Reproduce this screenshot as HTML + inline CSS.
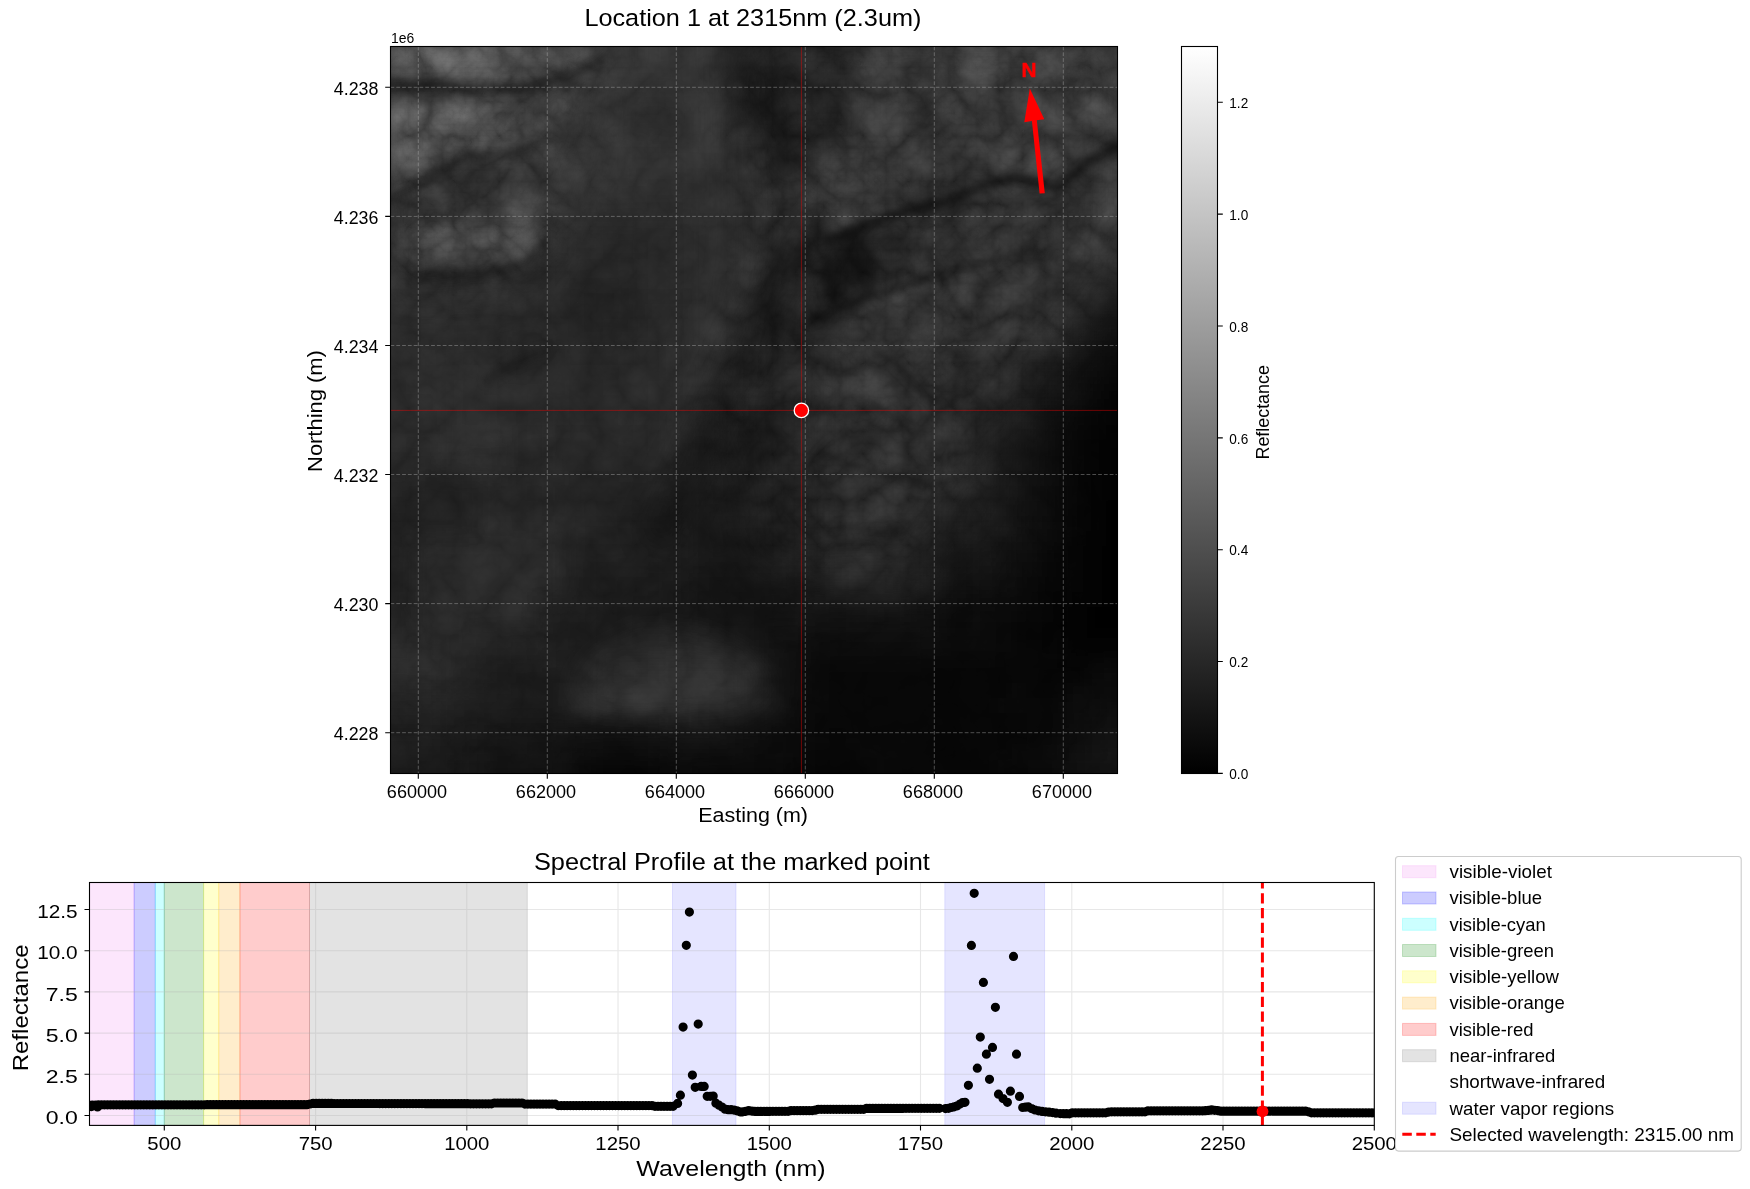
<!DOCTYPE html>
<html><head><meta charset="utf-8"><style>
html,body{margin:0;padding:0;background:#fff;width:1750px;height:1189px;overflow:hidden}
svg{display:block;will-change:transform}
text{font-family:"Liberation Sans", sans-serif}
</style></head><body>
<svg width="1750" height="1189" viewBox="0 0 1750 1189">
<defs><clipPath id="ic"><rect x="390.5" y="46.5" width="727.0" height="727.0"/></clipPath><filter id="ib" x="-5%" y="-5%" width="110%" height="110%" color-interpolation-filters="sRGB"><feGaussianBlur stdDeviation="6.0"/></filter><filter id="fb" x="-10%" y="-10%" width="120%" height="120%" color-interpolation-filters="sRGB"><feGaussianBlur stdDeviation="3.5"/></filter><filter id="tx" x="0" y="0" width="100%" height="100%" color-interpolation-filters="sRGB"><feTurbulence type="turbulence" baseFrequency="0.022" numOctaves="5" seed="11" result="t"/><feColorMatrix in="t" type="matrix" values="0.42 0 0 0 0.361 0.42 0 0 0 0.361 0.42 0 0 0 0.361 0 0 0 0 1" result="n"/><feComposite in="SourceGraphic" in2="n" operator="arithmetic" k1="2" k2="0" k3="0" k4="0"/></filter><filter id="sb" x="-30%" y="-30%" width="160%" height="160%" color-interpolation-filters="sRGB"><feGaussianBlur stdDeviation="12"/></filter><g id="baseimg"><g filter="url(#ib)"><path fill="#010101" d="M1102.4 500.9h15.6v15.6h-15.6zM1117.5 500.9h15.6v15.6h-15.6zM1132.6 500.9h15.6v15.6h-15.6zM1147.8 500.9h15.6v15.6h-15.6zM1162.9 500.9h15.6v15.6h-15.6zM1102.4 516.0h15.6v15.6h-15.6zM1117.5 516.0h15.6v15.6h-15.6zM1132.6 516.0h15.6v15.6h-15.6zM1147.8 516.0h15.6v15.6h-15.6zM1162.9 516.0h15.6v15.6h-15.6zM1102.4 531.2h15.6v15.6h-15.6zM1117.5 531.2h15.6v15.6h-15.6zM1132.6 531.2h15.6v15.6h-15.6zM1147.8 531.2h15.6v15.6h-15.6zM1162.9 531.2h15.6v15.6h-15.6zM1102.4 546.3h15.6v15.6h-15.6zM1117.5 546.3h15.6v15.6h-15.6zM1132.6 546.3h15.6v15.6h-15.6zM1147.8 546.3h15.6v15.6h-15.6zM1162.9 546.3h15.6v15.6h-15.6zM1102.4 561.5h15.6v15.6h-15.6zM1117.5 561.5h15.6v15.6h-15.6zM1132.6 561.5h15.6v15.6h-15.6zM1147.8 561.5h15.6v15.6h-15.6zM1162.9 561.5h15.6v15.6h-15.6zM1102.4 576.6h15.6v15.6h-15.6zM1117.5 576.6h15.6v15.6h-15.6zM1132.6 576.6h15.6v15.6h-15.6zM1147.8 576.6h15.6v15.6h-15.6zM1162.9 576.6h15.6v15.6h-15.6zM1102.4 591.8h15.6v15.6h-15.6zM1117.5 591.8h15.6v15.6h-15.6zM1132.6 591.8h15.6v15.6h-15.6zM1147.8 591.8h15.6v15.6h-15.6zM1162.9 591.8h15.6v15.6h-15.6zM1087.2 606.9h15.6v15.6h-15.6zM1102.4 606.9h15.6v15.6h-15.6zM1117.5 606.9h15.6v15.6h-15.6zM1132.6 606.9h15.6v15.6h-15.6zM1147.8 606.9h15.6v15.6h-15.6zM1162.9 606.9h15.6v15.6h-15.6zM1087.2 622.0h15.6v15.6h-15.6zM1102.4 622.0h15.6v15.6h-15.6zM1117.5 622.0h15.6v15.6h-15.6zM1132.6 622.0h15.6v15.6h-15.6zM1147.8 622.0h15.6v15.6h-15.6zM1162.9 622.0h15.6v15.6h-15.6z"/><path fill="#020202" d="M1102.4 440.3h15.6v15.6h-15.6zM1117.5 440.3h15.6v15.6h-15.6zM1132.6 440.3h15.6v15.6h-15.6zM1147.8 440.3h15.6v15.6h-15.6zM1162.9 440.3h15.6v15.6h-15.6zM1102.4 455.4h15.6v15.6h-15.6zM1117.5 455.4h15.6v15.6h-15.6zM1132.6 455.4h15.6v15.6h-15.6zM1147.8 455.4h15.6v15.6h-15.6zM1162.9 455.4h15.6v15.6h-15.6zM1102.4 470.6h15.6v15.6h-15.6zM1117.5 470.6h15.6v15.6h-15.6zM1132.6 470.6h15.6v15.6h-15.6zM1147.8 470.6h15.6v15.6h-15.6zM1162.9 470.6h15.6v15.6h-15.6zM1102.4 485.7h15.6v15.6h-15.6zM1117.5 485.7h15.6v15.6h-15.6zM1132.6 485.7h15.6v15.6h-15.6zM1147.8 485.7h15.6v15.6h-15.6zM1162.9 485.7h15.6v15.6h-15.6zM1087.2 546.3h15.6v15.6h-15.6zM1087.2 561.5h15.6v15.6h-15.6zM1087.2 576.6h15.6v15.6h-15.6zM1087.2 591.8h15.6v15.6h-15.6zM1072.1 606.9h15.6v15.6h-15.6zM1072.1 622.0h15.6v15.6h-15.6zM1072.1 637.2h15.6v15.6h-15.6zM1087.2 637.2h15.6v15.6h-15.6zM1102.4 637.2h15.6v15.6h-15.6zM1117.5 637.2h15.6v15.6h-15.6zM1132.6 637.2h15.6v15.6h-15.6zM1147.8 637.2h15.6v15.6h-15.6zM1162.9 637.2h15.6v15.6h-15.6z"/><path fill="#030303" d="M1102.4 425.1h15.6v15.6h-15.6zM1117.5 425.1h15.6v15.6h-15.6zM1132.6 425.1h15.6v15.6h-15.6zM1147.8 425.1h15.6v15.6h-15.6zM1162.9 425.1h15.6v15.6h-15.6zM1087.2 470.6h15.6v15.6h-15.6zM1087.2 485.7h15.6v15.6h-15.6zM1087.2 500.9h15.6v15.6h-15.6zM1087.2 516.0h15.6v15.6h-15.6zM1087.2 531.2h15.6v15.6h-15.6zM1072.1 591.8h15.6v15.6h-15.6zM1056.9 622.0h15.6v15.6h-15.6z"/><path fill="#040404" d="M1102.4 394.9h15.6v15.6h-15.6zM1117.5 394.9h15.6v15.6h-15.6zM1132.6 394.9h15.6v15.6h-15.6zM1147.8 394.9h15.6v15.6h-15.6zM1162.9 394.9h15.6v15.6h-15.6zM1102.4 410.0h15.6v15.6h-15.6zM1117.5 410.0h15.6v15.6h-15.6zM1132.6 410.0h15.6v15.6h-15.6zM1147.8 410.0h15.6v15.6h-15.6zM1162.9 410.0h15.6v15.6h-15.6zM1087.2 440.3h15.6v15.6h-15.6zM1087.2 455.4h15.6v15.6h-15.6zM1072.1 531.2h15.6v15.6h-15.6zM1072.1 546.3h15.6v15.6h-15.6zM1072.1 561.5h15.6v15.6h-15.6zM1072.1 576.6h15.6v15.6h-15.6zM1056.9 591.8h15.6v15.6h-15.6zM1056.9 606.9h15.6v15.6h-15.6zM1056.9 637.2h15.6v15.6h-15.6zM1072.1 652.3h15.6v15.6h-15.6z"/><path fill="#050505" d="M1087.2 425.1h15.6v15.6h-15.6zM1072.1 470.6h15.6v15.6h-15.6zM1072.1 485.7h15.6v15.6h-15.6zM1072.1 500.9h15.6v15.6h-15.6zM1072.1 516.0h15.6v15.6h-15.6zM1056.9 576.6h15.6v15.6h-15.6zM1041.8 622.0h15.6v15.6h-15.6zM1041.8 637.2h15.6v15.6h-15.6zM1056.9 652.3h15.6v15.6h-15.6zM1087.2 652.3h15.6v15.6h-15.6z"/><path fill="#060606" d="M1102.4 379.7h15.6v15.6h-15.6zM1117.5 379.7h15.6v15.6h-15.6zM1132.6 379.7h15.6v15.6h-15.6zM1147.8 379.7h15.6v15.6h-15.6zM1162.9 379.7h15.6v15.6h-15.6zM1087.2 410.0h15.6v15.6h-15.6zM1072.1 440.3h15.6v15.6h-15.6zM1072.1 455.4h15.6v15.6h-15.6zM1056.9 546.3h15.6v15.6h-15.6zM1056.9 561.5h15.6v15.6h-15.6zM1041.8 591.8h15.6v15.6h-15.6zM1041.8 606.9h15.6v15.6h-15.6zM1026.6 622.0h15.6v15.6h-15.6zM1026.6 637.2h15.6v15.6h-15.6zM1026.6 652.3h15.6v15.6h-15.6zM1041.8 652.3h15.6v15.6h-15.6zM1102.4 652.3h15.6v15.6h-15.6zM1117.5 652.3h15.6v15.6h-15.6zM1132.6 652.3h15.6v15.6h-15.6zM1147.8 652.3h15.6v15.6h-15.6zM1162.9 652.3h15.6v15.6h-15.6zM1041.8 667.5h15.6v15.6h-15.6zM1056.9 667.5h15.6v15.6h-15.6zM1072.1 667.5h15.6v15.6h-15.6z"/><path fill="#070707" d="M1072.1 425.1h15.6v15.6h-15.6zM1056.9 531.2h15.6v15.6h-15.6zM1041.8 561.5h15.6v15.6h-15.6zM1041.8 576.6h15.6v15.6h-15.6zM1026.6 606.9h15.6v15.6h-15.6zM1011.5 622.0h15.6v15.6h-15.6zM1011.5 637.2h15.6v15.6h-15.6zM996.3 652.3h15.6v15.6h-15.6zM1011.5 652.3h15.6v15.6h-15.6zM935.8 667.5h15.6v15.6h-15.6zM950.9 667.5h15.6v15.6h-15.6zM966.0 667.5h15.6v15.6h-15.6zM981.2 667.5h15.6v15.6h-15.6zM996.3 667.5h15.6v15.6h-15.6zM1011.5 667.5h15.6v15.6h-15.6zM1026.6 667.5h15.6v15.6h-15.6zM935.8 682.6h15.6v15.6h-15.6zM950.9 682.6h15.6v15.6h-15.6zM966.0 682.6h15.6v15.6h-15.6zM981.2 682.6h15.6v15.6h-15.6zM996.3 682.6h15.6v15.6h-15.6zM1026.6 682.6h15.6v15.6h-15.6zM1041.8 682.6h15.6v15.6h-15.6zM1056.9 682.6h15.6v15.6h-15.6zM935.8 697.8h15.6v15.6h-15.6zM950.9 697.8h15.6v15.6h-15.6zM966.0 697.8h15.6v15.6h-15.6zM981.2 697.8h15.6v15.6h-15.6zM935.8 712.9h15.6v15.6h-15.6zM950.9 712.9h15.6v15.6h-15.6zM966.0 712.9h15.6v15.6h-15.6zM981.2 712.9h15.6v15.6h-15.6zM996.3 712.9h15.6v15.6h-15.6zM1011.5 712.9h15.6v15.6h-15.6zM829.7 728.1h15.6v15.6h-15.6zM935.8 728.1h15.6v15.6h-15.6zM950.9 728.1h15.6v15.6h-15.6zM966.0 728.1h15.6v15.6h-15.6zM981.2 728.1h15.6v15.6h-15.6zM996.3 728.1h15.6v15.6h-15.6zM1011.5 728.1h15.6v15.6h-15.6zM814.6 743.2h15.6v15.6h-15.6zM829.7 743.2h15.6v15.6h-15.6zM844.9 743.2h15.6v15.6h-15.6zM935.8 743.2h15.6v15.6h-15.6zM950.9 743.2h15.6v15.6h-15.6zM966.0 743.2h15.6v15.6h-15.6zM981.2 743.2h15.6v15.6h-15.6zM996.3 743.2h15.6v15.6h-15.6zM602.5 758.4h15.6v15.6h-15.6zM617.7 758.4h15.6v15.6h-15.6zM632.8 758.4h15.6v15.6h-15.6zM814.6 758.4h15.6v15.6h-15.6zM829.7 758.4h15.6v15.6h-15.6zM844.9 758.4h15.6v15.6h-15.6zM860.0 758.4h15.6v15.6h-15.6zM935.8 758.4h15.6v15.6h-15.6zM950.9 758.4h15.6v15.6h-15.6zM966.0 758.4h15.6v15.6h-15.6zM981.2 758.4h15.6v15.6h-15.6zM602.5 773.5h15.6v15.6h-15.6zM617.7 773.5h15.6v15.6h-15.6zM632.8 773.5h15.6v15.6h-15.6zM814.6 773.5h15.6v15.6h-15.6zM829.7 773.5h15.6v15.6h-15.6zM844.9 773.5h15.6v15.6h-15.6zM860.0 773.5h15.6v15.6h-15.6zM935.8 773.5h15.6v15.6h-15.6zM950.9 773.5h15.6v15.6h-15.6zM966.0 773.5h15.6v15.6h-15.6zM981.2 773.5h15.6v15.6h-15.6zM602.5 788.6h15.6v15.6h-15.6zM617.7 788.6h15.6v15.6h-15.6zM632.8 788.6h15.6v15.6h-15.6zM814.6 788.6h15.6v15.6h-15.6zM829.7 788.6h15.6v15.6h-15.6zM844.9 788.6h15.6v15.6h-15.6zM860.0 788.6h15.6v15.6h-15.6zM935.8 788.6h15.6v15.6h-15.6zM950.9 788.6h15.6v15.6h-15.6zM966.0 788.6h15.6v15.6h-15.6zM981.2 788.6h15.6v15.6h-15.6zM602.5 803.8h15.6v15.6h-15.6zM617.7 803.8h15.6v15.6h-15.6zM632.8 803.8h15.6v15.6h-15.6zM814.6 803.8h15.6v15.6h-15.6zM829.7 803.8h15.6v15.6h-15.6zM844.9 803.8h15.6v15.6h-15.6zM860.0 803.8h15.6v15.6h-15.6zM935.8 803.8h15.6v15.6h-15.6zM950.9 803.8h15.6v15.6h-15.6zM966.0 803.8h15.6v15.6h-15.6zM981.2 803.8h15.6v15.6h-15.6zM602.5 818.9h15.6v15.6h-15.6zM617.7 818.9h15.6v15.6h-15.6zM632.8 818.9h15.6v15.6h-15.6zM814.6 818.9h15.6v15.6h-15.6zM829.7 818.9h15.6v15.6h-15.6zM844.9 818.9h15.6v15.6h-15.6zM860.0 818.9h15.6v15.6h-15.6zM935.8 818.9h15.6v15.6h-15.6zM950.9 818.9h15.6v15.6h-15.6zM966.0 818.9h15.6v15.6h-15.6zM981.2 818.9h15.6v15.6h-15.6z"/><path fill="#080808" d="M1102.4 364.6h15.6v15.6h-15.6zM1117.5 364.6h15.6v15.6h-15.6zM1132.6 364.6h15.6v15.6h-15.6zM1147.8 364.6h15.6v15.6h-15.6zM1162.9 364.6h15.6v15.6h-15.6zM1087.2 394.9h15.6v15.6h-15.6zM1072.1 410.0h15.6v15.6h-15.6zM1056.9 485.7h15.6v15.6h-15.6zM1056.9 500.9h15.6v15.6h-15.6zM1056.9 516.0h15.6v15.6h-15.6zM1041.8 546.3h15.6v15.6h-15.6zM1026.6 591.8h15.6v15.6h-15.6zM1011.5 606.9h15.6v15.6h-15.6zM996.3 622.0h15.6v15.6h-15.6zM996.3 637.2h15.6v15.6h-15.6zM935.8 652.3h15.6v15.6h-15.6zM950.9 652.3h15.6v15.6h-15.6zM966.0 652.3h15.6v15.6h-15.6zM981.2 652.3h15.6v15.6h-15.6zM829.7 667.5h15.6v15.6h-15.6zM844.9 667.5h15.6v15.6h-15.6zM860.0 667.5h15.6v15.6h-15.6zM875.2 667.5h15.6v15.6h-15.6zM890.3 667.5h15.6v15.6h-15.6zM905.5 667.5h15.6v15.6h-15.6zM920.6 667.5h15.6v15.6h-15.6zM1087.2 667.5h15.6v15.6h-15.6zM829.7 682.6h15.6v15.6h-15.6zM844.9 682.6h15.6v15.6h-15.6zM860.0 682.6h15.6v15.6h-15.6zM875.2 682.6h15.6v15.6h-15.6zM890.3 682.6h15.6v15.6h-15.6zM905.5 682.6h15.6v15.6h-15.6zM920.6 682.6h15.6v15.6h-15.6zM1011.5 682.6h15.6v15.6h-15.6zM1072.1 682.6h15.6v15.6h-15.6zM829.7 697.8h15.6v15.6h-15.6zM844.9 697.8h15.6v15.6h-15.6zM860.0 697.8h15.6v15.6h-15.6zM875.2 697.8h15.6v15.6h-15.6zM890.3 697.8h15.6v15.6h-15.6zM905.5 697.8h15.6v15.6h-15.6zM920.6 697.8h15.6v15.6h-15.6zM996.3 697.8h15.6v15.6h-15.6zM1011.5 697.8h15.6v15.6h-15.6zM1026.6 697.8h15.6v15.6h-15.6zM1041.8 697.8h15.6v15.6h-15.6zM814.6 712.9h15.6v15.6h-15.6zM829.7 712.9h15.6v15.6h-15.6zM844.9 712.9h15.6v15.6h-15.6zM860.0 712.9h15.6v15.6h-15.6zM875.2 712.9h15.6v15.6h-15.6zM890.3 712.9h15.6v15.6h-15.6zM905.5 712.9h15.6v15.6h-15.6zM920.6 712.9h15.6v15.6h-15.6zM1026.6 712.9h15.6v15.6h-15.6zM1041.8 712.9h15.6v15.6h-15.6zM814.6 728.1h15.6v15.6h-15.6zM844.9 728.1h15.6v15.6h-15.6zM860.0 728.1h15.6v15.6h-15.6zM875.2 728.1h15.6v15.6h-15.6zM890.3 728.1h15.6v15.6h-15.6zM905.5 728.1h15.6v15.6h-15.6zM920.6 728.1h15.6v15.6h-15.6zM1026.6 728.1h15.6v15.6h-15.6zM1041.8 728.1h15.6v15.6h-15.6zM799.4 743.2h15.6v15.6h-15.6zM860.0 743.2h15.6v15.6h-15.6zM875.2 743.2h15.6v15.6h-15.6zM890.3 743.2h15.6v15.6h-15.6zM905.5 743.2h15.6v15.6h-15.6zM920.6 743.2h15.6v15.6h-15.6zM1011.5 743.2h15.6v15.6h-15.6zM1026.6 743.2h15.6v15.6h-15.6zM587.4 758.4h15.6v15.6h-15.6zM648.0 758.4h15.6v15.6h-15.6zM784.3 758.4h15.6v15.6h-15.6zM799.4 758.4h15.6v15.6h-15.6zM875.2 758.4h15.6v15.6h-15.6zM890.3 758.4h15.6v15.6h-15.6zM905.5 758.4h15.6v15.6h-15.6zM920.6 758.4h15.6v15.6h-15.6zM996.3 758.4h15.6v15.6h-15.6zM1011.5 758.4h15.6v15.6h-15.6zM587.4 773.5h15.6v15.6h-15.6zM648.0 773.5h15.6v15.6h-15.6zM784.3 773.5h15.6v15.6h-15.6zM799.4 773.5h15.6v15.6h-15.6zM875.2 773.5h15.6v15.6h-15.6zM890.3 773.5h15.6v15.6h-15.6zM905.5 773.5h15.6v15.6h-15.6zM920.6 773.5h15.6v15.6h-15.6zM996.3 773.5h15.6v15.6h-15.6zM1011.5 773.5h15.6v15.6h-15.6zM587.4 788.6h15.6v15.6h-15.6zM648.0 788.6h15.6v15.6h-15.6zM784.3 788.6h15.6v15.6h-15.6zM799.4 788.6h15.6v15.6h-15.6zM875.2 788.6h15.6v15.6h-15.6zM890.3 788.6h15.6v15.6h-15.6zM905.5 788.6h15.6v15.6h-15.6zM920.6 788.6h15.6v15.6h-15.6zM996.3 788.6h15.6v15.6h-15.6zM1011.5 788.6h15.6v15.6h-15.6zM587.4 803.8h15.6v15.6h-15.6zM648.0 803.8h15.6v15.6h-15.6zM784.3 803.8h15.6v15.6h-15.6zM799.4 803.8h15.6v15.6h-15.6zM875.2 803.8h15.6v15.6h-15.6zM890.3 803.8h15.6v15.6h-15.6zM905.5 803.8h15.6v15.6h-15.6zM920.6 803.8h15.6v15.6h-15.6zM996.3 803.8h15.6v15.6h-15.6zM1011.5 803.8h15.6v15.6h-15.6zM587.4 818.9h15.6v15.6h-15.6zM648.0 818.9h15.6v15.6h-15.6zM784.3 818.9h15.6v15.6h-15.6zM799.4 818.9h15.6v15.6h-15.6zM875.2 818.9h15.6v15.6h-15.6zM890.3 818.9h15.6v15.6h-15.6zM905.5 818.9h15.6v15.6h-15.6zM920.6 818.9h15.6v15.6h-15.6zM996.3 818.9h15.6v15.6h-15.6zM1011.5 818.9h15.6v15.6h-15.6z"/><path fill="#090909" d="M1056.9 455.4h15.6v15.6h-15.6zM1056.9 470.6h15.6v15.6h-15.6zM1026.6 576.6h15.6v15.6h-15.6zM996.3 606.9h15.6v15.6h-15.6zM981.2 622.0h15.6v15.6h-15.6zM950.9 637.2h15.6v15.6h-15.6zM966.0 637.2h15.6v15.6h-15.6zM981.2 637.2h15.6v15.6h-15.6zM920.6 652.3h15.6v15.6h-15.6zM814.6 667.5h15.6v15.6h-15.6zM1102.4 667.5h15.6v15.6h-15.6zM1117.5 667.5h15.6v15.6h-15.6zM1132.6 667.5h15.6v15.6h-15.6zM1147.8 667.5h15.6v15.6h-15.6zM1162.9 667.5h15.6v15.6h-15.6zM814.6 682.6h15.6v15.6h-15.6zM799.4 697.8h15.6v15.6h-15.6zM814.6 697.8h15.6v15.6h-15.6zM1056.9 697.8h15.6v15.6h-15.6zM799.4 712.9h15.6v15.6h-15.6zM799.4 728.1h15.6v15.6h-15.6zM784.3 743.2h15.6v15.6h-15.6zM1041.8 743.2h15.6v15.6h-15.6zM754.0 758.4h15.6v15.6h-15.6zM769.1 758.4h15.6v15.6h-15.6zM1026.6 758.4h15.6v15.6h-15.6zM754.0 773.5h15.6v15.6h-15.6zM769.1 773.5h15.6v15.6h-15.6zM1026.6 773.5h15.6v15.6h-15.6zM754.0 788.6h15.6v15.6h-15.6zM769.1 788.6h15.6v15.6h-15.6zM1026.6 788.6h15.6v15.6h-15.6zM754.0 803.8h15.6v15.6h-15.6zM769.1 803.8h15.6v15.6h-15.6zM1026.6 803.8h15.6v15.6h-15.6zM754.0 818.9h15.6v15.6h-15.6zM769.1 818.9h15.6v15.6h-15.6zM1026.6 818.9h15.6v15.6h-15.6z"/><path fill="#0a0a0a" d="M1087.2 379.7h15.6v15.6h-15.6zM1056.9 425.1h15.6v15.6h-15.6zM1056.9 440.3h15.6v15.6h-15.6zM1041.8 531.2h15.6v15.6h-15.6zM1026.6 561.5h15.6v15.6h-15.6zM1011.5 591.8h15.6v15.6h-15.6zM981.2 606.9h15.6v15.6h-15.6zM950.9 622.0h15.6v15.6h-15.6zM966.0 622.0h15.6v15.6h-15.6zM935.8 637.2h15.6v15.6h-15.6zM829.7 652.3h15.6v15.6h-15.6zM844.9 652.3h15.6v15.6h-15.6zM860.0 652.3h15.6v15.6h-15.6zM875.2 652.3h15.6v15.6h-15.6zM890.3 652.3h15.6v15.6h-15.6zM905.5 652.3h15.6v15.6h-15.6zM1087.2 682.6h15.6v15.6h-15.6zM1072.1 697.8h15.6v15.6h-15.6zM1056.9 712.9h15.6v15.6h-15.6zM784.3 728.1h15.6v15.6h-15.6zM769.1 743.2h15.6v15.6h-15.6zM572.2 758.4h15.6v15.6h-15.6zM663.1 758.4h15.6v15.6h-15.6zM693.4 758.4h15.6v15.6h-15.6zM708.6 758.4h15.6v15.6h-15.6zM723.7 758.4h15.6v15.6h-15.6zM738.9 758.4h15.6v15.6h-15.6zM1041.8 758.4h15.6v15.6h-15.6zM572.2 773.5h15.6v15.6h-15.6zM663.1 773.5h15.6v15.6h-15.6zM693.4 773.5h15.6v15.6h-15.6zM708.6 773.5h15.6v15.6h-15.6zM723.7 773.5h15.6v15.6h-15.6zM738.9 773.5h15.6v15.6h-15.6zM1041.8 773.5h15.6v15.6h-15.6zM572.2 788.6h15.6v15.6h-15.6zM663.1 788.6h15.6v15.6h-15.6zM693.4 788.6h15.6v15.6h-15.6zM708.6 788.6h15.6v15.6h-15.6zM723.7 788.6h15.6v15.6h-15.6zM738.9 788.6h15.6v15.6h-15.6zM1041.8 788.6h15.6v15.6h-15.6zM572.2 803.8h15.6v15.6h-15.6zM663.1 803.8h15.6v15.6h-15.6zM693.4 803.8h15.6v15.6h-15.6zM708.6 803.8h15.6v15.6h-15.6zM723.7 803.8h15.6v15.6h-15.6zM738.9 803.8h15.6v15.6h-15.6zM1041.8 803.8h15.6v15.6h-15.6zM572.2 818.9h15.6v15.6h-15.6zM663.1 818.9h15.6v15.6h-15.6zM693.4 818.9h15.6v15.6h-15.6zM708.6 818.9h15.6v15.6h-15.6zM723.7 818.9h15.6v15.6h-15.6zM738.9 818.9h15.6v15.6h-15.6zM1041.8 818.9h15.6v15.6h-15.6z"/><path fill="#0b0b0b" d="M1102.4 349.4h15.6v15.6h-15.6zM1117.5 349.4h15.6v15.6h-15.6zM1132.6 349.4h15.6v15.6h-15.6zM1147.8 349.4h15.6v15.6h-15.6zM1162.9 349.4h15.6v15.6h-15.6zM1041.8 516.0h15.6v15.6h-15.6zM1026.6 546.3h15.6v15.6h-15.6zM996.3 591.8h15.6v15.6h-15.6zM950.9 606.9h15.6v15.6h-15.6zM966.0 606.9h15.6v15.6h-15.6zM920.6 637.2h15.6v15.6h-15.6zM814.6 652.3h15.6v15.6h-15.6zM799.4 682.6h15.6v15.6h-15.6zM1102.4 682.6h15.6v15.6h-15.6zM1117.5 682.6h15.6v15.6h-15.6zM1132.6 682.6h15.6v15.6h-15.6zM1147.8 682.6h15.6v15.6h-15.6zM1162.9 682.6h15.6v15.6h-15.6zM1087.2 697.8h15.6v15.6h-15.6zM1072.1 712.9h15.6v15.6h-15.6zM769.1 728.1h15.6v15.6h-15.6zM1056.9 728.1h15.6v15.6h-15.6zM602.5 743.2h15.6v15.6h-15.6zM617.7 743.2h15.6v15.6h-15.6zM754.0 743.2h15.6v15.6h-15.6zM678.3 758.4h15.6v15.6h-15.6zM678.3 773.5h15.6v15.6h-15.6zM678.3 788.6h15.6v15.6h-15.6zM678.3 803.8h15.6v15.6h-15.6zM678.3 818.9h15.6v15.6h-15.6z"/><path fill="#0c0c0c" d="M1087.2 364.6h15.6v15.6h-15.6zM1072.1 394.9h15.6v15.6h-15.6zM1056.9 410.0h15.6v15.6h-15.6zM1041.8 485.7h15.6v15.6h-15.6zM1041.8 500.9h15.6v15.6h-15.6zM1011.5 576.6h15.6v15.6h-15.6zM981.2 591.8h15.6v15.6h-15.6zM935.8 622.0h15.6v15.6h-15.6zM814.6 637.2h15.6v15.6h-15.6zM829.7 637.2h15.6v15.6h-15.6zM844.9 637.2h15.6v15.6h-15.6zM860.0 637.2h15.6v15.6h-15.6zM875.2 637.2h15.6v15.6h-15.6zM890.3 637.2h15.6v15.6h-15.6zM905.5 637.2h15.6v15.6h-15.6zM799.4 667.5h15.6v15.6h-15.6zM784.3 712.9h15.6v15.6h-15.6zM587.4 743.2h15.6v15.6h-15.6zM632.8 743.2h15.6v15.6h-15.6zM738.9 743.2h15.6v15.6h-15.6zM1056.9 743.2h15.6v15.6h-15.6z"/><path fill="#0d0d0d" d="M1041.8 455.4h15.6v15.6h-15.6zM1041.8 470.6h15.6v15.6h-15.6zM1026.6 531.2h15.6v15.6h-15.6zM1011.5 561.5h15.6v15.6h-15.6zM966.0 591.8h15.6v15.6h-15.6zM799.4 652.3h15.6v15.6h-15.6zM1102.4 697.8h15.6v15.6h-15.6zM1117.5 697.8h15.6v15.6h-15.6zM1132.6 697.8h15.6v15.6h-15.6zM1147.8 697.8h15.6v15.6h-15.6zM1162.9 697.8h15.6v15.6h-15.6zM1087.2 712.9h15.6v15.6h-15.6zM754.0 728.1h15.6v15.6h-15.6zM1072.1 728.1h15.6v15.6h-15.6zM648.0 743.2h15.6v15.6h-15.6zM1056.9 758.4h15.6v15.6h-15.6zM1056.9 773.5h15.6v15.6h-15.6zM1056.9 788.6h15.6v15.6h-15.6zM1056.9 803.8h15.6v15.6h-15.6zM1056.9 818.9h15.6v15.6h-15.6z"/><path fill="#0e0e0e" d="M1041.8 425.1h15.6v15.6h-15.6zM1041.8 440.3h15.6v15.6h-15.6zM1026.6 516.0h15.6v15.6h-15.6zM1011.5 546.3h15.6v15.6h-15.6zM996.3 576.6h15.6v15.6h-15.6zM950.9 591.8h15.6v15.6h-15.6zM935.8 606.9h15.6v15.6h-15.6zM829.7 622.0h15.6v15.6h-15.6zM920.6 622.0h15.6v15.6h-15.6zM799.4 637.2h15.6v15.6h-15.6zM784.3 697.8h15.6v15.6h-15.6zM572.2 743.2h15.6v15.6h-15.6zM708.6 743.2h15.6v15.6h-15.6zM723.7 743.2h15.6v15.6h-15.6zM1072.1 743.2h15.6v15.6h-15.6z"/><path fill="#0f0f0f" d="M1102.4 334.3h15.6v15.6h-15.6zM1117.5 334.3h15.6v15.6h-15.6zM1132.6 334.3h15.6v15.6h-15.6zM1147.8 334.3h15.6v15.6h-15.6zM1162.9 334.3h15.6v15.6h-15.6zM1072.1 379.7h15.6v15.6h-15.6zM1026.6 500.9h15.6v15.6h-15.6zM814.6 622.0h15.6v15.6h-15.6zM844.9 622.0h15.6v15.6h-15.6zM860.0 622.0h15.6v15.6h-15.6zM875.2 622.0h15.6v15.6h-15.6zM890.3 622.0h15.6v15.6h-15.6zM905.5 622.0h15.6v15.6h-15.6zM784.3 637.2h15.6v15.6h-15.6zM784.3 652.3h15.6v15.6h-15.6zM784.3 667.5h15.6v15.6h-15.6zM784.3 682.6h15.6v15.6h-15.6zM1102.4 712.9h15.6v15.6h-15.6zM1117.5 712.9h15.6v15.6h-15.6zM1132.6 712.9h15.6v15.6h-15.6zM1147.8 712.9h15.6v15.6h-15.6zM1162.9 712.9h15.6v15.6h-15.6zM738.9 728.1h15.6v15.6h-15.6zM1087.2 728.1h15.6v15.6h-15.6zM663.1 743.2h15.6v15.6h-15.6zM678.3 743.2h15.6v15.6h-15.6zM693.4 743.2h15.6v15.6h-15.6zM557.1 758.4h15.6v15.6h-15.6zM1072.1 758.4h15.6v15.6h-15.6zM557.1 773.5h15.6v15.6h-15.6zM1072.1 773.5h15.6v15.6h-15.6zM557.1 788.6h15.6v15.6h-15.6zM1072.1 788.6h15.6v15.6h-15.6zM557.1 803.8h15.6v15.6h-15.6zM1072.1 803.8h15.6v15.6h-15.6zM557.1 818.9h15.6v15.6h-15.6zM1072.1 818.9h15.6v15.6h-15.6z"/><path fill="#101010" d="M1087.2 349.4h15.6v15.6h-15.6zM1056.9 394.9h15.6v15.6h-15.6zM1026.6 485.7h15.6v15.6h-15.6zM1011.5 531.2h15.6v15.6h-15.6zM996.3 561.5h15.6v15.6h-15.6zM981.2 576.6h15.6v15.6h-15.6zM920.6 606.9h15.6v15.6h-15.6zM799.4 622.0h15.6v15.6h-15.6zM769.1 637.2h15.6v15.6h-15.6zM769.1 712.9h15.6v15.6h-15.6zM587.4 728.1h15.6v15.6h-15.6zM602.5 728.1h15.6v15.6h-15.6zM617.7 728.1h15.6v15.6h-15.6zM1102.4 728.1h15.6v15.6h-15.6zM1117.5 728.1h15.6v15.6h-15.6zM1132.6 728.1h15.6v15.6h-15.6zM1147.8 728.1h15.6v15.6h-15.6zM1162.9 728.1h15.6v15.6h-15.6zM1087.2 743.2h15.6v15.6h-15.6z"/><path fill="#111111" d="M1072.1 364.6h15.6v15.6h-15.6zM1041.8 410.0h15.6v15.6h-15.6zM1026.6 470.6h15.6v15.6h-15.6zM996.3 546.3h15.6v15.6h-15.6zM966.0 576.6h15.6v15.6h-15.6zM829.7 606.9h15.6v15.6h-15.6zM769.1 622.0h15.6v15.6h-15.6zM784.3 622.0h15.6v15.6h-15.6zM572.2 728.1h15.6v15.6h-15.6zM632.8 728.1h15.6v15.6h-15.6zM723.7 728.1h15.6v15.6h-15.6zM557.1 743.2h15.6v15.6h-15.6zM1087.2 758.4h15.6v15.6h-15.6zM1087.2 773.5h15.6v15.6h-15.6zM1087.2 788.6h15.6v15.6h-15.6zM1087.2 803.8h15.6v15.6h-15.6zM1087.2 818.9h15.6v15.6h-15.6z"/><path fill="#121212" d="M1026.6 440.3h15.6v15.6h-15.6zM1026.6 455.4h15.6v15.6h-15.6zM1011.5 516.0h15.6v15.6h-15.6zM981.2 561.5h15.6v15.6h-15.6zM950.9 576.6h15.6v15.6h-15.6zM935.8 591.8h15.6v15.6h-15.6zM799.4 606.9h15.6v15.6h-15.6zM814.6 606.9h15.6v15.6h-15.6zM844.9 606.9h15.6v15.6h-15.6zM860.0 606.9h15.6v15.6h-15.6zM905.5 606.9h15.6v15.6h-15.6zM754.0 622.0h15.6v15.6h-15.6zM769.1 652.3h15.6v15.6h-15.6zM648.0 728.1h15.6v15.6h-15.6zM1102.4 743.2h15.6v15.6h-15.6zM1117.5 743.2h15.6v15.6h-15.6zM1132.6 743.2h15.6v15.6h-15.6zM1147.8 743.2h15.6v15.6h-15.6zM1162.9 743.2h15.6v15.6h-15.6zM511.7 758.4h15.6v15.6h-15.6zM526.8 758.4h15.6v15.6h-15.6zM542.0 758.4h15.6v15.6h-15.6zM511.7 773.5h15.6v15.6h-15.6zM526.8 773.5h15.6v15.6h-15.6zM542.0 773.5h15.6v15.6h-15.6zM511.7 788.6h15.6v15.6h-15.6zM526.8 788.6h15.6v15.6h-15.6zM542.0 788.6h15.6v15.6h-15.6zM511.7 803.8h15.6v15.6h-15.6zM526.8 803.8h15.6v15.6h-15.6zM542.0 803.8h15.6v15.6h-15.6zM511.7 818.9h15.6v15.6h-15.6zM526.8 818.9h15.6v15.6h-15.6zM542.0 818.9h15.6v15.6h-15.6z"/><path fill="#131313" d="M1102.4 319.1h15.6v15.6h-15.6zM1117.5 319.1h15.6v15.6h-15.6zM1132.6 319.1h15.6v15.6h-15.6zM1147.8 319.1h15.6v15.6h-15.6zM1162.9 319.1h15.6v15.6h-15.6zM1026.6 425.1h15.6v15.6h-15.6zM1011.5 500.9h15.6v15.6h-15.6zM996.3 531.2h15.6v15.6h-15.6zM966.0 561.5h15.6v15.6h-15.6zM754.0 606.9h15.6v15.6h-15.6zM769.1 606.9h15.6v15.6h-15.6zM784.3 606.9h15.6v15.6h-15.6zM875.2 606.9h15.6v15.6h-15.6zM890.3 606.9h15.6v15.6h-15.6zM754.0 637.2h15.6v15.6h-15.6zM769.1 667.5h15.6v15.6h-15.6zM557.1 728.1h15.6v15.6h-15.6zM708.6 728.1h15.6v15.6h-15.6zM526.8 743.2h15.6v15.6h-15.6zM542.0 743.2h15.6v15.6h-15.6zM481.4 758.4h15.6v15.6h-15.6zM496.5 758.4h15.6v15.6h-15.6zM1102.4 758.4h15.6v15.6h-15.6zM1117.5 758.4h15.6v15.6h-15.6zM1132.6 758.4h15.6v15.6h-15.6zM1147.8 758.4h15.6v15.6h-15.6zM1162.9 758.4h15.6v15.6h-15.6zM481.4 773.5h15.6v15.6h-15.6zM496.5 773.5h15.6v15.6h-15.6zM1102.4 773.5h15.6v15.6h-15.6zM1117.5 773.5h15.6v15.6h-15.6zM1132.6 773.5h15.6v15.6h-15.6zM1147.8 773.5h15.6v15.6h-15.6zM1162.9 773.5h15.6v15.6h-15.6zM481.4 788.6h15.6v15.6h-15.6zM496.5 788.6h15.6v15.6h-15.6zM1102.4 788.6h15.6v15.6h-15.6zM1117.5 788.6h15.6v15.6h-15.6zM1132.6 788.6h15.6v15.6h-15.6zM1147.8 788.6h15.6v15.6h-15.6zM1162.9 788.6h15.6v15.6h-15.6zM481.4 803.8h15.6v15.6h-15.6zM496.5 803.8h15.6v15.6h-15.6zM1102.4 803.8h15.6v15.6h-15.6zM1117.5 803.8h15.6v15.6h-15.6zM1132.6 803.8h15.6v15.6h-15.6zM1147.8 803.8h15.6v15.6h-15.6zM1162.9 803.8h15.6v15.6h-15.6zM481.4 818.9h15.6v15.6h-15.6zM496.5 818.9h15.6v15.6h-15.6zM1102.4 818.9h15.6v15.6h-15.6zM1117.5 818.9h15.6v15.6h-15.6zM1132.6 818.9h15.6v15.6h-15.6zM1147.8 818.9h15.6v15.6h-15.6zM1162.9 818.9h15.6v15.6h-15.6z"/><path fill="#141414" d="M1056.9 379.7h15.6v15.6h-15.6zM1011.5 485.7h15.6v15.6h-15.6zM981.2 546.3h15.6v15.6h-15.6zM950.9 561.5h15.6v15.6h-15.6zM708.6 591.8h15.6v15.6h-15.6zM723.7 591.8h15.6v15.6h-15.6zM738.9 591.8h15.6v15.6h-15.6zM754.0 591.8h15.6v15.6h-15.6zM708.6 606.9h15.6v15.6h-15.6zM723.7 606.9h15.6v15.6h-15.6zM738.9 606.9h15.6v15.6h-15.6zM769.1 682.6h15.6v15.6h-15.6zM754.0 712.9h15.6v15.6h-15.6zM526.8 728.1h15.6v15.6h-15.6zM542.0 728.1h15.6v15.6h-15.6zM663.1 728.1h15.6v15.6h-15.6zM678.3 728.1h15.6v15.6h-15.6zM693.4 728.1h15.6v15.6h-15.6zM496.5 743.2h15.6v15.6h-15.6zM511.7 743.2h15.6v15.6h-15.6z"/><path fill="#151515" d="M1041.8 394.9h15.6v15.6h-15.6zM1026.6 410.0h15.6v15.6h-15.6zM1011.5 470.6h15.6v15.6h-15.6zM966.0 546.3h15.6v15.6h-15.6zM708.6 576.6h15.6v15.6h-15.6zM723.7 576.6h15.6v15.6h-15.6zM738.9 576.6h15.6v15.6h-15.6zM693.4 591.8h15.6v15.6h-15.6zM769.1 591.8h15.6v15.6h-15.6zM784.3 591.8h15.6v15.6h-15.6zM693.4 606.9h15.6v15.6h-15.6zM738.9 622.0h15.6v15.6h-15.6zM769.1 697.8h15.6v15.6h-15.6zM511.7 728.1h15.6v15.6h-15.6zM481.4 743.2h15.6v15.6h-15.6zM466.2 758.4h15.6v15.6h-15.6zM466.2 773.5h15.6v15.6h-15.6zM466.2 788.6h15.6v15.6h-15.6zM466.2 803.8h15.6v15.6h-15.6zM466.2 818.9h15.6v15.6h-15.6z"/><path fill="#161616" d="M1087.2 334.3h15.6v15.6h-15.6zM1072.1 349.4h15.6v15.6h-15.6zM1011.5 455.4h15.6v15.6h-15.6zM996.3 516.0h15.6v15.6h-15.6zM708.6 561.5h15.6v15.6h-15.6zM723.7 561.5h15.6v15.6h-15.6zM738.9 561.5h15.6v15.6h-15.6zM693.4 576.6h15.6v15.6h-15.6zM754.0 576.6h15.6v15.6h-15.6zM935.8 576.6h15.6v15.6h-15.6zM799.4 591.8h15.6v15.6h-15.6zM920.6 591.8h15.6v15.6h-15.6zM708.6 622.0h15.6v15.6h-15.6zM723.7 622.0h15.6v15.6h-15.6zM738.9 637.2h15.6v15.6h-15.6zM754.0 652.3h15.6v15.6h-15.6zM496.5 728.1h15.6v15.6h-15.6z"/><path fill="#171717" d="M1056.9 364.6h15.6v15.6h-15.6zM1011.5 440.3h15.6v15.6h-15.6zM996.3 500.9h15.6v15.6h-15.6zM723.7 531.2h15.6v15.6h-15.6zM981.2 531.2h15.6v15.6h-15.6zM708.6 546.3h15.6v15.6h-15.6zM723.7 546.3h15.6v15.6h-15.6zM950.9 546.3h15.6v15.6h-15.6zM693.4 561.5h15.6v15.6h-15.6zM769.1 576.6h15.6v15.6h-15.6zM678.3 591.8h15.6v15.6h-15.6zM814.6 591.8h15.6v15.6h-15.6zM678.3 606.9h15.6v15.6h-15.6zM693.4 622.0h15.6v15.6h-15.6zM481.4 728.1h15.6v15.6h-15.6zM466.2 743.2h15.6v15.6h-15.6zM451.1 758.4h15.6v15.6h-15.6zM451.1 773.5h15.6v15.6h-15.6zM451.1 788.6h15.6v15.6h-15.6zM451.1 803.8h15.6v15.6h-15.6zM451.1 818.9h15.6v15.6h-15.6z"/><path fill="#181818" d="M1102.4 304.0h15.6v15.6h-15.6zM1117.5 304.0h15.6v15.6h-15.6zM1132.6 304.0h15.6v15.6h-15.6zM1147.8 304.0h15.6v15.6h-15.6zM1162.9 304.0h15.6v15.6h-15.6zM1011.5 425.1h15.6v15.6h-15.6zM708.6 516.0h15.6v15.6h-15.6zM723.7 516.0h15.6v15.6h-15.6zM708.6 531.2h15.6v15.6h-15.6zM738.9 531.2h15.6v15.6h-15.6zM738.9 546.3h15.6v15.6h-15.6zM754.0 561.5h15.6v15.6h-15.6zM678.3 576.6h15.6v15.6h-15.6zM784.3 576.6h15.6v15.6h-15.6zM905.5 591.8h15.6v15.6h-15.6zM663.1 606.9h15.6v15.6h-15.6zM678.3 622.0h15.6v15.6h-15.6zM723.7 637.2h15.6v15.6h-15.6zM511.7 712.9h15.6v15.6h-15.6zM526.8 712.9h15.6v15.6h-15.6zM542.0 712.9h15.6v15.6h-15.6zM557.1 712.9h15.6v15.6h-15.6z"/><path fill="#191919" d="M1041.8 379.7h15.6v15.6h-15.6zM1026.6 394.9h15.6v15.6h-15.6zM996.3 485.7h15.6v15.6h-15.6zM708.6 500.9h15.6v15.6h-15.6zM723.7 500.9h15.6v15.6h-15.6zM693.4 516.0h15.6v15.6h-15.6zM738.9 516.0h15.6v15.6h-15.6zM693.4 531.2h15.6v15.6h-15.6zM966.0 531.2h15.6v15.6h-15.6zM693.4 546.3h15.6v15.6h-15.6zM754.0 546.3h15.6v15.6h-15.6zM769.1 561.5h15.6v15.6h-15.6zM935.8 561.5h15.6v15.6h-15.6zM663.1 591.8h15.6v15.6h-15.6zM829.7 591.8h15.6v15.6h-15.6zM632.8 606.9h15.6v15.6h-15.6zM648.0 606.9h15.6v15.6h-15.6zM632.8 622.0h15.6v15.6h-15.6zM648.0 622.0h15.6v15.6h-15.6zM663.1 622.0h15.6v15.6h-15.6zM693.4 637.2h15.6v15.6h-15.6zM708.6 637.2h15.6v15.6h-15.6zM754.0 667.5h15.6v15.6h-15.6zM481.4 712.9h15.6v15.6h-15.6zM496.5 712.9h15.6v15.6h-15.6zM572.2 712.9h15.6v15.6h-15.6zM738.9 712.9h15.6v15.6h-15.6zM466.2 728.1h15.6v15.6h-15.6zM451.1 743.2h15.6v15.6h-15.6zM435.9 758.4h15.6v15.6h-15.6zM435.9 773.5h15.6v15.6h-15.6zM435.9 788.6h15.6v15.6h-15.6zM435.9 803.8h15.6v15.6h-15.6zM435.9 818.9h15.6v15.6h-15.6z"/><path fill="#1a1a1a" d="M860.0 258.5h15.6v15.6h-15.6zM1011.5 410.0h15.6v15.6h-15.6zM996.3 470.6h15.6v15.6h-15.6zM723.7 485.7h15.6v15.6h-15.6zM738.9 500.9h15.6v15.6h-15.6zM981.2 516.0h15.6v15.6h-15.6zM754.0 531.2h15.6v15.6h-15.6zM678.3 561.5h15.6v15.6h-15.6zM663.1 576.6h15.6v15.6h-15.6zM632.8 591.8h15.6v15.6h-15.6zM648.0 591.8h15.6v15.6h-15.6zM844.9 591.8h15.6v15.6h-15.6zM860.0 591.8h15.6v15.6h-15.6zM875.2 591.8h15.6v15.6h-15.6zM890.3 591.8h15.6v15.6h-15.6zM617.7 606.9h15.6v15.6h-15.6zM617.7 622.0h15.6v15.6h-15.6zM617.7 637.2h15.6v15.6h-15.6zM632.8 637.2h15.6v15.6h-15.6zM648.0 637.2h15.6v15.6h-15.6zM587.4 712.9h15.6v15.6h-15.6zM451.1 728.1h15.6v15.6h-15.6zM435.9 743.2h15.6v15.6h-15.6zM420.8 758.4h15.6v15.6h-15.6zM420.8 773.5h15.6v15.6h-15.6zM420.8 788.6h15.6v15.6h-15.6zM420.8 803.8h15.6v15.6h-15.6zM420.8 818.9h15.6v15.6h-15.6z"/><path fill="#1b1b1b" d="M1087.2 319.1h15.6v15.6h-15.6zM1056.9 349.4h15.6v15.6h-15.6zM996.3 455.4h15.6v15.6h-15.6zM723.7 470.6h15.6v15.6h-15.6zM738.9 470.6h15.6v15.6h-15.6zM708.6 485.7h15.6v15.6h-15.6zM738.9 485.7h15.6v15.6h-15.6zM693.4 500.9h15.6v15.6h-15.6zM754.0 516.0h15.6v15.6h-15.6zM950.9 531.2h15.6v15.6h-15.6zM769.1 546.3h15.6v15.6h-15.6zM784.3 561.5h15.6v15.6h-15.6zM648.0 576.6h15.6v15.6h-15.6zM799.4 576.6h15.6v15.6h-15.6zM920.6 576.6h15.6v15.6h-15.6zM617.7 591.8h15.6v15.6h-15.6zM602.5 606.9h15.6v15.6h-15.6zM587.4 622.0h15.6v15.6h-15.6zM602.5 622.0h15.6v15.6h-15.6zM572.2 637.2h15.6v15.6h-15.6zM587.4 637.2h15.6v15.6h-15.6zM602.5 637.2h15.6v15.6h-15.6zM663.1 637.2h15.6v15.6h-15.6zM678.3 637.2h15.6v15.6h-15.6zM572.2 652.3h15.6v15.6h-15.6zM572.2 667.5h15.6v15.6h-15.6zM754.0 682.6h15.6v15.6h-15.6zM496.5 697.8h15.6v15.6h-15.6zM511.7 697.8h15.6v15.6h-15.6zM526.8 697.8h15.6v15.6h-15.6zM542.0 697.8h15.6v15.6h-15.6zM466.2 712.9h15.6v15.6h-15.6zM602.5 712.9h15.6v15.6h-15.6zM329.9 758.4h15.6v15.6h-15.6zM345.1 758.4h15.6v15.6h-15.6zM360.2 758.4h15.6v15.6h-15.6zM375.4 758.4h15.6v15.6h-15.6zM390.5 758.4h15.6v15.6h-15.6zM405.6 758.4h15.6v15.6h-15.6zM329.9 773.5h15.6v15.6h-15.6zM345.1 773.5h15.6v15.6h-15.6zM360.2 773.5h15.6v15.6h-15.6zM375.4 773.5h15.6v15.6h-15.6zM390.5 773.5h15.6v15.6h-15.6zM405.6 773.5h15.6v15.6h-15.6zM329.9 788.6h15.6v15.6h-15.6zM345.1 788.6h15.6v15.6h-15.6zM360.2 788.6h15.6v15.6h-15.6zM375.4 788.6h15.6v15.6h-15.6zM390.5 788.6h15.6v15.6h-15.6zM405.6 788.6h15.6v15.6h-15.6zM329.9 803.8h15.6v15.6h-15.6zM345.1 803.8h15.6v15.6h-15.6zM360.2 803.8h15.6v15.6h-15.6zM375.4 803.8h15.6v15.6h-15.6zM390.5 803.8h15.6v15.6h-15.6zM405.6 803.8h15.6v15.6h-15.6zM329.9 818.9h15.6v15.6h-15.6zM345.1 818.9h15.6v15.6h-15.6zM360.2 818.9h15.6v15.6h-15.6zM375.4 818.9h15.6v15.6h-15.6zM390.5 818.9h15.6v15.6h-15.6zM405.6 818.9h15.6v15.6h-15.6z"/><path fill="#1c1c1c" d="M860.0 243.4h15.6v15.6h-15.6zM844.9 258.5h15.6v15.6h-15.6zM814.6 288.8h15.6v15.6h-15.6zM814.6 304.0h15.6v15.6h-15.6zM1041.8 364.6h15.6v15.6h-15.6zM738.9 425.1h15.6v15.6h-15.6zM738.9 440.3h15.6v15.6h-15.6zM996.3 440.3h15.6v15.6h-15.6zM723.7 455.4h15.6v15.6h-15.6zM738.9 455.4h15.6v15.6h-15.6zM708.6 470.6h15.6v15.6h-15.6zM754.0 500.9h15.6v15.6h-15.6zM981.2 500.9h15.6v15.6h-15.6zM678.3 531.2h15.6v15.6h-15.6zM769.1 531.2h15.6v15.6h-15.6zM678.3 546.3h15.6v15.6h-15.6zM935.8 546.3h15.6v15.6h-15.6zM663.1 561.5h15.6v15.6h-15.6zM617.7 576.6h15.6v15.6h-15.6zM632.8 576.6h15.6v15.6h-15.6zM602.5 591.8h15.6v15.6h-15.6zM587.4 606.9h15.6v15.6h-15.6zM572.2 622.0h15.6v15.6h-15.6zM557.1 652.3h15.6v15.6h-15.6zM587.4 652.3h15.6v15.6h-15.6zM738.9 652.3h15.6v15.6h-15.6zM511.7 667.5h15.6v15.6h-15.6zM526.8 667.5h15.6v15.6h-15.6zM542.0 667.5h15.6v15.6h-15.6zM557.1 667.5h15.6v15.6h-15.6zM511.7 682.6h15.6v15.6h-15.6zM526.8 682.6h15.6v15.6h-15.6zM542.0 682.6h15.6v15.6h-15.6zM481.4 697.8h15.6v15.6h-15.6zM754.0 697.8h15.6v15.6h-15.6zM451.1 712.9h15.6v15.6h-15.6zM617.7 712.9h15.6v15.6h-15.6zM723.7 712.9h15.6v15.6h-15.6zM435.9 728.1h15.6v15.6h-15.6zM329.9 743.2h15.6v15.6h-15.6zM345.1 743.2h15.6v15.6h-15.6zM360.2 743.2h15.6v15.6h-15.6zM375.4 743.2h15.6v15.6h-15.6zM390.5 743.2h15.6v15.6h-15.6zM405.6 743.2h15.6v15.6h-15.6zM420.8 743.2h15.6v15.6h-15.6z"/><path fill="#1d1d1d" d="M814.6 319.1h15.6v15.6h-15.6zM1072.1 334.3h15.6v15.6h-15.6zM1026.6 379.7h15.6v15.6h-15.6zM1011.5 394.9h15.6v15.6h-15.6zM723.7 425.1h15.6v15.6h-15.6zM754.0 425.1h15.6v15.6h-15.6zM996.3 425.1h15.6v15.6h-15.6zM723.7 440.3h15.6v15.6h-15.6zM754.0 440.3h15.6v15.6h-15.6zM754.0 455.4h15.6v15.6h-15.6zM693.4 485.7h15.6v15.6h-15.6zM754.0 485.7h15.6v15.6h-15.6zM678.3 516.0h15.6v15.6h-15.6zM769.1 516.0h15.6v15.6h-15.6zM966.0 516.0h15.6v15.6h-15.6zM784.3 546.3h15.6v15.6h-15.6zM617.7 561.5h15.6v15.6h-15.6zM632.8 561.5h15.6v15.6h-15.6zM648.0 561.5h15.6v15.6h-15.6zM587.4 576.6h15.6v15.6h-15.6zM602.5 576.6h15.6v15.6h-15.6zM587.4 591.8h15.6v15.6h-15.6zM572.2 606.9h15.6v15.6h-15.6zM557.1 622.0h15.6v15.6h-15.6zM557.1 637.2h15.6v15.6h-15.6zM542.0 652.3h15.6v15.6h-15.6zM496.5 682.6h15.6v15.6h-15.6zM557.1 682.6h15.6v15.6h-15.6zM466.2 697.8h15.6v15.6h-15.6zM632.8 712.9h15.6v15.6h-15.6zM708.6 712.9h15.6v15.6h-15.6zM329.9 728.1h15.6v15.6h-15.6zM345.1 728.1h15.6v15.6h-15.6zM360.2 728.1h15.6v15.6h-15.6zM375.4 728.1h15.6v15.6h-15.6zM390.5 728.1h15.6v15.6h-15.6zM405.6 728.1h15.6v15.6h-15.6z"/><path fill="#1e1e1e" d="M829.7 273.7h15.6v15.6h-15.6zM829.7 288.8h15.6v15.6h-15.6zM738.9 410.0h15.6v15.6h-15.6zM754.0 410.0h15.6v15.6h-15.6zM769.1 425.1h15.6v15.6h-15.6zM708.6 455.4h15.6v15.6h-15.6zM754.0 470.6h15.6v15.6h-15.6zM981.2 485.7h15.6v15.6h-15.6zM769.1 500.9h15.6v15.6h-15.6zM784.3 516.0h15.6v15.6h-15.6zM784.3 531.2h15.6v15.6h-15.6zM648.0 546.3h15.6v15.6h-15.6zM663.1 546.3h15.6v15.6h-15.6zM587.4 561.5h15.6v15.6h-15.6zM602.5 561.5h15.6v15.6h-15.6zM799.4 561.5h15.6v15.6h-15.6zM814.6 576.6h15.6v15.6h-15.6zM572.2 591.8h15.6v15.6h-15.6zM557.1 606.9h15.6v15.6h-15.6zM542.0 637.2h15.6v15.6h-15.6zM526.8 652.3h15.6v15.6h-15.6zM602.5 652.3h15.6v15.6h-15.6zM496.5 667.5h15.6v15.6h-15.6zM587.4 667.5h15.6v15.6h-15.6zM481.4 682.6h15.6v15.6h-15.6zM451.1 697.8h15.6v15.6h-15.6zM557.1 697.8h15.6v15.6h-15.6zM435.9 712.9h15.6v15.6h-15.6zM648.0 712.9h15.6v15.6h-15.6zM693.4 712.9h15.6v15.6h-15.6zM420.8 728.1h15.6v15.6h-15.6z"/><path fill="#1f1f1f" d="M799.4 107.1h15.6v15.6h-15.6zM814.6 107.1h15.6v15.6h-15.6zM844.9 243.4h15.6v15.6h-15.6zM875.2 258.5h15.6v15.6h-15.6zM1102.4 288.8h15.6v15.6h-15.6zM1117.5 288.8h15.6v15.6h-15.6zM1132.6 288.8h15.6v15.6h-15.6zM1147.8 288.8h15.6v15.6h-15.6zM1162.9 288.8h15.6v15.6h-15.6zM799.4 304.0h15.6v15.6h-15.6zM829.7 304.0h15.6v15.6h-15.6zM1087.2 304.0h15.6v15.6h-15.6zM799.4 319.1h15.6v15.6h-15.6zM769.1 410.0h15.6v15.6h-15.6zM996.3 410.0h15.6v15.6h-15.6zM769.1 440.3h15.6v15.6h-15.6zM693.4 470.6h15.6v15.6h-15.6zM981.2 470.6h15.6v15.6h-15.6zM769.1 485.7h15.6v15.6h-15.6zM678.3 500.9h15.6v15.6h-15.6zM784.3 500.9h15.6v15.6h-15.6zM663.1 516.0h15.6v15.6h-15.6zM950.9 516.0h15.6v15.6h-15.6zM632.8 531.2h15.6v15.6h-15.6zM648.0 531.2h15.6v15.6h-15.6zM663.1 531.2h15.6v15.6h-15.6zM935.8 531.2h15.6v15.6h-15.6zM587.4 546.3h15.6v15.6h-15.6zM602.5 546.3h15.6v15.6h-15.6zM617.7 546.3h15.6v15.6h-15.6zM632.8 546.3h15.6v15.6h-15.6zM920.6 561.5h15.6v15.6h-15.6zM572.2 576.6h15.6v15.6h-15.6zM905.5 576.6h15.6v15.6h-15.6zM542.0 622.0h15.6v15.6h-15.6zM511.7 652.3h15.6v15.6h-15.6zM617.7 652.3h15.6v15.6h-15.6zM632.8 652.3h15.6v15.6h-15.6zM723.7 652.3h15.6v15.6h-15.6zM481.4 667.5h15.6v15.6h-15.6zM572.2 682.6h15.6v15.6h-15.6zM663.1 712.9h15.6v15.6h-15.6zM678.3 712.9h15.6v15.6h-15.6z"/><path fill="#202020" d="M784.3 107.1h15.6v15.6h-15.6zM875.2 243.4h15.6v15.6h-15.6zM829.7 258.5h15.6v15.6h-15.6zM814.6 273.7h15.6v15.6h-15.6zM844.9 273.7h15.6v15.6h-15.6zM799.4 288.8h15.6v15.6h-15.6zM784.3 319.1h15.6v15.6h-15.6zM799.4 334.3h15.6v15.6h-15.6zM1026.6 364.6h15.6v15.6h-15.6zM723.7 410.0h15.6v15.6h-15.6zM784.3 410.0h15.6v15.6h-15.6zM784.3 425.1h15.6v15.6h-15.6zM708.6 440.3h15.6v15.6h-15.6zM769.1 455.4h15.6v15.6h-15.6zM981.2 455.4h15.6v15.6h-15.6zM769.1 470.6h15.6v15.6h-15.6zM420.8 500.9h15.6v15.6h-15.6zM435.9 500.9h15.6v15.6h-15.6zM451.1 500.9h15.6v15.6h-15.6zM966.0 500.9h15.6v15.6h-15.6zM329.9 516.0h15.6v15.6h-15.6zM345.1 516.0h15.6v15.6h-15.6zM360.2 516.0h15.6v15.6h-15.6zM375.4 516.0h15.6v15.6h-15.6zM390.5 516.0h15.6v15.6h-15.6zM632.8 516.0h15.6v15.6h-15.6zM648.0 516.0h15.6v15.6h-15.6zM587.4 531.2h15.6v15.6h-15.6zM602.5 531.2h15.6v15.6h-15.6zM617.7 531.2h15.6v15.6h-15.6zM572.2 546.3h15.6v15.6h-15.6zM799.4 546.3h15.6v15.6h-15.6zM329.9 561.5h15.6v15.6h-15.6zM345.1 561.5h15.6v15.6h-15.6zM360.2 561.5h15.6v15.6h-15.6zM375.4 561.5h15.6v15.6h-15.6zM390.5 561.5h15.6v15.6h-15.6zM572.2 561.5h15.6v15.6h-15.6zM329.9 576.6h15.6v15.6h-15.6zM345.1 576.6h15.6v15.6h-15.6zM360.2 576.6h15.6v15.6h-15.6zM375.4 576.6h15.6v15.6h-15.6zM390.5 576.6h15.6v15.6h-15.6zM542.0 606.9h15.6v15.6h-15.6zM526.8 637.2h15.6v15.6h-15.6zM496.5 652.3h15.6v15.6h-15.6zM648.0 652.3h15.6v15.6h-15.6zM693.4 652.3h15.6v15.6h-15.6zM708.6 652.3h15.6v15.6h-15.6zM466.2 682.6h15.6v15.6h-15.6zM435.9 697.8h15.6v15.6h-15.6zM329.9 712.9h15.6v15.6h-15.6zM345.1 712.9h15.6v15.6h-15.6zM360.2 712.9h15.6v15.6h-15.6zM375.4 712.9h15.6v15.6h-15.6zM390.5 712.9h15.6v15.6h-15.6zM405.6 712.9h15.6v15.6h-15.6zM420.8 712.9h15.6v15.6h-15.6z"/><path fill="#212121" d="M799.4 91.9h15.6v15.6h-15.6zM814.6 91.9h15.6v15.6h-15.6zM784.3 304.0h15.6v15.6h-15.6zM829.7 319.1h15.6v15.6h-15.6zM784.3 334.3h15.6v15.6h-15.6zM814.6 334.3h15.6v15.6h-15.6zM1041.8 349.4h15.6v15.6h-15.6zM1011.5 379.7h15.6v15.6h-15.6zM708.6 425.1h15.6v15.6h-15.6zM784.3 440.3h15.6v15.6h-15.6zM693.4 455.4h15.6v15.6h-15.6zM420.8 485.7h15.6v15.6h-15.6zM435.9 485.7h15.6v15.6h-15.6zM451.1 485.7h15.6v15.6h-15.6zM678.3 485.7h15.6v15.6h-15.6zM784.3 485.7h15.6v15.6h-15.6zM966.0 485.7h15.6v15.6h-15.6zM405.6 500.9h15.6v15.6h-15.6zM648.0 500.9h15.6v15.6h-15.6zM663.1 500.9h15.6v15.6h-15.6zM405.6 516.0h15.6v15.6h-15.6zM420.8 516.0h15.6v15.6h-15.6zM435.9 516.0h15.6v15.6h-15.6zM617.7 516.0h15.6v15.6h-15.6zM799.4 516.0h15.6v15.6h-15.6zM329.9 531.2h15.6v15.6h-15.6zM345.1 531.2h15.6v15.6h-15.6zM360.2 531.2h15.6v15.6h-15.6zM375.4 531.2h15.6v15.6h-15.6zM390.5 531.2h15.6v15.6h-15.6zM572.2 531.2h15.6v15.6h-15.6zM799.4 531.2h15.6v15.6h-15.6zM329.9 546.3h15.6v15.6h-15.6zM345.1 546.3h15.6v15.6h-15.6zM360.2 546.3h15.6v15.6h-15.6zM375.4 546.3h15.6v15.6h-15.6zM390.5 546.3h15.6v15.6h-15.6zM829.7 576.6h15.6v15.6h-15.6zM329.9 591.8h15.6v15.6h-15.6zM345.1 591.8h15.6v15.6h-15.6zM360.2 591.8h15.6v15.6h-15.6zM375.4 591.8h15.6v15.6h-15.6zM390.5 591.8h15.6v15.6h-15.6zM557.1 591.8h15.6v15.6h-15.6zM511.7 637.2h15.6v15.6h-15.6zM481.4 652.3h15.6v15.6h-15.6zM663.1 652.3h15.6v15.6h-15.6zM678.3 652.3h15.6v15.6h-15.6zM602.5 667.5h15.6v15.6h-15.6zM738.9 667.5h15.6v15.6h-15.6z"/><path fill="#222222" d="M784.3 -14.1h15.6v15.6h-15.6zM799.4 -14.1h15.6v15.6h-15.6zM784.3 1.1h15.6v15.6h-15.6zM799.4 1.1h15.6v15.6h-15.6zM784.3 16.2h15.6v15.6h-15.6zM799.4 16.2h15.6v15.6h-15.6zM784.3 31.4h15.6v15.6h-15.6zM799.4 31.4h15.6v15.6h-15.6zM784.3 46.5h15.6v15.6h-15.6zM799.4 46.5h15.6v15.6h-15.6zM769.1 76.8h15.6v15.6h-15.6zM769.1 91.9h15.6v15.6h-15.6zM784.3 91.9h15.6v15.6h-15.6zM769.1 107.1h15.6v15.6h-15.6zM860.0 228.2h15.6v15.6h-15.6zM860.0 273.7h15.6v15.6h-15.6zM769.1 319.1h15.6v15.6h-15.6zM1056.9 334.3h15.6v15.6h-15.6zM738.9 394.9h15.6v15.6h-15.6zM754.0 394.9h15.6v15.6h-15.6zM769.1 394.9h15.6v15.6h-15.6zM784.3 394.9h15.6v15.6h-15.6zM996.3 394.9h15.6v15.6h-15.6zM981.2 440.3h15.6v15.6h-15.6zM784.3 455.4h15.6v15.6h-15.6zM784.3 470.6h15.6v15.6h-15.6zM405.6 485.7h15.6v15.6h-15.6zM329.9 500.9h15.6v15.6h-15.6zM345.1 500.9h15.6v15.6h-15.6zM360.2 500.9h15.6v15.6h-15.6zM375.4 500.9h15.6v15.6h-15.6zM390.5 500.9h15.6v15.6h-15.6zM617.7 500.9h15.6v15.6h-15.6zM632.8 500.9h15.6v15.6h-15.6zM799.4 500.9h15.6v15.6h-15.6zM950.9 500.9h15.6v15.6h-15.6zM451.1 516.0h15.6v15.6h-15.6zM587.4 516.0h15.6v15.6h-15.6zM602.5 516.0h15.6v15.6h-15.6zM935.8 516.0h15.6v15.6h-15.6zM920.6 546.3h15.6v15.6h-15.6zM814.6 561.5h15.6v15.6h-15.6zM890.3 576.6h15.6v15.6h-15.6zM496.5 637.2h15.6v15.6h-15.6zM451.1 682.6h15.6v15.6h-15.6zM587.4 682.6h15.6v15.6h-15.6zM572.2 697.8h15.6v15.6h-15.6z"/><path fill="#232323" d="M769.1 61.6h15.6v15.6h-15.6zM784.3 61.6h15.6v15.6h-15.6zM799.4 61.6h15.6v15.6h-15.6zM814.6 61.6h15.6v15.6h-15.6zM784.3 76.8h15.6v15.6h-15.6zM799.4 76.8h15.6v15.6h-15.6zM814.6 76.8h15.6v15.6h-15.6zM829.7 107.1h15.6v15.6h-15.6zM784.3 122.2h15.6v15.6h-15.6zM799.4 122.2h15.6v15.6h-15.6zM587.4 288.8h15.6v15.6h-15.6zM602.5 288.8h15.6v15.6h-15.6zM784.3 288.8h15.6v15.6h-15.6zM587.4 304.0h15.6v15.6h-15.6zM602.5 304.0h15.6v15.6h-15.6zM769.1 304.0h15.6v15.6h-15.6zM587.4 319.1h15.6v15.6h-15.6zM1072.1 319.1h15.6v15.6h-15.6zM769.1 334.3h15.6v15.6h-15.6zM784.3 349.4h15.6v15.6h-15.6zM799.4 349.4h15.6v15.6h-15.6zM784.3 379.7h15.6v15.6h-15.6zM799.4 410.0h15.6v15.6h-15.6zM799.4 425.1h15.6v15.6h-15.6zM981.2 425.1h15.6v15.6h-15.6zM693.4 440.3h15.6v15.6h-15.6zM420.8 470.6h15.6v15.6h-15.6zM966.0 470.6h15.6v15.6h-15.6zM632.8 485.7h15.6v15.6h-15.6zM648.0 485.7h15.6v15.6h-15.6zM587.4 500.9h15.6v15.6h-15.6zM602.5 500.9h15.6v15.6h-15.6zM572.2 516.0h15.6v15.6h-15.6zM405.6 531.2h15.6v15.6h-15.6zM905.5 561.5h15.6v15.6h-15.6zM844.9 576.6h15.6v15.6h-15.6zM329.9 606.9h15.6v15.6h-15.6zM345.1 606.9h15.6v15.6h-15.6zM360.2 606.9h15.6v15.6h-15.6zM375.4 606.9h15.6v15.6h-15.6zM390.5 606.9h15.6v15.6h-15.6zM526.8 622.0h15.6v15.6h-15.6zM481.4 637.2h15.6v15.6h-15.6zM466.2 667.5h15.6v15.6h-15.6zM617.7 667.5h15.6v15.6h-15.6zM738.9 682.6h15.6v15.6h-15.6zM420.8 697.8h15.6v15.6h-15.6zM738.9 697.8h15.6v15.6h-15.6z"/><path fill="#242424" d="M814.6 -14.1h15.6v15.6h-15.6zM814.6 1.1h15.6v15.6h-15.6zM814.6 16.2h15.6v15.6h-15.6zM814.6 31.4h15.6v15.6h-15.6zM814.6 46.5h15.6v15.6h-15.6zM754.0 76.8h15.6v15.6h-15.6zM754.0 91.9h15.6v15.6h-15.6zM754.0 107.1h15.6v15.6h-15.6zM814.6 122.2h15.6v15.6h-15.6zM875.2 228.2h15.6v15.6h-15.6zM814.6 258.5h15.6v15.6h-15.6zM799.4 273.7h15.6v15.6h-15.6zM572.2 288.8h15.6v15.6h-15.6zM1087.2 288.8h15.6v15.6h-15.6zM572.2 304.0h15.6v15.6h-15.6zM617.7 304.0h15.6v15.6h-15.6zM572.2 319.1h15.6v15.6h-15.6zM602.5 319.1h15.6v15.6h-15.6zM829.7 334.3h15.6v15.6h-15.6zM784.3 364.6h15.6v15.6h-15.6zM1011.5 364.6h15.6v15.6h-15.6zM754.0 379.7h15.6v15.6h-15.6zM769.1 379.7h15.6v15.6h-15.6zM996.3 379.7h15.6v15.6h-15.6zM708.6 410.0h15.6v15.6h-15.6zM981.2 410.0h15.6v15.6h-15.6zM435.9 470.6h15.6v15.6h-15.6zM678.3 470.6h15.6v15.6h-15.6zM329.9 485.7h15.6v15.6h-15.6zM345.1 485.7h15.6v15.6h-15.6zM360.2 485.7h15.6v15.6h-15.6zM375.4 485.7h15.6v15.6h-15.6zM390.5 485.7h15.6v15.6h-15.6zM466.2 485.7h15.6v15.6h-15.6zM572.2 485.7h15.6v15.6h-15.6zM587.4 485.7h15.6v15.6h-15.6zM602.5 485.7h15.6v15.6h-15.6zM617.7 485.7h15.6v15.6h-15.6zM663.1 485.7h15.6v15.6h-15.6zM799.4 485.7h15.6v15.6h-15.6zM950.9 485.7h15.6v15.6h-15.6zM466.2 500.9h15.6v15.6h-15.6zM572.2 500.9h15.6v15.6h-15.6zM920.6 531.2h15.6v15.6h-15.6zM860.0 576.6h15.6v15.6h-15.6zM875.2 576.6h15.6v15.6h-15.6zM542.0 591.8h15.6v15.6h-15.6zM466.2 652.3h15.6v15.6h-15.6zM632.8 667.5h15.6v15.6h-15.6zM329.9 697.8h15.6v15.6h-15.6zM345.1 697.8h15.6v15.6h-15.6zM360.2 697.8h15.6v15.6h-15.6zM375.4 697.8h15.6v15.6h-15.6zM390.5 697.8h15.6v15.6h-15.6zM405.6 697.8h15.6v15.6h-15.6z"/><path fill="#252525" d="M769.1 -14.1h15.6v15.6h-15.6zM769.1 1.1h15.6v15.6h-15.6zM769.1 16.2h15.6v15.6h-15.6zM769.1 31.4h15.6v15.6h-15.6zM769.1 46.5h15.6v15.6h-15.6zM829.7 91.9h15.6v15.6h-15.6zM844.9 228.2h15.6v15.6h-15.6zM890.3 258.5h15.6v15.6h-15.6zM572.2 273.7h15.6v15.6h-15.6zM587.4 273.7h15.6v15.6h-15.6zM602.5 273.7h15.6v15.6h-15.6zM557.1 288.8h15.6v15.6h-15.6zM617.7 288.8h15.6v15.6h-15.6zM769.1 288.8h15.6v15.6h-15.6zM557.1 304.0h15.6v15.6h-15.6zM617.7 319.1h15.6v15.6h-15.6zM754.0 319.1h15.6v15.6h-15.6zM572.2 334.3h15.6v15.6h-15.6zM587.4 334.3h15.6v15.6h-15.6zM602.5 334.3h15.6v15.6h-15.6zM754.0 334.3h15.6v15.6h-15.6zM511.7 349.4h15.6v15.6h-15.6zM769.1 349.4h15.6v15.6h-15.6zM1026.6 349.4h15.6v15.6h-15.6zM769.1 364.6h15.6v15.6h-15.6zM799.4 364.6h15.6v15.6h-15.6zM799.4 379.7h15.6v15.6h-15.6zM723.7 394.9h15.6v15.6h-15.6zM799.4 394.9h15.6v15.6h-15.6zM693.4 425.1h15.6v15.6h-15.6zM799.4 440.3h15.6v15.6h-15.6zM799.4 455.4h15.6v15.6h-15.6zM966.0 455.4h15.6v15.6h-15.6zM405.6 470.6h15.6v15.6h-15.6zM451.1 470.6h15.6v15.6h-15.6zM572.2 470.6h15.6v15.6h-15.6zM587.4 470.6h15.6v15.6h-15.6zM602.5 470.6h15.6v15.6h-15.6zM632.8 470.6h15.6v15.6h-15.6zM799.4 470.6h15.6v15.6h-15.6zM526.8 485.7h15.6v15.6h-15.6zM557.1 485.7h15.6v15.6h-15.6zM542.0 500.9h15.6v15.6h-15.6zM557.1 500.9h15.6v15.6h-15.6zM935.8 500.9h15.6v15.6h-15.6zM466.2 516.0h15.6v15.6h-15.6zM557.1 516.0h15.6v15.6h-15.6zM920.6 516.0h15.6v15.6h-15.6zM557.1 531.2h15.6v15.6h-15.6zM405.6 546.3h15.6v15.6h-15.6zM814.6 546.3h15.6v15.6h-15.6zM405.6 561.5h15.6v15.6h-15.6zM829.7 561.5h15.6v15.6h-15.6zM405.6 576.6h15.6v15.6h-15.6zM557.1 576.6h15.6v15.6h-15.6zM405.6 591.8h15.6v15.6h-15.6zM526.8 606.9h15.6v15.6h-15.6zM329.9 622.0h15.6v15.6h-15.6zM345.1 622.0h15.6v15.6h-15.6zM360.2 622.0h15.6v15.6h-15.6zM375.4 622.0h15.6v15.6h-15.6zM390.5 622.0h15.6v15.6h-15.6zM496.5 622.0h15.6v15.6h-15.6zM511.7 622.0h15.6v15.6h-15.6zM648.0 667.5h15.6v15.6h-15.6zM723.7 667.5h15.6v15.6h-15.6zM435.9 682.6h15.6v15.6h-15.6zM587.4 697.8h15.6v15.6h-15.6z"/><path fill="#262626" d="M754.0 61.6h15.6v15.6h-15.6zM829.7 76.8h15.6v15.6h-15.6zM738.9 107.1h15.6v15.6h-15.6zM769.1 122.2h15.6v15.6h-15.6zM829.7 243.4h15.6v15.6h-15.6zM890.3 243.4h15.6v15.6h-15.6zM557.1 273.7h15.6v15.6h-15.6zM617.7 273.7h15.6v15.6h-15.6zM784.3 273.7h15.6v15.6h-15.6zM557.1 319.1h15.6v15.6h-15.6zM511.7 334.3h15.6v15.6h-15.6zM526.8 349.4h15.6v15.6h-15.6zM814.6 349.4h15.6v15.6h-15.6zM511.7 364.6h15.6v15.6h-15.6zM754.0 364.6h15.6v15.6h-15.6zM738.9 379.7h15.6v15.6h-15.6zM981.2 394.9h15.6v15.6h-15.6zM572.2 440.3h15.6v15.6h-15.6zM966.0 440.3h15.6v15.6h-15.6zM526.8 455.4h15.6v15.6h-15.6zM557.1 455.4h15.6v15.6h-15.6zM572.2 455.4h15.6v15.6h-15.6zM587.4 455.4h15.6v15.6h-15.6zM602.5 455.4h15.6v15.6h-15.6zM678.3 455.4h15.6v15.6h-15.6zM329.9 470.6h15.6v15.6h-15.6zM345.1 470.6h15.6v15.6h-15.6zM360.2 470.6h15.6v15.6h-15.6zM375.4 470.6h15.6v15.6h-15.6zM390.5 470.6h15.6v15.6h-15.6zM511.7 470.6h15.6v15.6h-15.6zM526.8 470.6h15.6v15.6h-15.6zM542.0 470.6h15.6v15.6h-15.6zM557.1 470.6h15.6v15.6h-15.6zM617.7 470.6h15.6v15.6h-15.6zM648.0 470.6h15.6v15.6h-15.6zM663.1 470.6h15.6v15.6h-15.6zM511.7 485.7h15.6v15.6h-15.6zM542.0 485.7h15.6v15.6h-15.6zM511.7 500.9h15.6v15.6h-15.6zM526.8 500.9h15.6v15.6h-15.6zM526.8 516.0h15.6v15.6h-15.6zM542.0 516.0h15.6v15.6h-15.6zM814.6 516.0h15.6v15.6h-15.6zM420.8 531.2h15.6v15.6h-15.6zM814.6 531.2h15.6v15.6h-15.6zM557.1 546.3h15.6v15.6h-15.6zM905.5 546.3h15.6v15.6h-15.6zM557.1 561.5h15.6v15.6h-15.6zM405.6 606.9h15.6v15.6h-15.6zM481.4 622.0h15.6v15.6h-15.6zM466.2 637.2h15.6v15.6h-15.6zM451.1 667.5h15.6v15.6h-15.6zM663.1 667.5h15.6v15.6h-15.6zM678.3 667.5h15.6v15.6h-15.6zM693.4 667.5h15.6v15.6h-15.6zM708.6 667.5h15.6v15.6h-15.6zM602.5 682.6h15.6v15.6h-15.6z"/><path fill="#272727" d="M829.7 -14.1h15.6v15.6h-15.6zM829.7 1.1h15.6v15.6h-15.6zM829.7 16.2h15.6v15.6h-15.6zM829.7 31.4h15.6v15.6h-15.6zM829.7 46.5h15.6v15.6h-15.6zM829.7 61.6h15.6v15.6h-15.6zM738.9 91.9h15.6v15.6h-15.6zM784.3 137.4h15.6v15.6h-15.6zM799.4 137.4h15.6v15.6h-15.6zM602.5 243.4h15.6v15.6h-15.6zM617.7 243.4h15.6v15.6h-15.6zM572.2 258.5h15.6v15.6h-15.6zM587.4 258.5h15.6v15.6h-15.6zM602.5 258.5h15.6v15.6h-15.6zM799.4 258.5h15.6v15.6h-15.6zM526.8 273.7h15.6v15.6h-15.6zM542.0 273.7h15.6v15.6h-15.6zM769.1 273.7h15.6v15.6h-15.6zM875.2 273.7h15.6v15.6h-15.6zM542.0 288.8h15.6v15.6h-15.6zM632.8 288.8h15.6v15.6h-15.6zM844.9 288.8h15.6v15.6h-15.6zM542.0 304.0h15.6v15.6h-15.6zM632.8 304.0h15.6v15.6h-15.6zM754.0 304.0h15.6v15.6h-15.6zM1072.1 304.0h15.6v15.6h-15.6zM738.9 319.1h15.6v15.6h-15.6zM526.8 334.3h15.6v15.6h-15.6zM557.1 334.3h15.6v15.6h-15.6zM617.7 334.3h15.6v15.6h-15.6zM738.9 334.3h15.6v15.6h-15.6zM1041.8 334.3h15.6v15.6h-15.6zM572.2 349.4h15.6v15.6h-15.6zM587.4 349.4h15.6v15.6h-15.6zM602.5 349.4h15.6v15.6h-15.6zM754.0 349.4h15.6v15.6h-15.6zM526.8 364.6h15.6v15.6h-15.6zM587.4 410.0h15.6v15.6h-15.6zM602.5 410.0h15.6v15.6h-15.6zM511.7 425.1h15.6v15.6h-15.6zM572.2 425.1h15.6v15.6h-15.6zM587.4 425.1h15.6v15.6h-15.6zM602.5 425.1h15.6v15.6h-15.6zM617.7 425.1h15.6v15.6h-15.6zM966.0 425.1h15.6v15.6h-15.6zM511.7 440.3h15.6v15.6h-15.6zM526.8 440.3h15.6v15.6h-15.6zM557.1 440.3h15.6v15.6h-15.6zM587.4 440.3h15.6v15.6h-15.6zM602.5 440.3h15.6v15.6h-15.6zM678.3 440.3h15.6v15.6h-15.6zM329.9 455.4h15.6v15.6h-15.6zM345.1 455.4h15.6v15.6h-15.6zM360.2 455.4h15.6v15.6h-15.6zM375.4 455.4h15.6v15.6h-15.6zM390.5 455.4h15.6v15.6h-15.6zM405.6 455.4h15.6v15.6h-15.6zM420.8 455.4h15.6v15.6h-15.6zM511.7 455.4h15.6v15.6h-15.6zM542.0 455.4h15.6v15.6h-15.6zM617.7 455.4h15.6v15.6h-15.6zM950.9 470.6h15.6v15.6h-15.6zM481.4 485.7h15.6v15.6h-15.6zM496.5 485.7h15.6v15.6h-15.6zM481.4 500.9h15.6v15.6h-15.6zM496.5 500.9h15.6v15.6h-15.6zM814.6 500.9h15.6v15.6h-15.6zM511.7 516.0h15.6v15.6h-15.6zM435.9 531.2h15.6v15.6h-15.6zM451.1 531.2h15.6v15.6h-15.6zM905.5 531.2h15.6v15.6h-15.6zM844.9 561.5h15.6v15.6h-15.6zM890.3 561.5h15.6v15.6h-15.6zM526.8 591.8h15.6v15.6h-15.6zM405.6 622.0h15.6v15.6h-15.6zM466.2 622.0h15.6v15.6h-15.6zM451.1 652.3h15.6v15.6h-15.6zM617.7 682.6h15.6v15.6h-15.6zM723.7 682.6h15.6v15.6h-15.6zM602.5 697.8h15.6v15.6h-15.6zM723.7 697.8h15.6v15.6h-15.6z"/><path fill="#282828" d="M754.0 -14.1h15.6v15.6h-15.6zM754.0 1.1h15.6v15.6h-15.6zM754.0 16.2h15.6v15.6h-15.6zM754.0 31.4h15.6v15.6h-15.6zM754.0 46.5h15.6v15.6h-15.6zM754.0 122.2h15.6v15.6h-15.6zM829.7 122.2h15.6v15.6h-15.6zM617.7 228.2h15.6v15.6h-15.6zM890.3 228.2h15.6v15.6h-15.6zM587.4 243.4h15.6v15.6h-15.6zM632.8 243.4h15.6v15.6h-15.6zM557.1 258.5h15.6v15.6h-15.6zM617.7 258.5h15.6v15.6h-15.6zM511.7 273.7h15.6v15.6h-15.6zM632.8 273.7h15.6v15.6h-15.6zM648.0 288.8h15.6v15.6h-15.6zM663.1 288.8h15.6v15.6h-15.6zM754.0 288.8h15.6v15.6h-15.6zM511.7 319.1h15.6v15.6h-15.6zM526.8 319.1h15.6v15.6h-15.6zM542.0 319.1h15.6v15.6h-15.6zM632.8 319.1h15.6v15.6h-15.6zM1056.9 319.1h15.6v15.6h-15.6zM496.5 334.3h15.6v15.6h-15.6zM542.0 334.3h15.6v15.6h-15.6zM496.5 349.4h15.6v15.6h-15.6zM542.0 349.4h15.6v15.6h-15.6zM557.1 349.4h15.6v15.6h-15.6zM617.7 349.4h15.6v15.6h-15.6zM1011.5 349.4h15.6v15.6h-15.6zM496.5 364.6h15.6v15.6h-15.6zM542.0 364.6h15.6v15.6h-15.6zM557.1 364.6h15.6v15.6h-15.6zM572.2 364.6h15.6v15.6h-15.6zM587.4 364.6h15.6v15.6h-15.6zM602.5 364.6h15.6v15.6h-15.6zM738.9 364.6h15.6v15.6h-15.6zM996.3 364.6h15.6v15.6h-15.6zM572.2 379.7h15.6v15.6h-15.6zM587.4 379.7h15.6v15.6h-15.6zM723.7 379.7h15.6v15.6h-15.6zM981.2 379.7h15.6v15.6h-15.6zM572.2 394.9h15.6v15.6h-15.6zM587.4 394.9h15.6v15.6h-15.6zM602.5 394.9h15.6v15.6h-15.6zM511.7 410.0h15.6v15.6h-15.6zM572.2 410.0h15.6v15.6h-15.6zM617.7 410.0h15.6v15.6h-15.6zM693.4 410.0h15.6v15.6h-15.6zM966.0 410.0h15.6v15.6h-15.6zM526.8 425.1h15.6v15.6h-15.6zM557.1 425.1h15.6v15.6h-15.6zM632.8 425.1h15.6v15.6h-15.6zM814.6 425.1h15.6v15.6h-15.6zM405.6 440.3h15.6v15.6h-15.6zM420.8 440.3h15.6v15.6h-15.6zM542.0 440.3h15.6v15.6h-15.6zM617.7 440.3h15.6v15.6h-15.6zM632.8 440.3h15.6v15.6h-15.6zM814.6 440.3h15.6v15.6h-15.6zM632.8 455.4h15.6v15.6h-15.6zM648.0 455.4h15.6v15.6h-15.6zM663.1 455.4h15.6v15.6h-15.6zM814.6 455.4h15.6v15.6h-15.6zM466.2 470.6h15.6v15.6h-15.6zM496.5 470.6h15.6v15.6h-15.6zM814.6 470.6h15.6v15.6h-15.6zM814.6 485.7h15.6v15.6h-15.6zM935.8 485.7h15.6v15.6h-15.6zM920.6 500.9h15.6v15.6h-15.6zM481.4 516.0h15.6v15.6h-15.6zM496.5 516.0h15.6v15.6h-15.6zM905.5 516.0h15.6v15.6h-15.6zM466.2 531.2h15.6v15.6h-15.6zM542.0 531.2h15.6v15.6h-15.6zM829.7 546.3h15.6v15.6h-15.6zM860.0 561.5h15.6v15.6h-15.6zM875.2 561.5h15.6v15.6h-15.6zM329.9 637.2h15.6v15.6h-15.6zM345.1 637.2h15.6v15.6h-15.6zM360.2 637.2h15.6v15.6h-15.6zM375.4 637.2h15.6v15.6h-15.6zM390.5 637.2h15.6v15.6h-15.6zM451.1 637.2h15.6v15.6h-15.6zM405.6 682.6h15.6v15.6h-15.6zM420.8 682.6h15.6v15.6h-15.6zM632.8 682.6h15.6v15.6h-15.6zM708.6 682.6h15.6v15.6h-15.6zM708.6 697.8h15.6v15.6h-15.6z"/><path fill="#292929" d="M738.9 76.8h15.6v15.6h-15.6zM738.9 122.2h15.6v15.6h-15.6zM784.3 152.5h15.6v15.6h-15.6zM769.1 198.0h15.6v15.6h-15.6zM784.3 198.0h15.6v15.6h-15.6zM935.8 198.0h15.6v15.6h-15.6zM769.1 213.1h15.6v15.6h-15.6zM784.3 213.1h15.6v15.6h-15.6zM602.5 228.2h15.6v15.6h-15.6zM632.8 228.2h15.6v15.6h-15.6zM648.0 228.2h15.6v15.6h-15.6zM663.1 228.2h15.6v15.6h-15.6zM572.2 243.4h15.6v15.6h-15.6zM648.0 243.4h15.6v15.6h-15.6zM663.1 243.4h15.6v15.6h-15.6zM784.3 243.4h15.6v15.6h-15.6zM799.4 243.4h15.6v15.6h-15.6zM814.6 243.4h15.6v15.6h-15.6zM542.0 258.5h15.6v15.6h-15.6zM632.8 258.5h15.6v15.6h-15.6zM648.0 258.5h15.6v15.6h-15.6zM663.1 258.5h15.6v15.6h-15.6zM769.1 258.5h15.6v15.6h-15.6zM784.3 258.5h15.6v15.6h-15.6zM496.5 273.7h15.6v15.6h-15.6zM648.0 273.7h15.6v15.6h-15.6zM663.1 273.7h15.6v15.6h-15.6zM1102.4 273.7h15.6v15.6h-15.6zM1117.5 273.7h15.6v15.6h-15.6zM1132.6 273.7h15.6v15.6h-15.6zM1147.8 273.7h15.6v15.6h-15.6zM1162.9 273.7h15.6v15.6h-15.6zM526.8 288.8h15.6v15.6h-15.6zM526.8 304.0h15.6v15.6h-15.6zM648.0 304.0h15.6v15.6h-15.6zM663.1 304.0h15.6v15.6h-15.6zM451.1 319.1h15.6v15.6h-15.6zM466.2 319.1h15.6v15.6h-15.6zM481.4 319.1h15.6v15.6h-15.6zM496.5 319.1h15.6v15.6h-15.6zM648.0 319.1h15.6v15.6h-15.6zM451.1 334.3h15.6v15.6h-15.6zM466.2 334.3h15.6v15.6h-15.6zM481.4 334.3h15.6v15.6h-15.6zM632.8 334.3h15.6v15.6h-15.6zM632.8 349.4h15.6v15.6h-15.6zM738.9 349.4h15.6v15.6h-15.6zM617.7 364.6h15.6v15.6h-15.6zM814.6 364.6h15.6v15.6h-15.6zM496.5 379.7h15.6v15.6h-15.6zM511.7 379.7h15.6v15.6h-15.6zM526.8 379.7h15.6v15.6h-15.6zM542.0 379.7h15.6v15.6h-15.6zM557.1 379.7h15.6v15.6h-15.6zM602.5 379.7h15.6v15.6h-15.6zM617.7 379.7h15.6v15.6h-15.6zM329.9 394.9h15.6v15.6h-15.6zM345.1 394.9h15.6v15.6h-15.6zM360.2 394.9h15.6v15.6h-15.6zM375.4 394.9h15.6v15.6h-15.6zM390.5 394.9h15.6v15.6h-15.6zM511.7 394.9h15.6v15.6h-15.6zM557.1 394.9h15.6v15.6h-15.6zM617.7 394.9h15.6v15.6h-15.6zM708.6 394.9h15.6v15.6h-15.6zM966.0 394.9h15.6v15.6h-15.6zM526.8 410.0h15.6v15.6h-15.6zM557.1 410.0h15.6v15.6h-15.6zM632.8 410.0h15.6v15.6h-15.6zM814.6 410.0h15.6v15.6h-15.6zM405.6 425.1h15.6v15.6h-15.6zM420.8 425.1h15.6v15.6h-15.6zM542.0 425.1h15.6v15.6h-15.6zM648.0 425.1h15.6v15.6h-15.6zM678.3 425.1h15.6v15.6h-15.6zM329.9 440.3h15.6v15.6h-15.6zM345.1 440.3h15.6v15.6h-15.6zM360.2 440.3h15.6v15.6h-15.6zM375.4 440.3h15.6v15.6h-15.6zM390.5 440.3h15.6v15.6h-15.6zM648.0 440.3h15.6v15.6h-15.6zM950.9 455.4h15.6v15.6h-15.6zM829.7 516.0h15.6v15.6h-15.6zM481.4 531.2h15.6v15.6h-15.6zM496.5 531.2h15.6v15.6h-15.6zM511.7 531.2h15.6v15.6h-15.6zM526.8 531.2h15.6v15.6h-15.6zM829.7 531.2h15.6v15.6h-15.6zM844.9 546.3h15.6v15.6h-15.6zM890.3 546.3h15.6v15.6h-15.6zM420.8 561.5h15.6v15.6h-15.6zM420.8 576.6h15.6v15.6h-15.6zM526.8 576.6h15.6v15.6h-15.6zM542.0 576.6h15.6v15.6h-15.6zM466.2 606.9h15.6v15.6h-15.6zM481.4 606.9h15.6v15.6h-15.6zM496.5 606.9h15.6v15.6h-15.6zM511.7 606.9h15.6v15.6h-15.6zM435.9 622.0h15.6v15.6h-15.6zM451.1 622.0h15.6v15.6h-15.6zM405.6 637.2h15.6v15.6h-15.6zM435.9 637.2h15.6v15.6h-15.6zM329.9 682.6h15.6v15.6h-15.6zM345.1 682.6h15.6v15.6h-15.6zM360.2 682.6h15.6v15.6h-15.6zM375.4 682.6h15.6v15.6h-15.6zM390.5 682.6h15.6v15.6h-15.6zM648.0 682.6h15.6v15.6h-15.6zM663.1 682.6h15.6v15.6h-15.6zM678.3 682.6h15.6v15.6h-15.6zM693.4 682.6h15.6v15.6h-15.6zM617.7 697.8h15.6v15.6h-15.6zM693.4 697.8h15.6v15.6h-15.6z"/><path fill="#2a2a2a" d="M738.9 61.6h15.6v15.6h-15.6zM723.7 107.1h15.6v15.6h-15.6zM814.6 137.4h15.6v15.6h-15.6zM769.1 182.8h15.6v15.6h-15.6zM754.0 198.0h15.6v15.6h-15.6zM920.6 198.0h15.6v15.6h-15.6zM950.9 198.0h15.6v15.6h-15.6zM754.0 213.1h15.6v15.6h-15.6zM587.4 228.2h15.6v15.6h-15.6zM769.1 228.2h15.6v15.6h-15.6zM784.3 228.2h15.6v15.6h-15.6zM769.1 243.4h15.6v15.6h-15.6zM526.8 258.5h15.6v15.6h-15.6zM420.8 273.7h15.6v15.6h-15.6zM754.0 273.7h15.6v15.6h-15.6zM511.7 288.8h15.6v15.6h-15.6zM678.3 288.8h15.6v15.6h-15.6zM511.7 304.0h15.6v15.6h-15.6zM663.1 319.1h15.6v15.6h-15.6zM648.0 334.3h15.6v15.6h-15.6zM723.7 334.3h15.6v15.6h-15.6zM1026.6 334.3h15.6v15.6h-15.6zM466.2 349.4h15.6v15.6h-15.6zM481.4 349.4h15.6v15.6h-15.6zM648.0 349.4h15.6v15.6h-15.6zM829.7 349.4h15.6v15.6h-15.6zM481.4 364.6h15.6v15.6h-15.6zM632.8 364.6h15.6v15.6h-15.6zM648.0 364.6h15.6v15.6h-15.6zM723.7 364.6h15.6v15.6h-15.6zM329.9 379.7h15.6v15.6h-15.6zM345.1 379.7h15.6v15.6h-15.6zM360.2 379.7h15.6v15.6h-15.6zM375.4 379.7h15.6v15.6h-15.6zM390.5 379.7h15.6v15.6h-15.6zM481.4 379.7h15.6v15.6h-15.6zM632.8 379.7h15.6v15.6h-15.6zM814.6 379.7h15.6v15.6h-15.6zM405.6 394.9h15.6v15.6h-15.6zM420.8 394.9h15.6v15.6h-15.6zM496.5 394.9h15.6v15.6h-15.6zM526.8 394.9h15.6v15.6h-15.6zM542.0 394.9h15.6v15.6h-15.6zM632.8 394.9h15.6v15.6h-15.6zM814.6 394.9h15.6v15.6h-15.6zM329.9 410.0h15.6v15.6h-15.6zM345.1 410.0h15.6v15.6h-15.6zM360.2 410.0h15.6v15.6h-15.6zM375.4 410.0h15.6v15.6h-15.6zM390.5 410.0h15.6v15.6h-15.6zM405.6 410.0h15.6v15.6h-15.6zM420.8 410.0h15.6v15.6h-15.6zM496.5 410.0h15.6v15.6h-15.6zM542.0 410.0h15.6v15.6h-15.6zM648.0 410.0h15.6v15.6h-15.6zM678.3 410.0h15.6v15.6h-15.6zM329.9 425.1h15.6v15.6h-15.6zM345.1 425.1h15.6v15.6h-15.6zM360.2 425.1h15.6v15.6h-15.6zM375.4 425.1h15.6v15.6h-15.6zM390.5 425.1h15.6v15.6h-15.6zM496.5 425.1h15.6v15.6h-15.6zM950.9 425.1h15.6v15.6h-15.6zM663.1 440.3h15.6v15.6h-15.6zM950.9 440.3h15.6v15.6h-15.6zM435.9 455.4h15.6v15.6h-15.6zM829.7 455.4h15.6v15.6h-15.6zM844.9 455.4h15.6v15.6h-15.6zM481.4 470.6h15.6v15.6h-15.6zM829.7 470.6h15.6v15.6h-15.6zM844.9 470.6h15.6v15.6h-15.6zM860.0 470.6h15.6v15.6h-15.6zM935.8 470.6h15.6v15.6h-15.6zM829.7 485.7h15.6v15.6h-15.6zM844.9 485.7h15.6v15.6h-15.6zM860.0 485.7h15.6v15.6h-15.6zM829.7 500.9h15.6v15.6h-15.6zM844.9 500.9h15.6v15.6h-15.6zM905.5 500.9h15.6v15.6h-15.6zM844.9 516.0h15.6v15.6h-15.6zM890.3 516.0h15.6v15.6h-15.6zM844.9 531.2h15.6v15.6h-15.6zM890.3 531.2h15.6v15.6h-15.6zM420.8 546.3h15.6v15.6h-15.6zM435.9 546.3h15.6v15.6h-15.6zM451.1 546.3h15.6v15.6h-15.6zM466.2 546.3h15.6v15.6h-15.6zM481.4 546.3h15.6v15.6h-15.6zM496.5 546.3h15.6v15.6h-15.6zM511.7 546.3h15.6v15.6h-15.6zM526.8 546.3h15.6v15.6h-15.6zM542.0 546.3h15.6v15.6h-15.6zM860.0 546.3h15.6v15.6h-15.6zM875.2 546.3h15.6v15.6h-15.6zM435.9 561.5h15.6v15.6h-15.6zM451.1 561.5h15.6v15.6h-15.6zM466.2 561.5h15.6v15.6h-15.6zM481.4 561.5h15.6v15.6h-15.6zM496.5 561.5h15.6v15.6h-15.6zM511.7 561.5h15.6v15.6h-15.6zM526.8 561.5h15.6v15.6h-15.6zM542.0 561.5h15.6v15.6h-15.6zM435.9 576.6h15.6v15.6h-15.6zM451.1 576.6h15.6v15.6h-15.6zM466.2 576.6h15.6v15.6h-15.6zM481.4 576.6h15.6v15.6h-15.6zM496.5 576.6h15.6v15.6h-15.6zM511.7 576.6h15.6v15.6h-15.6zM420.8 591.8h15.6v15.6h-15.6zM435.9 591.8h15.6v15.6h-15.6zM451.1 591.8h15.6v15.6h-15.6zM466.2 591.8h15.6v15.6h-15.6zM481.4 591.8h15.6v15.6h-15.6zM496.5 591.8h15.6v15.6h-15.6zM511.7 591.8h15.6v15.6h-15.6zM420.8 606.9h15.6v15.6h-15.6zM435.9 606.9h15.6v15.6h-15.6zM451.1 606.9h15.6v15.6h-15.6zM420.8 622.0h15.6v15.6h-15.6zM420.8 637.2h15.6v15.6h-15.6zM435.9 652.3h15.6v15.6h-15.6zM435.9 667.5h15.6v15.6h-15.6zM632.8 697.8h15.6v15.6h-15.6zM648.0 697.8h15.6v15.6h-15.6zM663.1 697.8h15.6v15.6h-15.6zM678.3 697.8h15.6v15.6h-15.6z"/><path fill="#2b2b2b" d="M738.9 -14.1h15.6v15.6h-15.6zM738.9 1.1h15.6v15.6h-15.6zM738.9 16.2h15.6v15.6h-15.6zM738.9 31.4h15.6v15.6h-15.6zM738.9 46.5h15.6v15.6h-15.6zM769.1 137.4h15.6v15.6h-15.6zM769.1 152.5h15.6v15.6h-15.6zM799.4 152.5h15.6v15.6h-15.6zM769.1 167.7h15.6v15.6h-15.6zM784.3 167.7h15.6v15.6h-15.6zM754.0 182.8h15.6v15.6h-15.6zM784.3 182.8h15.6v15.6h-15.6zM950.9 182.8h15.6v15.6h-15.6zM678.3 228.2h15.6v15.6h-15.6zM754.0 228.2h15.6v15.6h-15.6zM799.4 228.2h15.6v15.6h-15.6zM678.3 243.4h15.6v15.6h-15.6zM754.0 243.4h15.6v15.6h-15.6zM511.7 258.5h15.6v15.6h-15.6zM678.3 258.5h15.6v15.6h-15.6zM754.0 258.5h15.6v15.6h-15.6zM435.9 273.7h15.6v15.6h-15.6zM481.4 273.7h15.6v15.6h-15.6zM678.3 273.7h15.6v15.6h-15.6zM890.3 273.7h15.6v15.6h-15.6zM1072.1 288.8h15.6v15.6h-15.6zM329.9 304.0h15.6v15.6h-15.6zM345.1 304.0h15.6v15.6h-15.6zM360.2 304.0h15.6v15.6h-15.6zM375.4 304.0h15.6v15.6h-15.6zM390.5 304.0h15.6v15.6h-15.6zM496.5 304.0h15.6v15.6h-15.6zM678.3 304.0h15.6v15.6h-15.6zM738.9 304.0h15.6v15.6h-15.6zM844.9 304.0h15.6v15.6h-15.6zM1056.9 304.0h15.6v15.6h-15.6zM329.9 319.1h15.6v15.6h-15.6zM345.1 319.1h15.6v15.6h-15.6zM360.2 319.1h15.6v15.6h-15.6zM375.4 319.1h15.6v15.6h-15.6zM390.5 319.1h15.6v15.6h-15.6zM405.6 319.1h15.6v15.6h-15.6zM435.9 319.1h15.6v15.6h-15.6zM723.7 319.1h15.6v15.6h-15.6zM329.9 334.3h15.6v15.6h-15.6zM345.1 334.3h15.6v15.6h-15.6zM360.2 334.3h15.6v15.6h-15.6zM375.4 334.3h15.6v15.6h-15.6zM390.5 334.3h15.6v15.6h-15.6zM405.6 334.3h15.6v15.6h-15.6zM435.9 334.3h15.6v15.6h-15.6zM663.1 334.3h15.6v15.6h-15.6zM451.1 349.4h15.6v15.6h-15.6zM663.1 349.4h15.6v15.6h-15.6zM723.7 349.4h15.6v15.6h-15.6zM996.3 349.4h15.6v15.6h-15.6zM329.9 364.6h15.6v15.6h-15.6zM345.1 364.6h15.6v15.6h-15.6zM360.2 364.6h15.6v15.6h-15.6zM375.4 364.6h15.6v15.6h-15.6zM390.5 364.6h15.6v15.6h-15.6zM466.2 364.6h15.6v15.6h-15.6zM663.1 364.6h15.6v15.6h-15.6zM405.6 379.7h15.6v15.6h-15.6zM420.8 379.7h15.6v15.6h-15.6zM648.0 379.7h15.6v15.6h-15.6zM663.1 379.7h15.6v15.6h-15.6zM966.0 379.7h15.6v15.6h-15.6zM481.4 394.9h15.6v15.6h-15.6zM648.0 394.9h15.6v15.6h-15.6zM663.1 394.9h15.6v15.6h-15.6zM678.3 394.9h15.6v15.6h-15.6zM693.4 394.9h15.6v15.6h-15.6zM435.9 410.0h15.6v15.6h-15.6zM481.4 410.0h15.6v15.6h-15.6zM663.1 410.0h15.6v15.6h-15.6zM950.9 410.0h15.6v15.6h-15.6zM435.9 425.1h15.6v15.6h-15.6zM663.1 425.1h15.6v15.6h-15.6zM496.5 440.3h15.6v15.6h-15.6zM829.7 440.3h15.6v15.6h-15.6zM844.9 440.3h15.6v15.6h-15.6zM496.5 455.4h15.6v15.6h-15.6zM860.0 455.4h15.6v15.6h-15.6zM920.6 455.4h15.6v15.6h-15.6zM935.8 455.4h15.6v15.6h-15.6zM920.6 485.7h15.6v15.6h-15.6zM860.0 500.9h15.6v15.6h-15.6zM860.0 516.0h15.6v15.6h-15.6zM875.2 516.0h15.6v15.6h-15.6zM860.0 531.2h15.6v15.6h-15.6zM875.2 531.2h15.6v15.6h-15.6zM329.9 652.3h15.6v15.6h-15.6zM345.1 652.3h15.6v15.6h-15.6zM360.2 652.3h15.6v15.6h-15.6zM375.4 652.3h15.6v15.6h-15.6zM390.5 652.3h15.6v15.6h-15.6z"/><path fill="#2c2c2c" d="M844.9 -14.1h15.6v15.6h-15.6zM844.9 1.1h15.6v15.6h-15.6zM844.9 16.2h15.6v15.6h-15.6zM844.9 31.4h15.6v15.6h-15.6zM844.9 46.5h15.6v15.6h-15.6zM723.7 91.9h15.6v15.6h-15.6zM648.0 107.1h15.6v15.6h-15.6zM723.7 122.2h15.6v15.6h-15.6zM754.0 137.4h15.6v15.6h-15.6zM1102.4 137.4h15.6v15.6h-15.6zM1117.5 137.4h15.6v15.6h-15.6zM1132.6 137.4h15.6v15.6h-15.6zM1147.8 137.4h15.6v15.6h-15.6zM1162.9 137.4h15.6v15.6h-15.6zM754.0 167.7h15.6v15.6h-15.6zM738.9 182.8h15.6v15.6h-15.6zM935.8 182.8h15.6v15.6h-15.6zM738.9 198.0h15.6v15.6h-15.6zM617.7 213.1h15.6v15.6h-15.6zM632.8 213.1h15.6v15.6h-15.6zM648.0 213.1h15.6v15.6h-15.6zM663.1 213.1h15.6v15.6h-15.6zM738.9 213.1h15.6v15.6h-15.6zM799.4 213.1h15.6v15.6h-15.6zM572.2 228.2h15.6v15.6h-15.6zM829.7 228.2h15.6v15.6h-15.6zM557.1 243.4h15.6v15.6h-15.6zM420.8 258.5h15.6v15.6h-15.6zM405.6 273.7h15.6v15.6h-15.6zM466.2 273.7h15.6v15.6h-15.6zM1087.2 273.7h15.6v15.6h-15.6zM329.9 288.8h15.6v15.6h-15.6zM345.1 288.8h15.6v15.6h-15.6zM360.2 288.8h15.6v15.6h-15.6zM375.4 288.8h15.6v15.6h-15.6zM390.5 288.8h15.6v15.6h-15.6zM405.6 288.8h15.6v15.6h-15.6zM496.5 288.8h15.6v15.6h-15.6zM405.6 304.0h15.6v15.6h-15.6zM451.1 304.0h15.6v15.6h-15.6zM466.2 304.0h15.6v15.6h-15.6zM481.4 304.0h15.6v15.6h-15.6zM420.8 319.1h15.6v15.6h-15.6zM678.3 319.1h15.6v15.6h-15.6zM844.9 319.1h15.6v15.6h-15.6zM1041.8 319.1h15.6v15.6h-15.6zM420.8 334.3h15.6v15.6h-15.6zM678.3 334.3h15.6v15.6h-15.6zM329.9 349.4h15.6v15.6h-15.6zM345.1 349.4h15.6v15.6h-15.6zM360.2 349.4h15.6v15.6h-15.6zM375.4 349.4h15.6v15.6h-15.6zM390.5 349.4h15.6v15.6h-15.6zM405.6 349.4h15.6v15.6h-15.6zM435.9 349.4h15.6v15.6h-15.6zM678.3 349.4h15.6v15.6h-15.6zM405.6 364.6h15.6v15.6h-15.6zM420.8 364.6h15.6v15.6h-15.6zM435.9 364.6h15.6v15.6h-15.6zM451.1 364.6h15.6v15.6h-15.6zM678.3 364.6h15.6v15.6h-15.6zM981.2 364.6h15.6v15.6h-15.6zM435.9 379.7h15.6v15.6h-15.6zM466.2 379.7h15.6v15.6h-15.6zM678.3 379.7h15.6v15.6h-15.6zM708.6 379.7h15.6v15.6h-15.6zM435.9 394.9h15.6v15.6h-15.6zM466.2 394.9h15.6v15.6h-15.6zM950.9 394.9h15.6v15.6h-15.6zM466.2 410.0h15.6v15.6h-15.6zM481.4 425.1h15.6v15.6h-15.6zM829.7 425.1h15.6v15.6h-15.6zM435.9 440.3h15.6v15.6h-15.6zM860.0 440.3h15.6v15.6h-15.6zM935.8 440.3h15.6v15.6h-15.6zM875.2 455.4h15.6v15.6h-15.6zM905.5 455.4h15.6v15.6h-15.6zM920.6 470.6h15.6v15.6h-15.6zM875.2 500.9h15.6v15.6h-15.6zM890.3 500.9h15.6v15.6h-15.6zM405.6 652.3h15.6v15.6h-15.6zM420.8 652.3h15.6v15.6h-15.6z"/><path fill="#2d2d2d" d="M632.8 107.1h15.6v15.6h-15.6zM920.6 107.1h15.6v15.6h-15.6zM738.9 137.4h15.6v15.6h-15.6zM738.9 152.5h15.6v15.6h-15.6zM754.0 152.5h15.6v15.6h-15.6zM738.9 167.7h15.6v15.6h-15.6zM966.0 182.8h15.6v15.6h-15.6zM799.4 198.0h15.6v15.6h-15.6zM905.5 198.0h15.6v15.6h-15.6zM602.5 213.1h15.6v15.6h-15.6zM678.3 213.1h15.6v15.6h-15.6zM890.3 213.1h15.6v15.6h-15.6zM905.5 213.1h15.6v15.6h-15.6zM920.6 213.1h15.6v15.6h-15.6zM935.8 213.1h15.6v15.6h-15.6zM950.9 213.1h15.6v15.6h-15.6zM738.9 228.2h15.6v15.6h-15.6zM738.9 243.4h15.6v15.6h-15.6zM496.5 258.5h15.6v15.6h-15.6zM905.5 258.5h15.6v15.6h-15.6zM329.9 273.7h15.6v15.6h-15.6zM345.1 273.7h15.6v15.6h-15.6zM360.2 273.7h15.6v15.6h-15.6zM375.4 273.7h15.6v15.6h-15.6zM390.5 273.7h15.6v15.6h-15.6zM451.1 273.7h15.6v15.6h-15.6zM420.8 288.8h15.6v15.6h-15.6zM435.9 288.8h15.6v15.6h-15.6zM481.4 288.8h15.6v15.6h-15.6zM738.9 288.8h15.6v15.6h-15.6zM420.8 304.0h15.6v15.6h-15.6zM435.9 304.0h15.6v15.6h-15.6zM844.9 334.3h15.6v15.6h-15.6zM420.8 349.4h15.6v15.6h-15.6zM708.6 349.4h15.6v15.6h-15.6zM693.4 364.6h15.6v15.6h-15.6zM708.6 364.6h15.6v15.6h-15.6zM829.7 364.6h15.6v15.6h-15.6zM451.1 379.7h15.6v15.6h-15.6zM693.4 379.7h15.6v15.6h-15.6zM950.9 379.7h15.6v15.6h-15.6zM451.1 394.9h15.6v15.6h-15.6zM935.8 394.9h15.6v15.6h-15.6zM451.1 410.0h15.6v15.6h-15.6zM829.7 410.0h15.6v15.6h-15.6zM935.8 410.0h15.6v15.6h-15.6zM466.2 425.1h15.6v15.6h-15.6zM844.9 425.1h15.6v15.6h-15.6zM935.8 425.1h15.6v15.6h-15.6zM905.5 440.3h15.6v15.6h-15.6zM920.6 440.3h15.6v15.6h-15.6zM451.1 455.4h15.6v15.6h-15.6zM890.3 455.4h15.6v15.6h-15.6zM875.2 470.6h15.6v15.6h-15.6zM875.2 485.7h15.6v15.6h-15.6zM905.5 485.7h15.6v15.6h-15.6zM329.9 667.5h15.6v15.6h-15.6zM345.1 667.5h15.6v15.6h-15.6zM360.2 667.5h15.6v15.6h-15.6zM375.4 667.5h15.6v15.6h-15.6zM390.5 667.5h15.6v15.6h-15.6zM405.6 667.5h15.6v15.6h-15.6zM420.8 667.5h15.6v15.6h-15.6z"/><path fill="#2e2e2e" d="M844.9 61.6h15.6v15.6h-15.6zM723.7 76.8h15.6v15.6h-15.6zM663.1 107.1h15.6v15.6h-15.6zM844.9 107.1h15.6v15.6h-15.6zM1102.4 152.5h15.6v15.6h-15.6zM1117.5 152.5h15.6v15.6h-15.6zM1132.6 152.5h15.6v15.6h-15.6zM1147.8 152.5h15.6v15.6h-15.6zM1162.9 152.5h15.6v15.6h-15.6zM723.7 167.7h15.6v15.6h-15.6zM950.9 167.7h15.6v15.6h-15.6zM723.7 182.8h15.6v15.6h-15.6zM920.6 182.8h15.6v15.6h-15.6zM648.0 198.0h15.6v15.6h-15.6zM663.1 198.0h15.6v15.6h-15.6zM723.7 198.0h15.6v15.6h-15.6zM966.0 198.0h15.6v15.6h-15.6zM587.4 213.1h15.6v15.6h-15.6zM723.7 213.1h15.6v15.6h-15.6zM875.2 213.1h15.6v15.6h-15.6zM693.4 228.2h15.6v15.6h-15.6zM723.7 228.2h15.6v15.6h-15.6zM814.6 228.2h15.6v15.6h-15.6zM693.4 243.4h15.6v15.6h-15.6zM905.5 243.4h15.6v15.6h-15.6zM405.6 258.5h15.6v15.6h-15.6zM435.9 258.5h15.6v15.6h-15.6zM481.4 258.5h15.6v15.6h-15.6zM693.4 258.5h15.6v15.6h-15.6zM738.9 258.5h15.6v15.6h-15.6zM693.4 273.7h15.6v15.6h-15.6zM738.9 273.7h15.6v15.6h-15.6zM1072.1 273.7h15.6v15.6h-15.6zM451.1 288.8h15.6v15.6h-15.6zM466.2 288.8h15.6v15.6h-15.6zM693.4 288.8h15.6v15.6h-15.6zM1056.9 288.8h15.6v15.6h-15.6zM723.7 304.0h15.6v15.6h-15.6zM708.6 334.3h15.6v15.6h-15.6zM1011.5 334.3h15.6v15.6h-15.6zM693.4 349.4h15.6v15.6h-15.6zM966.0 364.6h15.6v15.6h-15.6zM451.1 425.1h15.6v15.6h-15.6zM860.0 425.1h15.6v15.6h-15.6zM875.2 440.3h15.6v15.6h-15.6zM890.3 440.3h15.6v15.6h-15.6zM466.2 455.4h15.6v15.6h-15.6zM481.4 455.4h15.6v15.6h-15.6zM890.3 470.6h15.6v15.6h-15.6zM905.5 470.6h15.6v15.6h-15.6zM890.3 485.7h15.6v15.6h-15.6z"/><path fill="#2f2f2f" d="M723.7 -14.1h15.6v15.6h-15.6zM723.7 1.1h15.6v15.6h-15.6zM723.7 16.2h15.6v15.6h-15.6zM723.7 31.4h15.6v15.6h-15.6zM723.7 46.5h15.6v15.6h-15.6zM723.7 61.6h15.6v15.6h-15.6zM844.9 91.9h15.6v15.6h-15.6zM905.5 107.1h15.6v15.6h-15.6zM648.0 122.2h15.6v15.6h-15.6zM663.1 122.2h15.6v15.6h-15.6zM723.7 137.4h15.6v15.6h-15.6zM829.7 137.4h15.6v15.6h-15.6zM723.7 152.5h15.6v15.6h-15.6zM708.6 167.7h15.6v15.6h-15.6zM966.0 167.7h15.6v15.6h-15.6zM708.6 182.8h15.6v15.6h-15.6zM799.4 182.8h15.6v15.6h-15.6zM617.7 198.0h15.6v15.6h-15.6zM632.8 198.0h15.6v15.6h-15.6zM678.3 198.0h15.6v15.6h-15.6zM693.4 213.1h15.6v15.6h-15.6zM708.6 213.1h15.6v15.6h-15.6zM860.0 213.1h15.6v15.6h-15.6zM557.1 228.2h15.6v15.6h-15.6zM708.6 228.2h15.6v15.6h-15.6zM905.5 228.2h15.6v15.6h-15.6zM542.0 243.4h15.6v15.6h-15.6zM708.6 243.4h15.6v15.6h-15.6zM723.7 243.4h15.6v15.6h-15.6zM1011.5 243.4h15.6v15.6h-15.6zM329.9 258.5h15.6v15.6h-15.6zM345.1 258.5h15.6v15.6h-15.6zM360.2 258.5h15.6v15.6h-15.6zM375.4 258.5h15.6v15.6h-15.6zM390.5 258.5h15.6v15.6h-15.6zM708.6 258.5h15.6v15.6h-15.6zM996.3 258.5h15.6v15.6h-15.6zM1011.5 258.5h15.6v15.6h-15.6zM905.5 273.7h15.6v15.6h-15.6zM981.2 273.7h15.6v15.6h-15.6zM860.0 288.8h15.6v15.6h-15.6zM981.2 288.8h15.6v15.6h-15.6zM693.4 304.0h15.6v15.6h-15.6zM708.6 304.0h15.6v15.6h-15.6zM981.2 304.0h15.6v15.6h-15.6zM1041.8 304.0h15.6v15.6h-15.6zM693.4 319.1h15.6v15.6h-15.6zM708.6 319.1h15.6v15.6h-15.6zM1026.6 319.1h15.6v15.6h-15.6zM693.4 334.3h15.6v15.6h-15.6zM996.3 334.3h15.6v15.6h-15.6zM844.9 349.4h15.6v15.6h-15.6zM981.2 349.4h15.6v15.6h-15.6zM950.9 364.6h15.6v15.6h-15.6zM829.7 379.7h15.6v15.6h-15.6zM935.8 379.7h15.6v15.6h-15.6zM829.7 394.9h15.6v15.6h-15.6zM920.6 394.9h15.6v15.6h-15.6zM844.9 410.0h15.6v15.6h-15.6zM451.1 440.3h15.6v15.6h-15.6zM466.2 440.3h15.6v15.6h-15.6zM481.4 440.3h15.6v15.6h-15.6z"/><path fill="#303030" d="M844.9 76.8h15.6v15.6h-15.6zM632.8 91.9h15.6v15.6h-15.6zM648.0 91.9h15.6v15.6h-15.6zM632.8 122.2h15.6v15.6h-15.6zM1087.2 152.5h15.6v15.6h-15.6zM799.4 167.7h15.6v15.6h-15.6zM935.8 167.7h15.6v15.6h-15.6zM981.2 167.7h15.6v15.6h-15.6zM1072.1 167.7h15.6v15.6h-15.6zM648.0 182.8h15.6v15.6h-15.6zM663.1 182.8h15.6v15.6h-15.6zM678.3 182.8h15.6v15.6h-15.6zM693.4 182.8h15.6v15.6h-15.6zM981.2 182.8h15.6v15.6h-15.6zM602.5 198.0h15.6v15.6h-15.6zM693.4 198.0h15.6v15.6h-15.6zM708.6 198.0h15.6v15.6h-15.6zM1041.8 198.0h15.6v15.6h-15.6zM572.2 213.1h15.6v15.6h-15.6zM966.0 213.1h15.6v15.6h-15.6zM1011.5 228.2h15.6v15.6h-15.6zM466.2 258.5h15.6v15.6h-15.6zM723.7 258.5h15.6v15.6h-15.6zM950.9 258.5h15.6v15.6h-15.6zM966.0 258.5h15.6v15.6h-15.6zM1102.4 258.5h15.6v15.6h-15.6zM1117.5 258.5h15.6v15.6h-15.6zM1132.6 258.5h15.6v15.6h-15.6zM1147.8 258.5h15.6v15.6h-15.6zM1162.9 258.5h15.6v15.6h-15.6zM708.6 273.7h15.6v15.6h-15.6zM723.7 273.7h15.6v15.6h-15.6zM966.0 273.7h15.6v15.6h-15.6zM996.3 273.7h15.6v15.6h-15.6zM1011.5 273.7h15.6v15.6h-15.6zM1056.9 273.7h15.6v15.6h-15.6zM708.6 288.8h15.6v15.6h-15.6zM723.7 288.8h15.6v15.6h-15.6zM966.0 288.8h15.6v15.6h-15.6zM981.2 334.3h15.6v15.6h-15.6zM966.0 349.4h15.6v15.6h-15.6zM905.5 379.7h15.6v15.6h-15.6zM920.6 379.7h15.6v15.6h-15.6zM905.5 394.9h15.6v15.6h-15.6zM860.0 410.0h15.6v15.6h-15.6zM920.6 410.0h15.6v15.6h-15.6zM875.2 425.1h15.6v15.6h-15.6zM920.6 425.1h15.6v15.6h-15.6z"/><path fill="#313131" d="M860.0 -14.1h15.6v15.6h-15.6zM860.0 1.1h15.6v15.6h-15.6zM860.0 16.2h15.6v15.6h-15.6zM860.0 31.4h15.6v15.6h-15.6zM860.0 46.5h15.6v15.6h-15.6zM617.7 91.9h15.6v15.6h-15.6zM663.1 91.9h15.6v15.6h-15.6zM920.6 91.9h15.6v15.6h-15.6zM617.7 107.1h15.6v15.6h-15.6zM678.3 107.1h15.6v15.6h-15.6zM678.3 122.2h15.6v15.6h-15.6zM844.9 122.2h15.6v15.6h-15.6zM663.1 137.4h15.6v15.6h-15.6zM678.3 137.4h15.6v15.6h-15.6zM1087.2 137.4h15.6v15.6h-15.6zM708.6 152.5h15.6v15.6h-15.6zM678.3 167.7h15.6v15.6h-15.6zM693.4 167.7h15.6v15.6h-15.6zM1087.2 167.7h15.6v15.6h-15.6zM632.8 182.8h15.6v15.6h-15.6zM329.9 198.0h15.6v15.6h-15.6zM345.1 198.0h15.6v15.6h-15.6zM360.2 198.0h15.6v15.6h-15.6zM375.4 198.0h15.6v15.6h-15.6zM390.5 198.0h15.6v15.6h-15.6zM981.2 198.0h15.6v15.6h-15.6zM1041.8 213.1h15.6v15.6h-15.6zM996.3 243.4h15.6v15.6h-15.6zM1026.6 243.4h15.6v15.6h-15.6zM451.1 258.5h15.6v15.6h-15.6zM935.8 258.5h15.6v15.6h-15.6zM981.2 258.5h15.6v15.6h-15.6zM1026.6 258.5h15.6v15.6h-15.6zM1087.2 258.5h15.6v15.6h-15.6zM935.8 273.7h15.6v15.6h-15.6zM950.9 273.7h15.6v15.6h-15.6zM1026.6 273.7h15.6v15.6h-15.6zM1041.8 273.7h15.6v15.6h-15.6zM996.3 288.8h15.6v15.6h-15.6zM1041.8 288.8h15.6v15.6h-15.6zM966.0 304.0h15.6v15.6h-15.6zM996.3 304.0h15.6v15.6h-15.6zM1026.6 304.0h15.6v15.6h-15.6zM981.2 319.1h15.6v15.6h-15.6zM996.3 319.1h15.6v15.6h-15.6zM950.9 349.4h15.6v15.6h-15.6zM844.9 364.6h15.6v15.6h-15.6zM935.8 364.6h15.6v15.6h-15.6zM890.3 379.7h15.6v15.6h-15.6zM890.3 394.9h15.6v15.6h-15.6zM875.2 410.0h15.6v15.6h-15.6zM905.5 410.0h15.6v15.6h-15.6zM890.3 425.1h15.6v15.6h-15.6zM905.5 425.1h15.6v15.6h-15.6z"/><path fill="#323232" d="M905.5 91.9h15.6v15.6h-15.6zM708.6 107.1h15.6v15.6h-15.6zM617.7 122.2h15.6v15.6h-15.6zM708.6 122.2h15.6v15.6h-15.6zM920.6 122.2h15.6v15.6h-15.6zM648.0 137.4h15.6v15.6h-15.6zM708.6 137.4h15.6v15.6h-15.6zM663.1 152.5h15.6v15.6h-15.6zM678.3 152.5h15.6v15.6h-15.6zM693.4 152.5h15.6v15.6h-15.6zM814.6 152.5h15.6v15.6h-15.6zM648.0 167.7h15.6v15.6h-15.6zM663.1 167.7h15.6v15.6h-15.6zM1102.4 167.7h15.6v15.6h-15.6zM1117.5 167.7h15.6v15.6h-15.6zM1132.6 167.7h15.6v15.6h-15.6zM1147.8 167.7h15.6v15.6h-15.6zM1162.9 167.7h15.6v15.6h-15.6zM329.9 182.8h15.6v15.6h-15.6zM345.1 182.8h15.6v15.6h-15.6zM360.2 182.8h15.6v15.6h-15.6zM375.4 182.8h15.6v15.6h-15.6zM390.5 182.8h15.6v15.6h-15.6zM405.6 182.8h15.6v15.6h-15.6zM617.7 182.8h15.6v15.6h-15.6zM905.5 182.8h15.6v15.6h-15.6zM1072.1 182.8h15.6v15.6h-15.6zM587.4 198.0h15.6v15.6h-15.6zM890.3 198.0h15.6v15.6h-15.6zM1026.6 198.0h15.6v15.6h-15.6zM329.9 213.1h15.6v15.6h-15.6zM345.1 213.1h15.6v15.6h-15.6zM360.2 213.1h15.6v15.6h-15.6zM375.4 213.1h15.6v15.6h-15.6zM390.5 213.1h15.6v15.6h-15.6zM557.1 213.1h15.6v15.6h-15.6zM814.6 213.1h15.6v15.6h-15.6zM844.9 213.1h15.6v15.6h-15.6zM981.2 213.1h15.6v15.6h-15.6zM1026.6 213.1h15.6v15.6h-15.6zM996.3 228.2h15.6v15.6h-15.6zM1026.6 228.2h15.6v15.6h-15.6zM1102.4 243.4h15.6v15.6h-15.6zM1117.5 243.4h15.6v15.6h-15.6zM1132.6 243.4h15.6v15.6h-15.6zM1147.8 243.4h15.6v15.6h-15.6zM1162.9 243.4h15.6v15.6h-15.6zM920.6 258.5h15.6v15.6h-15.6zM1041.8 258.5h15.6v15.6h-15.6zM1056.9 258.5h15.6v15.6h-15.6zM1072.1 258.5h15.6v15.6h-15.6zM920.6 273.7h15.6v15.6h-15.6zM920.6 288.8h15.6v15.6h-15.6zM1011.5 288.8h15.6v15.6h-15.6zM1026.6 288.8h15.6v15.6h-15.6zM920.6 304.0h15.6v15.6h-15.6zM1011.5 304.0h15.6v15.6h-15.6zM920.6 319.1h15.6v15.6h-15.6zM966.0 319.1h15.6v15.6h-15.6zM1011.5 319.1h15.6v15.6h-15.6zM966.0 334.3h15.6v15.6h-15.6zM875.2 364.6h15.6v15.6h-15.6zM890.3 364.6h15.6v15.6h-15.6zM844.9 394.9h15.6v15.6h-15.6zM875.2 394.9h15.6v15.6h-15.6zM890.3 410.0h15.6v15.6h-15.6z"/><path fill="#333333" d="M708.6 61.6h15.6v15.6h-15.6zM329.9 76.8h15.6v15.6h-15.6zM345.1 76.8h15.6v15.6h-15.6zM360.2 76.8h15.6v15.6h-15.6zM375.4 76.8h15.6v15.6h-15.6zM390.5 76.8h15.6v15.6h-15.6zM602.5 76.8h15.6v15.6h-15.6zM617.7 76.8h15.6v15.6h-15.6zM632.8 76.8h15.6v15.6h-15.6zM648.0 76.8h15.6v15.6h-15.6zM708.6 76.8h15.6v15.6h-15.6zM602.5 91.9h15.6v15.6h-15.6zM678.3 91.9h15.6v15.6h-15.6zM708.6 91.9h15.6v15.6h-15.6zM905.5 122.2h15.6v15.6h-15.6zM693.4 137.4h15.6v15.6h-15.6zM648.0 152.5h15.6v15.6h-15.6zM1072.1 152.5h15.6v15.6h-15.6zM435.9 167.7h15.6v15.6h-15.6zM451.1 167.7h15.6v15.6h-15.6zM466.2 167.7h15.6v15.6h-15.6zM481.4 167.7h15.6v15.6h-15.6zM496.5 167.7h15.6v15.6h-15.6zM511.7 167.7h15.6v15.6h-15.6zM526.8 167.7h15.6v15.6h-15.6zM632.8 167.7h15.6v15.6h-15.6zM920.6 167.7h15.6v15.6h-15.6zM1056.9 167.7h15.6v15.6h-15.6zM420.8 182.8h15.6v15.6h-15.6zM435.9 182.8h15.6v15.6h-15.6zM451.1 182.8h15.6v15.6h-15.6zM1056.9 182.8h15.6v15.6h-15.6zM405.6 198.0h15.6v15.6h-15.6zM572.2 198.0h15.6v15.6h-15.6zM996.3 198.0h15.6v15.6h-15.6zM1056.9 198.0h15.6v15.6h-15.6zM996.3 213.1h15.6v15.6h-15.6zM1011.5 213.1h15.6v15.6h-15.6zM542.0 228.2h15.6v15.6h-15.6zM920.6 228.2h15.6v15.6h-15.6zM935.8 228.2h15.6v15.6h-15.6zM950.9 228.2h15.6v15.6h-15.6zM1041.8 228.2h15.6v15.6h-15.6zM329.9 243.4h15.6v15.6h-15.6zM345.1 243.4h15.6v15.6h-15.6zM360.2 243.4h15.6v15.6h-15.6zM375.4 243.4h15.6v15.6h-15.6zM390.5 243.4h15.6v15.6h-15.6zM935.8 243.4h15.6v15.6h-15.6zM950.9 243.4h15.6v15.6h-15.6zM966.0 243.4h15.6v15.6h-15.6zM981.2 243.4h15.6v15.6h-15.6zM1041.8 243.4h15.6v15.6h-15.6zM1087.2 243.4h15.6v15.6h-15.6zM875.2 288.8h15.6v15.6h-15.6zM935.8 288.8h15.6v15.6h-15.6zM950.9 288.8h15.6v15.6h-15.6zM920.6 334.3h15.6v15.6h-15.6zM935.8 334.3h15.6v15.6h-15.6zM950.9 334.3h15.6v15.6h-15.6zM860.0 349.4h15.6v15.6h-15.6zM875.2 349.4h15.6v15.6h-15.6zM935.8 349.4h15.6v15.6h-15.6zM860.0 364.6h15.6v15.6h-15.6zM905.5 364.6h15.6v15.6h-15.6zM920.6 364.6h15.6v15.6h-15.6zM844.9 379.7h15.6v15.6h-15.6zM875.2 379.7h15.6v15.6h-15.6zM860.0 394.9h15.6v15.6h-15.6z"/><path fill="#343434" d="M708.6 -14.1h15.6v15.6h-15.6zM708.6 1.1h15.6v15.6h-15.6zM708.6 16.2h15.6v15.6h-15.6zM708.6 31.4h15.6v15.6h-15.6zM708.6 46.5h15.6v15.6h-15.6zM860.0 61.6h15.6v15.6h-15.6zM405.6 76.8h15.6v15.6h-15.6zM663.1 76.8h15.6v15.6h-15.6zM920.6 76.8h15.6v15.6h-15.6zM981.2 76.8h15.6v15.6h-15.6zM602.5 107.1h15.6v15.6h-15.6zM693.4 107.1h15.6v15.6h-15.6zM935.8 107.1h15.6v15.6h-15.6zM693.4 122.2h15.6v15.6h-15.6zM632.8 137.4h15.6v15.6h-15.6zM632.8 152.5h15.6v15.6h-15.6zM329.9 167.7h15.6v15.6h-15.6zM345.1 167.7h15.6v15.6h-15.6zM360.2 167.7h15.6v15.6h-15.6zM375.4 167.7h15.6v15.6h-15.6zM390.5 167.7h15.6v15.6h-15.6zM405.6 167.7h15.6v15.6h-15.6zM420.8 167.7h15.6v15.6h-15.6zM542.0 167.7h15.6v15.6h-15.6zM466.2 182.8h15.6v15.6h-15.6zM481.4 182.8h15.6v15.6h-15.6zM496.5 182.8h15.6v15.6h-15.6zM511.7 182.8h15.6v15.6h-15.6zM526.8 182.8h15.6v15.6h-15.6zM587.4 182.8h15.6v15.6h-15.6zM602.5 182.8h15.6v15.6h-15.6zM996.3 182.8h15.6v15.6h-15.6zM1041.8 182.8h15.6v15.6h-15.6zM1087.2 182.8h15.6v15.6h-15.6zM1056.9 213.1h15.6v15.6h-15.6zM329.9 228.2h15.6v15.6h-15.6zM345.1 228.2h15.6v15.6h-15.6zM360.2 228.2h15.6v15.6h-15.6zM375.4 228.2h15.6v15.6h-15.6zM390.5 228.2h15.6v15.6h-15.6zM966.0 228.2h15.6v15.6h-15.6zM981.2 228.2h15.6v15.6h-15.6zM1102.4 228.2h15.6v15.6h-15.6zM1117.5 228.2h15.6v15.6h-15.6zM1132.6 228.2h15.6v15.6h-15.6zM1147.8 228.2h15.6v15.6h-15.6zM1162.9 228.2h15.6v15.6h-15.6zM526.8 243.4h15.6v15.6h-15.6zM920.6 243.4h15.6v15.6h-15.6zM1056.9 243.4h15.6v15.6h-15.6zM1072.1 243.4h15.6v15.6h-15.6zM905.5 288.8h15.6v15.6h-15.6zM860.0 304.0h15.6v15.6h-15.6zM935.8 304.0h15.6v15.6h-15.6zM950.9 304.0h15.6v15.6h-15.6zM860.0 319.1h15.6v15.6h-15.6zM935.8 319.1h15.6v15.6h-15.6zM950.9 319.1h15.6v15.6h-15.6zM860.0 334.3h15.6v15.6h-15.6zM905.5 334.3h15.6v15.6h-15.6zM890.3 349.4h15.6v15.6h-15.6z"/><path fill="#353535" d="M663.1 -14.1h15.6v15.6h-15.6zM678.3 -14.1h15.6v15.6h-15.6zM663.1 1.1h15.6v15.6h-15.6zM678.3 1.1h15.6v15.6h-15.6zM663.1 16.2h15.6v15.6h-15.6zM678.3 16.2h15.6v15.6h-15.6zM663.1 31.4h15.6v15.6h-15.6zM678.3 31.4h15.6v15.6h-15.6zM663.1 46.5h15.6v15.6h-15.6zM678.3 46.5h15.6v15.6h-15.6zM632.8 61.6h15.6v15.6h-15.6zM648.0 61.6h15.6v15.6h-15.6zM663.1 61.6h15.6v15.6h-15.6zM678.3 61.6h15.6v15.6h-15.6zM678.3 76.8h15.6v15.6h-15.6zM905.5 76.8h15.6v15.6h-15.6zM996.3 76.8h15.6v15.6h-15.6zM587.4 91.9h15.6v15.6h-15.6zM693.4 91.9h15.6v15.6h-15.6zM860.0 107.1h15.6v15.6h-15.6zM890.3 107.1h15.6v15.6h-15.6zM602.5 122.2h15.6v15.6h-15.6zM617.7 137.4h15.6v15.6h-15.6zM844.9 137.4h15.6v15.6h-15.6zM542.0 152.5h15.6v15.6h-15.6zM557.1 152.5h15.6v15.6h-15.6zM617.7 152.5h15.6v15.6h-15.6zM935.8 152.5h15.6v15.6h-15.6zM950.9 152.5h15.6v15.6h-15.6zM966.0 152.5h15.6v15.6h-15.6zM557.1 167.7h15.6v15.6h-15.6zM617.7 167.7h15.6v15.6h-15.6zM996.3 167.7h15.6v15.6h-15.6zM542.0 182.8h15.6v15.6h-15.6zM557.1 182.8h15.6v15.6h-15.6zM572.2 182.8h15.6v15.6h-15.6zM1026.6 182.8h15.6v15.6h-15.6zM1102.4 182.8h15.6v15.6h-15.6zM1117.5 182.8h15.6v15.6h-15.6zM1132.6 182.8h15.6v15.6h-15.6zM1147.8 182.8h15.6v15.6h-15.6zM1162.9 182.8h15.6v15.6h-15.6zM420.8 198.0h15.6v15.6h-15.6zM557.1 198.0h15.6v15.6h-15.6zM1011.5 198.0h15.6v15.6h-15.6zM542.0 213.1h15.6v15.6h-15.6zM829.7 213.1h15.6v15.6h-15.6zM1056.9 228.2h15.6v15.6h-15.6zM1087.2 228.2h15.6v15.6h-15.6zM405.6 243.4h15.6v15.6h-15.6zM905.5 304.0h15.6v15.6h-15.6zM905.5 319.1h15.6v15.6h-15.6zM905.5 349.4h15.6v15.6h-15.6zM920.6 349.4h15.6v15.6h-15.6zM860.0 379.7h15.6v15.6h-15.6z"/><path fill="#363636" d="M648.0 -14.1h15.6v15.6h-15.6zM693.4 -14.1h15.6v15.6h-15.6zM875.2 -14.1h15.6v15.6h-15.6zM648.0 1.1h15.6v15.6h-15.6zM693.4 1.1h15.6v15.6h-15.6zM875.2 1.1h15.6v15.6h-15.6zM648.0 16.2h15.6v15.6h-15.6zM693.4 16.2h15.6v15.6h-15.6zM875.2 16.2h15.6v15.6h-15.6zM648.0 31.4h15.6v15.6h-15.6zM693.4 31.4h15.6v15.6h-15.6zM875.2 31.4h15.6v15.6h-15.6zM648.0 46.5h15.6v15.6h-15.6zM693.4 46.5h15.6v15.6h-15.6zM875.2 46.5h15.6v15.6h-15.6zM617.7 61.6h15.6v15.6h-15.6zM693.4 61.6h15.6v15.6h-15.6zM920.6 61.6h15.6v15.6h-15.6zM420.8 76.8h15.6v15.6h-15.6zM587.4 76.8h15.6v15.6h-15.6zM693.4 76.8h15.6v15.6h-15.6zM966.0 76.8h15.6v15.6h-15.6zM1011.5 76.8h15.6v15.6h-15.6zM860.0 91.9h15.6v15.6h-15.6zM890.3 91.9h15.6v15.6h-15.6zM935.8 91.9h15.6v15.6h-15.6zM981.2 91.9h15.6v15.6h-15.6zM996.3 91.9h15.6v15.6h-15.6zM587.4 107.1h15.6v15.6h-15.6zM875.2 107.1h15.6v15.6h-15.6zM587.4 122.2h15.6v15.6h-15.6zM935.8 122.2h15.6v15.6h-15.6zM1102.4 122.2h15.6v15.6h-15.6zM1117.5 122.2h15.6v15.6h-15.6zM1132.6 122.2h15.6v15.6h-15.6zM1147.8 122.2h15.6v15.6h-15.6zM1162.9 122.2h15.6v15.6h-15.6zM557.1 137.4h15.6v15.6h-15.6zM572.2 137.4h15.6v15.6h-15.6zM587.4 137.4h15.6v15.6h-15.6zM602.5 137.4h15.6v15.6h-15.6zM572.2 152.5h15.6v15.6h-15.6zM587.4 152.5h15.6v15.6h-15.6zM602.5 152.5h15.6v15.6h-15.6zM920.6 152.5h15.6v15.6h-15.6zM981.2 152.5h15.6v15.6h-15.6zM1056.9 152.5h15.6v15.6h-15.6zM572.2 167.7h15.6v15.6h-15.6zM587.4 167.7h15.6v15.6h-15.6zM602.5 167.7h15.6v15.6h-15.6zM905.5 167.7h15.6v15.6h-15.6zM890.3 182.8h15.6v15.6h-15.6zM435.9 198.0h15.6v15.6h-15.6zM451.1 198.0h15.6v15.6h-15.6zM511.7 198.0h15.6v15.6h-15.6zM526.8 198.0h15.6v15.6h-15.6zM542.0 198.0h15.6v15.6h-15.6zM875.2 198.0h15.6v15.6h-15.6zM1072.1 198.0h15.6v15.6h-15.6zM405.6 213.1h15.6v15.6h-15.6zM1072.1 228.2h15.6v15.6h-15.6zM890.3 288.8h15.6v15.6h-15.6zM875.2 334.3h15.6v15.6h-15.6zM890.3 334.3h15.6v15.6h-15.6z"/><path fill="#373737" d="M632.8 -14.1h15.6v15.6h-15.6zM632.8 1.1h15.6v15.6h-15.6zM632.8 16.2h15.6v15.6h-15.6zM632.8 31.4h15.6v15.6h-15.6zM632.8 46.5h15.6v15.6h-15.6zM602.5 61.6h15.6v15.6h-15.6zM875.2 61.6h15.6v15.6h-15.6zM905.5 61.6h15.6v15.6h-15.6zM860.0 76.8h15.6v15.6h-15.6zM875.2 76.8h15.6v15.6h-15.6zM890.3 76.8h15.6v15.6h-15.6zM1026.6 76.8h15.6v15.6h-15.6zM572.2 91.9h15.6v15.6h-15.6zM875.2 91.9h15.6v15.6h-15.6zM966.0 91.9h15.6v15.6h-15.6zM1011.5 91.9h15.6v15.6h-15.6zM572.2 107.1h15.6v15.6h-15.6zM557.1 122.2h15.6v15.6h-15.6zM572.2 122.2h15.6v15.6h-15.6zM860.0 122.2h15.6v15.6h-15.6zM875.2 122.2h15.6v15.6h-15.6zM890.3 122.2h15.6v15.6h-15.6zM542.0 137.4h15.6v15.6h-15.6zM1072.1 137.4h15.6v15.6h-15.6zM526.8 152.5h15.6v15.6h-15.6zM1041.8 167.7h15.6v15.6h-15.6zM1011.5 182.8h15.6v15.6h-15.6zM466.2 198.0h15.6v15.6h-15.6zM481.4 198.0h15.6v15.6h-15.6zM496.5 198.0h15.6v15.6h-15.6zM814.6 198.0h15.6v15.6h-15.6zM1087.2 198.0h15.6v15.6h-15.6zM1072.1 213.1h15.6v15.6h-15.6zM1087.2 213.1h15.6v15.6h-15.6zM1102.4 213.1h15.6v15.6h-15.6zM1117.5 213.1h15.6v15.6h-15.6zM1132.6 213.1h15.6v15.6h-15.6zM1147.8 213.1h15.6v15.6h-15.6zM1162.9 213.1h15.6v15.6h-15.6zM420.8 243.4h15.6v15.6h-15.6zM875.2 319.1h15.6v15.6h-15.6z"/><path fill="#383838" d="M920.6 -14.1h15.6v15.6h-15.6zM920.6 1.1h15.6v15.6h-15.6zM920.6 16.2h15.6v15.6h-15.6zM920.6 31.4h15.6v15.6h-15.6zM920.6 46.5h15.6v15.6h-15.6zM890.3 61.6h15.6v15.6h-15.6zM1011.5 61.6h15.6v15.6h-15.6zM572.2 76.8h15.6v15.6h-15.6zM935.8 76.8h15.6v15.6h-15.6zM1041.8 76.8h15.6v15.6h-15.6zM1026.6 91.9h15.6v15.6h-15.6zM557.1 107.1h15.6v15.6h-15.6zM981.2 107.1h15.6v15.6h-15.6zM996.3 107.1h15.6v15.6h-15.6zM1011.5 107.1h15.6v15.6h-15.6zM1026.6 107.1h15.6v15.6h-15.6zM1087.2 122.2h15.6v15.6h-15.6zM905.5 137.4h15.6v15.6h-15.6zM920.6 137.4h15.6v15.6h-15.6zM511.7 152.5h15.6v15.6h-15.6zM829.7 152.5h15.6v15.6h-15.6zM905.5 152.5h15.6v15.6h-15.6zM996.3 152.5h15.6v15.6h-15.6zM1011.5 167.7h15.6v15.6h-15.6zM1026.6 167.7h15.6v15.6h-15.6zM1102.4 198.0h15.6v15.6h-15.6zM1117.5 198.0h15.6v15.6h-15.6zM1132.6 198.0h15.6v15.6h-15.6zM1147.8 198.0h15.6v15.6h-15.6zM1162.9 198.0h15.6v15.6h-15.6zM526.8 213.1h15.6v15.6h-15.6zM511.7 243.4h15.6v15.6h-15.6zM875.2 304.0h15.6v15.6h-15.6zM890.3 319.1h15.6v15.6h-15.6z"/><path fill="#393939" d="M617.7 -14.1h15.6v15.6h-15.6zM905.5 -14.1h15.6v15.6h-15.6zM617.7 1.1h15.6v15.6h-15.6zM905.5 1.1h15.6v15.6h-15.6zM617.7 16.2h15.6v15.6h-15.6zM905.5 16.2h15.6v15.6h-15.6zM617.7 31.4h15.6v15.6h-15.6zM905.5 31.4h15.6v15.6h-15.6zM617.7 46.5h15.6v15.6h-15.6zM905.5 46.5h15.6v15.6h-15.6zM587.4 61.6h15.6v15.6h-15.6zM935.8 61.6h15.6v15.6h-15.6zM981.2 61.6h15.6v15.6h-15.6zM996.3 61.6h15.6v15.6h-15.6zM557.1 76.8h15.6v15.6h-15.6zM950.9 76.8h15.6v15.6h-15.6zM557.1 91.9h15.6v15.6h-15.6zM950.9 91.9h15.6v15.6h-15.6zM1041.8 91.9h15.6v15.6h-15.6zM966.0 107.1h15.6v15.6h-15.6zM1041.8 107.1h15.6v15.6h-15.6zM542.0 122.2h15.6v15.6h-15.6zM996.3 122.2h15.6v15.6h-15.6zM1011.5 122.2h15.6v15.6h-15.6zM860.0 137.4h15.6v15.6h-15.6zM875.2 137.4h15.6v15.6h-15.6zM890.3 137.4h15.6v15.6h-15.6zM935.8 137.4h15.6v15.6h-15.6zM1056.9 137.4h15.6v15.6h-15.6zM451.1 152.5h15.6v15.6h-15.6zM466.2 152.5h15.6v15.6h-15.6zM496.5 152.5h15.6v15.6h-15.6zM890.3 152.5h15.6v15.6h-15.6zM1041.8 152.5h15.6v15.6h-15.6zM890.3 167.7h15.6v15.6h-15.6zM814.6 182.8h15.6v15.6h-15.6zM420.8 213.1h15.6v15.6h-15.6zM405.6 228.2h15.6v15.6h-15.6zM890.3 304.0h15.6v15.6h-15.6z"/><path fill="#3a3a3a" d="M602.5 -14.1h15.6v15.6h-15.6zM890.3 -14.1h15.6v15.6h-15.6zM935.8 -14.1h15.6v15.6h-15.6zM1102.4 -14.1h15.6v15.6h-15.6zM1117.5 -14.1h15.6v15.6h-15.6zM1132.6 -14.1h15.6v15.6h-15.6zM1147.8 -14.1h15.6v15.6h-15.6zM1162.9 -14.1h15.6v15.6h-15.6zM602.5 1.1h15.6v15.6h-15.6zM890.3 1.1h15.6v15.6h-15.6zM935.8 1.1h15.6v15.6h-15.6zM1102.4 1.1h15.6v15.6h-15.6zM1117.5 1.1h15.6v15.6h-15.6zM1132.6 1.1h15.6v15.6h-15.6zM1147.8 1.1h15.6v15.6h-15.6zM1162.9 1.1h15.6v15.6h-15.6zM602.5 16.2h15.6v15.6h-15.6zM890.3 16.2h15.6v15.6h-15.6zM935.8 16.2h15.6v15.6h-15.6zM1102.4 16.2h15.6v15.6h-15.6zM1117.5 16.2h15.6v15.6h-15.6zM1132.6 16.2h15.6v15.6h-15.6zM1147.8 16.2h15.6v15.6h-15.6zM1162.9 16.2h15.6v15.6h-15.6zM602.5 31.4h15.6v15.6h-15.6zM890.3 31.4h15.6v15.6h-15.6zM935.8 31.4h15.6v15.6h-15.6zM1102.4 31.4h15.6v15.6h-15.6zM1117.5 31.4h15.6v15.6h-15.6zM1132.6 31.4h15.6v15.6h-15.6zM1147.8 31.4h15.6v15.6h-15.6zM1162.9 31.4h15.6v15.6h-15.6zM602.5 46.5h15.6v15.6h-15.6zM890.3 46.5h15.6v15.6h-15.6zM935.8 46.5h15.6v15.6h-15.6zM1102.4 46.5h15.6v15.6h-15.6zM1117.5 46.5h15.6v15.6h-15.6zM1132.6 46.5h15.6v15.6h-15.6zM1147.8 46.5h15.6v15.6h-15.6zM1162.9 46.5h15.6v15.6h-15.6zM950.9 61.6h15.6v15.6h-15.6zM966.0 61.6h15.6v15.6h-15.6zM1026.6 61.6h15.6v15.6h-15.6zM435.9 76.8h15.6v15.6h-15.6zM511.7 76.8h15.6v15.6h-15.6zM526.8 76.8h15.6v15.6h-15.6zM542.0 76.8h15.6v15.6h-15.6zM1056.9 76.8h15.6v15.6h-15.6zM329.9 91.9h15.6v15.6h-15.6zM345.1 91.9h15.6v15.6h-15.6zM360.2 91.9h15.6v15.6h-15.6zM375.4 91.9h15.6v15.6h-15.6zM390.5 91.9h15.6v15.6h-15.6zM542.0 91.9h15.6v15.6h-15.6zM1056.9 91.9h15.6v15.6h-15.6zM542.0 107.1h15.6v15.6h-15.6zM950.9 107.1h15.6v15.6h-15.6zM950.9 122.2h15.6v15.6h-15.6zM966.0 122.2h15.6v15.6h-15.6zM981.2 122.2h15.6v15.6h-15.6zM1026.6 122.2h15.6v15.6h-15.6zM1041.8 122.2h15.6v15.6h-15.6zM1056.9 122.2h15.6v15.6h-15.6zM1072.1 122.2h15.6v15.6h-15.6zM526.8 137.4h15.6v15.6h-15.6zM950.9 137.4h15.6v15.6h-15.6zM481.4 152.5h15.6v15.6h-15.6zM1011.5 152.5h15.6v15.6h-15.6zM1026.6 152.5h15.6v15.6h-15.6zM814.6 167.7h15.6v15.6h-15.6zM875.2 182.8h15.6v15.6h-15.6zM511.7 213.1h15.6v15.6h-15.6zM526.8 228.2h15.6v15.6h-15.6zM435.9 243.4h15.6v15.6h-15.6z"/><path fill="#3b3b3b" d="M950.9 -14.1h15.6v15.6h-15.6zM1011.5 -14.1h15.6v15.6h-15.6zM950.9 1.1h15.6v15.6h-15.6zM1011.5 1.1h15.6v15.6h-15.6zM950.9 16.2h15.6v15.6h-15.6zM1011.5 16.2h15.6v15.6h-15.6zM950.9 31.4h15.6v15.6h-15.6zM1011.5 31.4h15.6v15.6h-15.6zM950.9 46.5h15.6v15.6h-15.6zM1011.5 46.5h15.6v15.6h-15.6zM572.2 61.6h15.6v15.6h-15.6zM1041.8 61.6h15.6v15.6h-15.6zM1102.4 61.6h15.6v15.6h-15.6zM1117.5 61.6h15.6v15.6h-15.6zM1132.6 61.6h15.6v15.6h-15.6zM1147.8 61.6h15.6v15.6h-15.6zM1162.9 61.6h15.6v15.6h-15.6zM1072.1 76.8h15.6v15.6h-15.6zM1056.9 107.1h15.6v15.6h-15.6zM966.0 137.4h15.6v15.6h-15.6zM981.2 137.4h15.6v15.6h-15.6zM996.3 137.4h15.6v15.6h-15.6zM1011.5 137.4h15.6v15.6h-15.6zM1026.6 137.4h15.6v15.6h-15.6zM1041.8 137.4h15.6v15.6h-15.6zM435.9 152.5h15.6v15.6h-15.6zM844.9 152.5h15.6v15.6h-15.6zM875.2 152.5h15.6v15.6h-15.6zM860.0 198.0h15.6v15.6h-15.6zM435.9 213.1h15.6v15.6h-15.6zM496.5 243.4h15.6v15.6h-15.6z"/><path fill="#3c3c3c" d="M587.4 -14.1h15.6v15.6h-15.6zM996.3 -14.1h15.6v15.6h-15.6zM1026.6 -14.1h15.6v15.6h-15.6zM1087.2 -14.1h15.6v15.6h-15.6zM587.4 1.1h15.6v15.6h-15.6zM996.3 1.1h15.6v15.6h-15.6zM1026.6 1.1h15.6v15.6h-15.6zM1087.2 1.1h15.6v15.6h-15.6zM587.4 16.2h15.6v15.6h-15.6zM996.3 16.2h15.6v15.6h-15.6zM1026.6 16.2h15.6v15.6h-15.6zM1087.2 16.2h15.6v15.6h-15.6zM587.4 31.4h15.6v15.6h-15.6zM996.3 31.4h15.6v15.6h-15.6zM1026.6 31.4h15.6v15.6h-15.6zM1087.2 31.4h15.6v15.6h-15.6zM587.4 46.5h15.6v15.6h-15.6zM996.3 46.5h15.6v15.6h-15.6zM1026.6 46.5h15.6v15.6h-15.6zM1087.2 46.5h15.6v15.6h-15.6zM1056.9 61.6h15.6v15.6h-15.6zM1087.2 61.6h15.6v15.6h-15.6zM1087.2 76.8h15.6v15.6h-15.6zM405.6 91.9h15.6v15.6h-15.6zM526.8 91.9h15.6v15.6h-15.6zM1072.1 91.9h15.6v15.6h-15.6zM511.7 137.4h15.6v15.6h-15.6zM829.7 198.0h15.6v15.6h-15.6zM844.9 198.0h15.6v15.6h-15.6zM496.5 213.1h15.6v15.6h-15.6z"/><path fill="#3d3d3d" d="M966.0 -14.1h15.6v15.6h-15.6zM1041.8 -14.1h15.6v15.6h-15.6zM966.0 1.1h15.6v15.6h-15.6zM1041.8 1.1h15.6v15.6h-15.6zM966.0 16.2h15.6v15.6h-15.6zM1041.8 16.2h15.6v15.6h-15.6zM966.0 31.4h15.6v15.6h-15.6zM1041.8 31.4h15.6v15.6h-15.6zM966.0 46.5h15.6v15.6h-15.6zM1041.8 46.5h15.6v15.6h-15.6zM1072.1 61.6h15.6v15.6h-15.6zM1102.4 76.8h15.6v15.6h-15.6zM1117.5 76.8h15.6v15.6h-15.6zM1132.6 76.8h15.6v15.6h-15.6zM1147.8 76.8h15.6v15.6h-15.6zM1162.9 76.8h15.6v15.6h-15.6zM420.8 91.9h15.6v15.6h-15.6zM1087.2 91.9h15.6v15.6h-15.6zM1102.4 91.9h15.6v15.6h-15.6zM1117.5 91.9h15.6v15.6h-15.6zM1132.6 91.9h15.6v15.6h-15.6zM1147.8 91.9h15.6v15.6h-15.6zM1162.9 91.9h15.6v15.6h-15.6zM1072.1 107.1h15.6v15.6h-15.6zM1087.2 107.1h15.6v15.6h-15.6zM526.8 122.2h15.6v15.6h-15.6zM329.9 152.5h15.6v15.6h-15.6zM345.1 152.5h15.6v15.6h-15.6zM360.2 152.5h15.6v15.6h-15.6zM375.4 152.5h15.6v15.6h-15.6zM390.5 152.5h15.6v15.6h-15.6zM405.6 152.5h15.6v15.6h-15.6zM420.8 152.5h15.6v15.6h-15.6zM860.0 152.5h15.6v15.6h-15.6zM875.2 167.7h15.6v15.6h-15.6zM451.1 213.1h15.6v15.6h-15.6zM466.2 213.1h15.6v15.6h-15.6zM481.4 213.1h15.6v15.6h-15.6zM466.2 243.4h15.6v15.6h-15.6zM481.4 243.4h15.6v15.6h-15.6z"/><path fill="#3e3e3e" d="M572.2 -14.1h15.6v15.6h-15.6zM981.2 -14.1h15.6v15.6h-15.6zM1056.9 -14.1h15.6v15.6h-15.6zM1072.1 -14.1h15.6v15.6h-15.6zM572.2 1.1h15.6v15.6h-15.6zM981.2 1.1h15.6v15.6h-15.6zM1056.9 1.1h15.6v15.6h-15.6zM1072.1 1.1h15.6v15.6h-15.6zM572.2 16.2h15.6v15.6h-15.6zM981.2 16.2h15.6v15.6h-15.6zM1056.9 16.2h15.6v15.6h-15.6zM1072.1 16.2h15.6v15.6h-15.6zM572.2 31.4h15.6v15.6h-15.6zM981.2 31.4h15.6v15.6h-15.6zM1056.9 31.4h15.6v15.6h-15.6zM1072.1 31.4h15.6v15.6h-15.6zM572.2 46.5h15.6v15.6h-15.6zM981.2 46.5h15.6v15.6h-15.6zM1056.9 46.5h15.6v15.6h-15.6zM1072.1 46.5h15.6v15.6h-15.6zM557.1 61.6h15.6v15.6h-15.6zM451.1 76.8h15.6v15.6h-15.6zM496.5 76.8h15.6v15.6h-15.6zM511.7 91.9h15.6v15.6h-15.6zM1102.4 107.1h15.6v15.6h-15.6zM1117.5 107.1h15.6v15.6h-15.6zM1132.6 107.1h15.6v15.6h-15.6zM1147.8 107.1h15.6v15.6h-15.6zM1162.9 107.1h15.6v15.6h-15.6zM496.5 137.4h15.6v15.6h-15.6zM420.8 228.2h15.6v15.6h-15.6zM451.1 243.4h15.6v15.6h-15.6z"/><path fill="#3f3f3f" d="M329.9 61.6h15.6v15.6h-15.6zM345.1 61.6h15.6v15.6h-15.6zM360.2 61.6h15.6v15.6h-15.6zM375.4 61.6h15.6v15.6h-15.6zM390.5 61.6h15.6v15.6h-15.6zM860.0 182.8h15.6v15.6h-15.6z"/><path fill="#404040" d="M542.0 61.6h15.6v15.6h-15.6zM466.2 76.8h15.6v15.6h-15.6zM435.9 91.9h15.6v15.6h-15.6zM526.8 107.1h15.6v15.6h-15.6zM451.1 137.4h15.6v15.6h-15.6zM466.2 137.4h15.6v15.6h-15.6zM481.4 137.4h15.6v15.6h-15.6zM829.7 182.8h15.6v15.6h-15.6zM511.7 228.2h15.6v15.6h-15.6z"/><path fill="#414141" d="M481.4 76.8h15.6v15.6h-15.6zM511.7 122.2h15.6v15.6h-15.6zM829.7 167.7h15.6v15.6h-15.6zM844.9 182.8h15.6v15.6h-15.6zM435.9 228.2h15.6v15.6h-15.6z"/><path fill="#424242" d="M557.1 -14.1h15.6v15.6h-15.6zM557.1 1.1h15.6v15.6h-15.6zM557.1 16.2h15.6v15.6h-15.6zM557.1 31.4h15.6v15.6h-15.6zM557.1 46.5h15.6v15.6h-15.6zM405.6 61.6h15.6v15.6h-15.6zM526.8 61.6h15.6v15.6h-15.6zM496.5 91.9h15.6v15.6h-15.6zM844.9 167.7h15.6v15.6h-15.6zM860.0 167.7h15.6v15.6h-15.6z"/><path fill="#434343" d="M511.7 61.6h15.6v15.6h-15.6zM435.9 137.4h15.6v15.6h-15.6zM496.5 228.2h15.6v15.6h-15.6z"/><path fill="#444444" d="M451.1 91.9h15.6v15.6h-15.6zM466.2 91.9h15.6v15.6h-15.6zM329.9 107.1h15.6v15.6h-15.6zM345.1 107.1h15.6v15.6h-15.6zM360.2 107.1h15.6v15.6h-15.6zM375.4 107.1h15.6v15.6h-15.6zM390.5 107.1h15.6v15.6h-15.6zM496.5 122.2h15.6v15.6h-15.6zM451.1 228.2h15.6v15.6h-15.6z"/><path fill="#454545" d="M496.5 61.6h15.6v15.6h-15.6zM481.4 91.9h15.6v15.6h-15.6zM405.6 107.1h15.6v15.6h-15.6zM511.7 107.1h15.6v15.6h-15.6zM329.9 122.2h15.6v15.6h-15.6zM345.1 122.2h15.6v15.6h-15.6zM360.2 122.2h15.6v15.6h-15.6zM375.4 122.2h15.6v15.6h-15.6zM390.5 122.2h15.6v15.6h-15.6zM329.9 137.4h15.6v15.6h-15.6zM345.1 137.4h15.6v15.6h-15.6zM360.2 137.4h15.6v15.6h-15.6zM375.4 137.4h15.6v15.6h-15.6zM390.5 137.4h15.6v15.6h-15.6zM405.6 137.4h15.6v15.6h-15.6zM420.8 137.4h15.6v15.6h-15.6zM466.2 228.2h15.6v15.6h-15.6zM481.4 228.2h15.6v15.6h-15.6z"/><path fill="#464646" d="M542.0 -14.1h15.6v15.6h-15.6zM542.0 1.1h15.6v15.6h-15.6zM542.0 16.2h15.6v15.6h-15.6zM542.0 31.4h15.6v15.6h-15.6zM542.0 46.5h15.6v15.6h-15.6zM420.8 61.6h15.6v15.6h-15.6zM405.6 122.2h15.6v15.6h-15.6zM451.1 122.2h15.6v15.6h-15.6zM466.2 122.2h15.6v15.6h-15.6zM481.4 122.2h15.6v15.6h-15.6z"/><path fill="#474747" d="M481.4 61.6h15.6v15.6h-15.6zM420.8 107.1h15.6v15.6h-15.6zM420.8 122.2h15.6v15.6h-15.6zM435.9 122.2h15.6v15.6h-15.6z"/><path fill="#484848" d="M435.9 61.6h15.6v15.6h-15.6zM466.2 61.6h15.6v15.6h-15.6zM496.5 107.1h15.6v15.6h-15.6z"/><path fill="#494949" d="M526.8 -14.1h15.6v15.6h-15.6zM526.8 1.1h15.6v15.6h-15.6zM526.8 16.2h15.6v15.6h-15.6zM526.8 31.4h15.6v15.6h-15.6zM526.8 46.5h15.6v15.6h-15.6zM451.1 61.6h15.6v15.6h-15.6zM435.9 107.1h15.6v15.6h-15.6z"/><path fill="#4a4a4a" d="M329.9 -14.1h15.6v15.6h-15.6zM345.1 -14.1h15.6v15.6h-15.6zM360.2 -14.1h15.6v15.6h-15.6zM375.4 -14.1h15.6v15.6h-15.6zM390.5 -14.1h15.6v15.6h-15.6zM329.9 1.1h15.6v15.6h-15.6zM345.1 1.1h15.6v15.6h-15.6zM360.2 1.1h15.6v15.6h-15.6zM375.4 1.1h15.6v15.6h-15.6zM390.5 1.1h15.6v15.6h-15.6zM329.9 16.2h15.6v15.6h-15.6zM345.1 16.2h15.6v15.6h-15.6zM360.2 16.2h15.6v15.6h-15.6zM375.4 16.2h15.6v15.6h-15.6zM390.5 16.2h15.6v15.6h-15.6zM329.9 31.4h15.6v15.6h-15.6zM345.1 31.4h15.6v15.6h-15.6zM360.2 31.4h15.6v15.6h-15.6zM375.4 31.4h15.6v15.6h-15.6zM390.5 31.4h15.6v15.6h-15.6zM329.9 46.5h15.6v15.6h-15.6zM345.1 46.5h15.6v15.6h-15.6zM360.2 46.5h15.6v15.6h-15.6zM375.4 46.5h15.6v15.6h-15.6zM390.5 46.5h15.6v15.6h-15.6zM481.4 107.1h15.6v15.6h-15.6z"/><path fill="#4b4b4b" d="M451.1 107.1h15.6v15.6h-15.6zM466.2 107.1h15.6v15.6h-15.6z"/><path fill="#4c4c4c" d="M511.7 -14.1h15.6v15.6h-15.6zM511.7 1.1h15.6v15.6h-15.6zM511.7 16.2h15.6v15.6h-15.6zM511.7 31.4h15.6v15.6h-15.6zM511.7 46.5h15.6v15.6h-15.6z"/><path fill="#4d4d4d" d="M496.5 -14.1h15.6v15.6h-15.6zM496.5 1.1h15.6v15.6h-15.6zM496.5 16.2h15.6v15.6h-15.6zM496.5 31.4h15.6v15.6h-15.6zM496.5 46.5h15.6v15.6h-15.6z"/><path fill="#4e4e4e" d="M481.4 -14.1h15.6v15.6h-15.6zM481.4 1.1h15.6v15.6h-15.6zM481.4 16.2h15.6v15.6h-15.6zM481.4 31.4h15.6v15.6h-15.6zM481.4 46.5h15.6v15.6h-15.6z"/><path fill="#4f4f4f" d="M405.6 -14.1h15.6v15.6h-15.6zM405.6 1.1h15.6v15.6h-15.6zM405.6 16.2h15.6v15.6h-15.6zM405.6 31.4h15.6v15.6h-15.6zM405.6 46.5h15.6v15.6h-15.6z"/><path fill="#505050" d="M466.2 -14.1h15.6v15.6h-15.6zM466.2 1.1h15.6v15.6h-15.6zM466.2 16.2h15.6v15.6h-15.6zM466.2 31.4h15.6v15.6h-15.6zM466.2 46.5h15.6v15.6h-15.6z"/><path fill="#535353" d="M451.1 -14.1h15.6v15.6h-15.6zM451.1 1.1h15.6v15.6h-15.6zM451.1 16.2h15.6v15.6h-15.6zM451.1 31.4h15.6v15.6h-15.6zM451.1 46.5h15.6v15.6h-15.6z"/><path fill="#545454" d="M420.8 -14.1h15.6v15.6h-15.6zM435.9 -14.1h15.6v15.6h-15.6zM420.8 1.1h15.6v15.6h-15.6zM435.9 1.1h15.6v15.6h-15.6zM420.8 16.2h15.6v15.6h-15.6zM435.9 16.2h15.6v15.6h-15.6zM420.8 31.4h15.6v15.6h-15.6zM435.9 31.4h15.6v15.6h-15.6zM420.8 46.5h15.6v15.6h-15.6zM435.9 46.5h15.6v15.6h-15.6z"/></g><g filter="url(#sb)"><polyline points="735,50 765,110 792,165" fill="none" stroke="#000" stroke-opacity="0.28" stroke-width="34" stroke-linecap="round" stroke-linejoin="round"/><polyline points="815,230 790,271 750,346 700,446 660,530" fill="none" stroke="#000" stroke-opacity="0.32" stroke-width="34" stroke-linecap="round" stroke-linejoin="round"/><polygon points="575,700 600,712 650,714 700,706 760,700 770,680 745,650 700,630 640,625 590,650 570,680" fill="#fff" fill-opacity="0.05"/></g><g filter="url(#fb)"><polygon points="390,40 610,40 591,59 547,71 531,76 484,81 437,76 390,77" fill="#fff" fill-opacity="0.03"/><polygon points="390,98 480,98 579,92 566,118 547,137 522,147 469,150 421,178 390,194" fill="#fff" fill-opacity="0.05"/><polygon points="400,226 541,222 545,235 522,260 469,269 421,272 395,255" fill="#fff" fill-opacity="0.06"/><polyline points="390,85 437,85 484,91 531,87 565,78 600,60" fill="none" stroke="#000" stroke-opacity="0.3" stroke-width="10" stroke-linecap="round" stroke-linejoin="round"/><polyline points="525,151 469,155 421,183 390,199" fill="none" stroke="#000" stroke-opacity="0.22" stroke-width="8" stroke-linecap="round" stroke-linejoin="round"/><polyline points="421,277 469,274 522,265 547,240" fill="none" stroke="#000" stroke-opacity="0.22" stroke-width="8" stroke-linecap="round" stroke-linejoin="round"/><polyline points="488,380 515,363 545,350" fill="none" stroke="#000" stroke-opacity="0.2" stroke-width="10" stroke-linecap="round" stroke-linejoin="round"/><polyline points="500,123 515,106 533,93" fill="none" stroke="#000" stroke-opacity="0.3" stroke-width="5" stroke-linecap="round" stroke-linejoin="round"/><polyline points="825,240 860,228 899,213 946,201 985,185 1017,177 1057,189 1088,162 1118,146" fill="none" stroke="#000" stroke-opacity="0.5" stroke-width="8" stroke-linecap="round" stroke-linejoin="round"/><polyline points="809,322 860,300 907,285 950,270 999,260" fill="none" stroke="#000" stroke-opacity="0.35" stroke-width="6" stroke-linecap="round" stroke-linejoin="round"/><ellipse cx="848" cy="272" rx="28" ry="42" fill="#000" fill-opacity="0.28"/><polyline points="930,256 950,296 970,320" fill="none" stroke="#000" stroke-opacity="0.35" stroke-width="5" stroke-linecap="round" stroke-linejoin="round"/><polyline points="875,351 899,367 922,391 938,403" fill="none" stroke="#000" stroke-opacity="0.4" stroke-width="5" stroke-linecap="round" stroke-linejoin="round"/><polyline points="843,415 879,407 910,430" fill="none" stroke="#000" stroke-opacity="0.35" stroke-width="5" stroke-linecap="round" stroke-linejoin="round"/><polyline points="819,454 867,470 930,486 970,478" fill="none" stroke="#000" stroke-opacity="0.3" stroke-width="5" stroke-linecap="round" stroke-linejoin="round"/><polyline points="839,525 883,533 922,525" fill="none" stroke="#000" stroke-opacity="0.3" stroke-width="5" stroke-linecap="round" stroke-linejoin="round"/><polyline points="985,241 1007,260 1027,248 1057,260" fill="none" stroke="#000" stroke-opacity="0.3" stroke-width="5" stroke-linecap="round" stroke-linejoin="round"/><polyline points="954,351 970,383 950,406" fill="none" stroke="#000" stroke-opacity="0.3" stroke-width="5" stroke-linecap="round" stroke-linejoin="round"/></g></g><filter id="mb" x="-20%" y="-20%" width="140%" height="140%"><feGaussianBlur stdDeviation="25"/></filter><mask id="tm" maskUnits="userSpaceOnUse" x="300" y="0" width="900" height="850"><rect x="300" y="0" width="900" height="850" fill="#707070"/><g filter="url(#mb)"><polygon points="740,30 1130,30 1130,260 1000,440 930,570 760,570 720,400 750,250" fill="#fff"/><polygon points="380,30 610,30 585,150 530,285 380,300" fill="#fff"/></g></mask></defs><g clip-path="url(#ic)"><use href="#baseimg"/><g mask="url(#tm)"><g filter="url(#tx)"><use href="#baseimg"/></g></g></g>
<path d="M418.3 46.5V773.5M547.3 46.5V773.5M676.3 46.5V773.5M805.3 46.5V773.5M934.3 46.5V773.5M1063.3 46.5V773.5M390.5 87.3H1117.5M390.5 216.4H1117.5M390.5 345.5H1117.5M390.5 474.5H1117.5M390.5 603.6H1117.5M390.5 732.7H1117.5" stroke="rgba(176,176,176,0.42)" stroke-width="1" stroke-dasharray="3.8 2.0" fill="none"/>
<path d="M801.4 46.5V773.5M390.5 410.4H1117.5" stroke="rgba(255,0,0,0.42)" stroke-width="1" fill="none"/>
<circle cx="801.4" cy="410.4" r="7.2" fill="#ff0000" stroke="#fff" stroke-width="1.3"/>
<polygon points="1029.8,88.6 1044.3,119.2 1036.8,120.3 1044.8,193.3 1039.6,193.6 1031.9,121.0 1024.3,122.2" fill="#ff0000"/>
<text stroke="#ff0000" stroke-width="0.5" x="1021.6" y="77.1" font-size="19.5" textLength="15.0" lengthAdjust="spacingAndGlyphs" font-weight="bold" fill="#ff0000">N</text>
<rect x="390.5" y="46.5" width="727.0" height="727.0" fill="none" stroke="#000" stroke-width="1.1"/>
<path d="M418.3 773.5v5.3M547.3 773.5v5.3M676.3 773.5v5.3M805.3 773.5v5.3M934.3 773.5v5.3M1063.3 773.5v5.3M390.5 87.3h-5.3M390.5 216.4h-5.3M390.5 345.5h-5.3M390.5 474.5h-5.3M390.5 603.6h-5.3M390.5 732.7h-5.3" stroke="#000" stroke-width="1.1" fill="none"/>
<text x="417.0" y="798.1" font-size="17.8" textLength="60.3" lengthAdjust="spacingAndGlyphs" text-anchor="middle">660000</text>
<text x="546.0" y="798.1" font-size="17.8" textLength="60.3" lengthAdjust="spacingAndGlyphs" text-anchor="middle">662000</text>
<text x="675.0" y="798.1" font-size="17.8" textLength="60.3" lengthAdjust="spacingAndGlyphs" text-anchor="middle">664000</text>
<text x="804.0" y="798.1" font-size="17.8" textLength="60.3" lengthAdjust="spacingAndGlyphs" text-anchor="middle">666000</text>
<text x="933.0" y="798.1" font-size="17.8" textLength="60.3" lengthAdjust="spacingAndGlyphs" text-anchor="middle">668000</text>
<text x="1062.0" y="798.1" font-size="17.8" textLength="60.3" lengthAdjust="spacingAndGlyphs" text-anchor="middle">670000</text>
<text x="378.4" y="94.9" font-size="18.0" textLength="44.6" lengthAdjust="spacingAndGlyphs" text-anchor="end">4.238</text>
<text x="378.4" y="224.0" font-size="18.0" textLength="44.6" lengthAdjust="spacingAndGlyphs" text-anchor="end">4.236</text>
<text x="378.4" y="353.1" font-size="18.0" textLength="44.6" lengthAdjust="spacingAndGlyphs" text-anchor="end">4.234</text>
<text x="378.4" y="482.1" font-size="18.0" textLength="44.6" lengthAdjust="spacingAndGlyphs" text-anchor="end">4.232</text>
<text x="378.4" y="611.2" font-size="18.0" textLength="44.6" lengthAdjust="spacingAndGlyphs" text-anchor="end">4.230</text>
<text x="378.4" y="740.3" font-size="18.0" textLength="44.6" lengthAdjust="spacingAndGlyphs" text-anchor="end">4.228</text>
<text x="391.0" y="42.9" font-size="13.9" textLength="23.3" lengthAdjust="spacingAndGlyphs">1e6</text>
<text x="698.3" y="822.1" font-size="19.9" textLength="109.7" lengthAdjust="spacingAndGlyphs">Easting (m)</text>
<text x="322.2" y="471.9" font-size="20.4" textLength="121.7" lengthAdjust="spacingAndGlyphs" transform="rotate(-90 322.2 471.9)">Northing (m)</text>
<text x="584.4" y="26.4" font-size="24.5" textLength="337.0" lengthAdjust="spacingAndGlyphs">Location 1 at 2315nm (2.3um)</text>
<defs><linearGradient id="cb" x1="0" y1="1" x2="0" y2="0"><stop offset="0" stop-color="#000"/><stop offset="1" stop-color="#fff"/></linearGradient></defs>
<rect x="1181.5" y="46.5" width="36.0" height="727.0" fill="url(#cb)" stroke="#000" stroke-width="1.1"/>
<text x="1229.3" y="779.1" font-size="14.2" textLength="18.9" lengthAdjust="spacingAndGlyphs">0.0</text>
<text x="1229.3" y="667.2" font-size="14.2" textLength="18.9" lengthAdjust="spacingAndGlyphs">0.2</text>
<text x="1229.3" y="555.4" font-size="14.2" textLength="18.9" lengthAdjust="spacingAndGlyphs">0.4</text>
<text x="1229.3" y="443.6" font-size="14.2" textLength="18.9" lengthAdjust="spacingAndGlyphs">0.6</text>
<text x="1229.3" y="331.7" font-size="14.2" textLength="18.9" lengthAdjust="spacingAndGlyphs">0.8</text>
<text x="1229.3" y="219.8" font-size="14.2" textLength="18.9" lengthAdjust="spacingAndGlyphs">1.0</text>
<text x="1229.3" y="108.0" font-size="14.2" textLength="18.9" lengthAdjust="spacingAndGlyphs">1.2</text>
<path d="M1217.5 773.4h5.3M1217.5 661.5h5.3M1217.5 549.7h5.3M1217.5 437.9h5.3M1217.5 326.0h5.3M1217.5 214.1h5.3M1217.5 102.3h5.3" stroke="#000" stroke-width="1.1" fill="none"/>
<text x="1269.2" y="459.5" font-size="18.3" textLength="94.4" lengthAdjust="spacingAndGlyphs" transform="rotate(-90 1269.2 459.5)">Reflectance</text>
<clipPath id="bc"><rect x="89.5" y="882.5" width="1284.8" height="242.9000000000001"/></clipPath>
<g clip-path="url(#bc)">
<rect x="85.7" y="882.5" width="48.4" height="242.9" fill="rgba(238,130,238,0.2)" stroke="rgba(238,130,238,0.2)" stroke-width="1"/>
<rect x="134.1" y="882.5" width="21.2" height="242.9" fill="rgba(0,0,255,0.2)" stroke="rgba(0,0,255,0.2)" stroke-width="1"/>
<rect x="155.2" y="882.5" width="9.1" height="242.9" fill="rgba(0,255,255,0.2)" stroke="rgba(0,255,255,0.2)" stroke-width="1"/>
<rect x="164.3" y="882.5" width="39.3" height="242.9" fill="rgba(0,128,0,0.2)" stroke="rgba(0,128,0,0.2)" stroke-width="1"/>
<rect x="203.6" y="882.5" width="15.1" height="242.9" fill="rgba(255,255,0,0.2)" stroke="rgba(255,255,0,0.2)" stroke-width="1"/>
<rect x="218.8" y="882.5" width="21.2" height="242.9" fill="rgba(255,165,0,0.2)" stroke="rgba(255,165,0,0.2)" stroke-width="1"/>
<rect x="239.9" y="882.5" width="69.6" height="242.9" fill="rgba(255,0,0,0.2)" stroke="rgba(255,0,0,0.2)" stroke-width="1"/>
<rect x="309.5" y="882.5" width="217.8" height="242.9" fill="rgba(128,128,128,0.22)" stroke="rgba(128,128,128,0.22)" stroke-width="1"/>
<rect x="672.5" y="882.5" width="63.5" height="242.9" fill="rgba(0,0,255,0.1)" stroke="rgba(0,0,255,0.1)" stroke-width="1"/>
<rect x="944.8" y="882.5" width="99.8" height="242.9" fill="rgba(0,0,255,0.1)" stroke="rgba(0,0,255,0.1)" stroke-width="1"/>
<path d="M164.3 882.5V1125.4M315.6 882.5V1125.4M466.8 882.5V1125.4M618.0 882.5V1125.4M769.3 882.5V1125.4M920.5 882.5V1125.4M1071.8 882.5V1125.4M1223.0 882.5V1125.4M1374.3 882.5V1125.4M89.5 1115.5H1374.3M89.5 1074.3H1374.3M89.5 1033.1H1374.3M89.5 991.9H1374.3M89.5 950.7H1374.3M89.5 909.5H1374.3" stroke="rgba(176,176,176,0.3)" stroke-width="1.1" fill="none"/>
<path d="M84.7 1105.4a4.6 4.6 0 1 0 9.2 0a4.6 4.6 0 1 0 -9.2 0M87.7 1105.2a4.6 4.6 0 1 0 9.2 0a4.6 4.6 0 1 0 -9.2 0M90.8 1105.0a4.6 4.6 0 1 0 9.2 0a4.6 4.6 0 1 0 -9.2 0M93.8 1104.9a4.6 4.6 0 1 0 9.2 0a4.6 4.6 0 1 0 -9.2 0M96.8 1104.8a4.6 4.6 0 1 0 9.2 0a4.6 4.6 0 1 0 -9.2 0M99.8 1104.8a4.6 4.6 0 1 0 9.2 0a4.6 4.6 0 1 0 -9.2 0M102.9 1104.8a4.6 4.6 0 1 0 9.2 0a4.6 4.6 0 1 0 -9.2 0M105.9 1104.8a4.6 4.6 0 1 0 9.2 0a4.6 4.6 0 1 0 -9.2 0M108.9 1104.8a4.6 4.6 0 1 0 9.2 0a4.6 4.6 0 1 0 -9.2 0M111.9 1104.8a4.6 4.6 0 1 0 9.2 0a4.6 4.6 0 1 0 -9.2 0M115.0 1104.8a4.6 4.6 0 1 0 9.2 0a4.6 4.6 0 1 0 -9.2 0M118.0 1104.8a4.6 4.6 0 1 0 9.2 0a4.6 4.6 0 1 0 -9.2 0M121.0 1104.8a4.6 4.6 0 1 0 9.2 0a4.6 4.6 0 1 0 -9.2 0M124.0 1104.8a4.6 4.6 0 1 0 9.2 0a4.6 4.6 0 1 0 -9.2 0M127.1 1104.8a4.6 4.6 0 1 0 9.2 0a4.6 4.6 0 1 0 -9.2 0M130.1 1104.8a4.6 4.6 0 1 0 9.2 0a4.6 4.6 0 1 0 -9.2 0M133.1 1104.8a4.6 4.6 0 1 0 9.2 0a4.6 4.6 0 1 0 -9.2 0M136.1 1104.8a4.6 4.6 0 1 0 9.2 0a4.6 4.6 0 1 0 -9.2 0M139.2 1104.8a4.6 4.6 0 1 0 9.2 0a4.6 4.6 0 1 0 -9.2 0M142.2 1104.8a4.6 4.6 0 1 0 9.2 0a4.6 4.6 0 1 0 -9.2 0M145.2 1104.8a4.6 4.6 0 1 0 9.2 0a4.6 4.6 0 1 0 -9.2 0M148.2 1104.8a4.6 4.6 0 1 0 9.2 0a4.6 4.6 0 1 0 -9.2 0M151.3 1104.8a4.6 4.6 0 1 0 9.2 0a4.6 4.6 0 1 0 -9.2 0M154.3 1104.8a4.6 4.6 0 1 0 9.2 0a4.6 4.6 0 1 0 -9.2 0M157.3 1104.8a4.6 4.6 0 1 0 9.2 0a4.6 4.6 0 1 0 -9.2 0M160.3 1104.8a4.6 4.6 0 1 0 9.2 0a4.6 4.6 0 1 0 -9.2 0M163.4 1104.8a4.6 4.6 0 1 0 9.2 0a4.6 4.6 0 1 0 -9.2 0M166.4 1104.8a4.6 4.6 0 1 0 9.2 0a4.6 4.6 0 1 0 -9.2 0M169.4 1104.8a4.6 4.6 0 1 0 9.2 0a4.6 4.6 0 1 0 -9.2 0M172.4 1104.8a4.6 4.6 0 1 0 9.2 0a4.6 4.6 0 1 0 -9.2 0M175.5 1104.8a4.6 4.6 0 1 0 9.2 0a4.6 4.6 0 1 0 -9.2 0M178.5 1104.8a4.6 4.6 0 1 0 9.2 0a4.6 4.6 0 1 0 -9.2 0M181.5 1104.8a4.6 4.6 0 1 0 9.2 0a4.6 4.6 0 1 0 -9.2 0M184.5 1104.8a4.6 4.6 0 1 0 9.2 0a4.6 4.6 0 1 0 -9.2 0M187.6 1104.8a4.6 4.6 0 1 0 9.2 0a4.6 4.6 0 1 0 -9.2 0M190.6 1104.8a4.6 4.6 0 1 0 9.2 0a4.6 4.6 0 1 0 -9.2 0M193.6 1104.8a4.6 4.6 0 1 0 9.2 0a4.6 4.6 0 1 0 -9.2 0M196.6 1104.8a4.6 4.6 0 1 0 9.2 0a4.6 4.6 0 1 0 -9.2 0M199.7 1104.8a4.6 4.6 0 1 0 9.2 0a4.6 4.6 0 1 0 -9.2 0M202.7 1104.7a4.6 4.6 0 1 0 9.2 0a4.6 4.6 0 1 0 -9.2 0M205.7 1104.7a4.6 4.6 0 1 0 9.2 0a4.6 4.6 0 1 0 -9.2 0M208.7 1104.7a4.6 4.6 0 1 0 9.2 0a4.6 4.6 0 1 0 -9.2 0M211.8 1104.7a4.6 4.6 0 1 0 9.2 0a4.6 4.6 0 1 0 -9.2 0M214.8 1104.7a4.6 4.6 0 1 0 9.2 0a4.6 4.6 0 1 0 -9.2 0M217.8 1104.7a4.6 4.6 0 1 0 9.2 0a4.6 4.6 0 1 0 -9.2 0M220.8 1104.7a4.6 4.6 0 1 0 9.2 0a4.6 4.6 0 1 0 -9.2 0M223.9 1104.7a4.6 4.6 0 1 0 9.2 0a4.6 4.6 0 1 0 -9.2 0M226.9 1104.7a4.6 4.6 0 1 0 9.2 0a4.6 4.6 0 1 0 -9.2 0M229.9 1104.7a4.6 4.6 0 1 0 9.2 0a4.6 4.6 0 1 0 -9.2 0M232.9 1104.7a4.6 4.6 0 1 0 9.2 0a4.6 4.6 0 1 0 -9.2 0M236.0 1104.7a4.6 4.6 0 1 0 9.2 0a4.6 4.6 0 1 0 -9.2 0M239.0 1104.7a4.6 4.6 0 1 0 9.2 0a4.6 4.6 0 1 0 -9.2 0M242.0 1104.7a4.6 4.6 0 1 0 9.2 0a4.6 4.6 0 1 0 -9.2 0M245.0 1104.7a4.6 4.6 0 1 0 9.2 0a4.6 4.6 0 1 0 -9.2 0M248.1 1104.7a4.6 4.6 0 1 0 9.2 0a4.6 4.6 0 1 0 -9.2 0M251.1 1104.7a4.6 4.6 0 1 0 9.2 0a4.6 4.6 0 1 0 -9.2 0M254.1 1104.7a4.6 4.6 0 1 0 9.2 0a4.6 4.6 0 1 0 -9.2 0M257.1 1104.7a4.6 4.6 0 1 0 9.2 0a4.6 4.6 0 1 0 -9.2 0M260.2 1104.7a4.6 4.6 0 1 0 9.2 0a4.6 4.6 0 1 0 -9.2 0M263.2 1104.7a4.6 4.6 0 1 0 9.2 0a4.6 4.6 0 1 0 -9.2 0M266.2 1104.7a4.6 4.6 0 1 0 9.2 0a4.6 4.6 0 1 0 -9.2 0M269.2 1104.7a4.6 4.6 0 1 0 9.2 0a4.6 4.6 0 1 0 -9.2 0M272.3 1104.7a4.6 4.6 0 1 0 9.2 0a4.6 4.6 0 1 0 -9.2 0M275.3 1104.7a4.6 4.6 0 1 0 9.2 0a4.6 4.6 0 1 0 -9.2 0M278.3 1104.7a4.6 4.6 0 1 0 9.2 0a4.6 4.6 0 1 0 -9.2 0M281.3 1104.7a4.6 4.6 0 1 0 9.2 0a4.6 4.6 0 1 0 -9.2 0M284.4 1104.7a4.6 4.6 0 1 0 9.2 0a4.6 4.6 0 1 0 -9.2 0M287.4 1104.7a4.6 4.6 0 1 0 9.2 0a4.6 4.6 0 1 0 -9.2 0M290.4 1104.7a4.6 4.6 0 1 0 9.2 0a4.6 4.6 0 1 0 -9.2 0M293.4 1104.7a4.6 4.6 0 1 0 9.2 0a4.6 4.6 0 1 0 -9.2 0M296.4 1104.7a4.6 4.6 0 1 0 9.2 0a4.6 4.6 0 1 0 -9.2 0M299.5 1104.7a4.6 4.6 0 1 0 9.2 0a4.6 4.6 0 1 0 -9.2 0M302.5 1104.7a4.6 4.6 0 1 0 9.2 0a4.6 4.6 0 1 0 -9.2 0M305.5 1104.0a4.6 4.6 0 1 0 9.2 0a4.6 4.6 0 1 0 -9.2 0M308.5 1103.4a4.6 4.6 0 1 0 9.2 0a4.6 4.6 0 1 0 -9.2 0M311.6 1103.4a4.6 4.6 0 1 0 9.2 0a4.6 4.6 0 1 0 -9.2 0M314.6 1103.4a4.6 4.6 0 1 0 9.2 0a4.6 4.6 0 1 0 -9.2 0M317.6 1103.4a4.6 4.6 0 1 0 9.2 0a4.6 4.6 0 1 0 -9.2 0M320.6 1103.4a4.6 4.6 0 1 0 9.2 0a4.6 4.6 0 1 0 -9.2 0M323.7 1103.4a4.6 4.6 0 1 0 9.2 0a4.6 4.6 0 1 0 -9.2 0M326.7 1103.4a4.6 4.6 0 1 0 9.2 0a4.6 4.6 0 1 0 -9.2 0M329.7 1103.5a4.6 4.6 0 1 0 9.2 0a4.6 4.6 0 1 0 -9.2 0M332.7 1103.5a4.6 4.6 0 1 0 9.2 0a4.6 4.6 0 1 0 -9.2 0M335.8 1103.5a4.6 4.6 0 1 0 9.2 0a4.6 4.6 0 1 0 -9.2 0M338.8 1103.5a4.6 4.6 0 1 0 9.2 0a4.6 4.6 0 1 0 -9.2 0M341.8 1103.5a4.6 4.6 0 1 0 9.2 0a4.6 4.6 0 1 0 -9.2 0M344.8 1103.5a4.6 4.6 0 1 0 9.2 0a4.6 4.6 0 1 0 -9.2 0M347.9 1103.5a4.6 4.6 0 1 0 9.2 0a4.6 4.6 0 1 0 -9.2 0M350.9 1103.5a4.6 4.6 0 1 0 9.2 0a4.6 4.6 0 1 0 -9.2 0M353.9 1103.5a4.6 4.6 0 1 0 9.2 0a4.6 4.6 0 1 0 -9.2 0M356.9 1103.5a4.6 4.6 0 1 0 9.2 0a4.6 4.6 0 1 0 -9.2 0M360.0 1103.5a4.6 4.6 0 1 0 9.2 0a4.6 4.6 0 1 0 -9.2 0M363.0 1103.5a4.6 4.6 0 1 0 9.2 0a4.6 4.6 0 1 0 -9.2 0M366.0 1103.5a4.6 4.6 0 1 0 9.2 0a4.6 4.6 0 1 0 -9.2 0M369.0 1103.5a4.6 4.6 0 1 0 9.2 0a4.6 4.6 0 1 0 -9.2 0M372.1 1103.5a4.6 4.6 0 1 0 9.2 0a4.6 4.6 0 1 0 -9.2 0M375.1 1103.6a4.6 4.6 0 1 0 9.2 0a4.6 4.6 0 1 0 -9.2 0M378.1 1103.6a4.6 4.6 0 1 0 9.2 0a4.6 4.6 0 1 0 -9.2 0M381.1 1103.6a4.6 4.6 0 1 0 9.2 0a4.6 4.6 0 1 0 -9.2 0M384.2 1103.6a4.6 4.6 0 1 0 9.2 0a4.6 4.6 0 1 0 -9.2 0M387.2 1103.6a4.6 4.6 0 1 0 9.2 0a4.6 4.6 0 1 0 -9.2 0M390.2 1103.6a4.6 4.6 0 1 0 9.2 0a4.6 4.6 0 1 0 -9.2 0M393.2 1103.6a4.6 4.6 0 1 0 9.2 0a4.6 4.6 0 1 0 -9.2 0M396.3 1103.6a4.6 4.6 0 1 0 9.2 0a4.6 4.6 0 1 0 -9.2 0M399.3 1103.6a4.6 4.6 0 1 0 9.2 0a4.6 4.6 0 1 0 -9.2 0M402.3 1103.6a4.6 4.6 0 1 0 9.2 0a4.6 4.6 0 1 0 -9.2 0M405.3 1103.6a4.6 4.6 0 1 0 9.2 0a4.6 4.6 0 1 0 -9.2 0M408.4 1103.6a4.6 4.6 0 1 0 9.2 0a4.6 4.6 0 1 0 -9.2 0M411.4 1103.6a4.6 4.6 0 1 0 9.2 0a4.6 4.6 0 1 0 -9.2 0M414.4 1103.6a4.6 4.6 0 1 0 9.2 0a4.6 4.6 0 1 0 -9.2 0M417.4 1103.6a4.6 4.6 0 1 0 9.2 0a4.6 4.6 0 1 0 -9.2 0M420.5 1103.7a4.6 4.6 0 1 0 9.2 0a4.6 4.6 0 1 0 -9.2 0M423.5 1103.7a4.6 4.6 0 1 0 9.2 0a4.6 4.6 0 1 0 -9.2 0M426.5 1103.7a4.6 4.6 0 1 0 9.2 0a4.6 4.6 0 1 0 -9.2 0M429.5 1103.7a4.6 4.6 0 1 0 9.2 0a4.6 4.6 0 1 0 -9.2 0M432.6 1103.7a4.6 4.6 0 1 0 9.2 0a4.6 4.6 0 1 0 -9.2 0M435.6 1103.7a4.6 4.6 0 1 0 9.2 0a4.6 4.6 0 1 0 -9.2 0M438.6 1103.7a4.6 4.6 0 1 0 9.2 0a4.6 4.6 0 1 0 -9.2 0M441.6 1103.7a4.6 4.6 0 1 0 9.2 0a4.6 4.6 0 1 0 -9.2 0M444.7 1103.7a4.6 4.6 0 1 0 9.2 0a4.6 4.6 0 1 0 -9.2 0M447.7 1103.7a4.6 4.6 0 1 0 9.2 0a4.6 4.6 0 1 0 -9.2 0M450.7 1103.7a4.6 4.6 0 1 0 9.2 0a4.6 4.6 0 1 0 -9.2 0M453.7 1103.7a4.6 4.6 0 1 0 9.2 0a4.6 4.6 0 1 0 -9.2 0M456.8 1103.7a4.6 4.6 0 1 0 9.2 0a4.6 4.6 0 1 0 -9.2 0M459.8 1103.7a4.6 4.6 0 1 0 9.2 0a4.6 4.6 0 1 0 -9.2 0M462.8 1103.7a4.6 4.6 0 1 0 9.2 0a4.6 4.6 0 1 0 -9.2 0M465.8 1103.8a4.6 4.6 0 1 0 9.2 0a4.6 4.6 0 1 0 -9.2 0M468.9 1103.8a4.6 4.6 0 1 0 9.2 0a4.6 4.6 0 1 0 -9.2 0M471.9 1103.8a4.6 4.6 0 1 0 9.2 0a4.6 4.6 0 1 0 -9.2 0M474.9 1103.8a4.6 4.6 0 1 0 9.2 0a4.6 4.6 0 1 0 -9.2 0M477.9 1103.8a4.6 4.6 0 1 0 9.2 0a4.6 4.6 0 1 0 -9.2 0M481.0 1103.8a4.6 4.6 0 1 0 9.2 0a4.6 4.6 0 1 0 -9.2 0M484.0 1103.8a4.6 4.6 0 1 0 9.2 0a4.6 4.6 0 1 0 -9.2 0M487.0 1103.8a4.6 4.6 0 1 0 9.2 0a4.6 4.6 0 1 0 -9.2 0M490.0 1103.0a4.6 4.6 0 1 0 9.2 0a4.6 4.6 0 1 0 -9.2 0M493.1 1103.0a4.6 4.6 0 1 0 9.2 0a4.6 4.6 0 1 0 -9.2 0M496.1 1103.0a4.6 4.6 0 1 0 9.2 0a4.6 4.6 0 1 0 -9.2 0M499.1 1103.0a4.6 4.6 0 1 0 9.2 0a4.6 4.6 0 1 0 -9.2 0M502.1 1103.0a4.6 4.6 0 1 0 9.2 0a4.6 4.6 0 1 0 -9.2 0M505.2 1103.0a4.6 4.6 0 1 0 9.2 0a4.6 4.6 0 1 0 -9.2 0M508.2 1103.0a4.6 4.6 0 1 0 9.2 0a4.6 4.6 0 1 0 -9.2 0M511.2 1103.0a4.6 4.6 0 1 0 9.2 0a4.6 4.6 0 1 0 -9.2 0M514.2 1103.0a4.6 4.6 0 1 0 9.2 0a4.6 4.6 0 1 0 -9.2 0M517.3 1103.0a4.6 4.6 0 1 0 9.2 0a4.6 4.6 0 1 0 -9.2 0M520.3 1104.1a4.6 4.6 0 1 0 9.2 0a4.6 4.6 0 1 0 -9.2 0M523.3 1104.1a4.6 4.6 0 1 0 9.2 0a4.6 4.6 0 1 0 -9.2 0M526.3 1104.1a4.6 4.6 0 1 0 9.2 0a4.6 4.6 0 1 0 -9.2 0M529.4 1104.1a4.6 4.6 0 1 0 9.2 0a4.6 4.6 0 1 0 -9.2 0M532.4 1104.1a4.6 4.6 0 1 0 9.2 0a4.6 4.6 0 1 0 -9.2 0M535.4 1104.1a4.6 4.6 0 1 0 9.2 0a4.6 4.6 0 1 0 -9.2 0M538.4 1104.1a4.6 4.6 0 1 0 9.2 0a4.6 4.6 0 1 0 -9.2 0M541.5 1104.1a4.6 4.6 0 1 0 9.2 0a4.6 4.6 0 1 0 -9.2 0M544.5 1104.1a4.6 4.6 0 1 0 9.2 0a4.6 4.6 0 1 0 -9.2 0M547.5 1104.1a4.6 4.6 0 1 0 9.2 0a4.6 4.6 0 1 0 -9.2 0M550.5 1104.1a4.6 4.6 0 1 0 9.2 0a4.6 4.6 0 1 0 -9.2 0M553.6 1105.6a4.6 4.6 0 1 0 9.2 0a4.6 4.6 0 1 0 -9.2 0M556.6 1105.6a4.6 4.6 0 1 0 9.2 0a4.6 4.6 0 1 0 -9.2 0M559.6 1105.6a4.6 4.6 0 1 0 9.2 0a4.6 4.6 0 1 0 -9.2 0M562.6 1105.6a4.6 4.6 0 1 0 9.2 0a4.6 4.6 0 1 0 -9.2 0M565.7 1105.6a4.6 4.6 0 1 0 9.2 0a4.6 4.6 0 1 0 -9.2 0M568.7 1105.6a4.6 4.6 0 1 0 9.2 0a4.6 4.6 0 1 0 -9.2 0M571.7 1105.6a4.6 4.6 0 1 0 9.2 0a4.6 4.6 0 1 0 -9.2 0M574.7 1105.6a4.6 4.6 0 1 0 9.2 0a4.6 4.6 0 1 0 -9.2 0M577.8 1105.6a4.6 4.6 0 1 0 9.2 0a4.6 4.6 0 1 0 -9.2 0M580.8 1105.6a4.6 4.6 0 1 0 9.2 0a4.6 4.6 0 1 0 -9.2 0M583.8 1105.6a4.6 4.6 0 1 0 9.2 0a4.6 4.6 0 1 0 -9.2 0M586.8 1105.6a4.6 4.6 0 1 0 9.2 0a4.6 4.6 0 1 0 -9.2 0M589.9 1105.6a4.6 4.6 0 1 0 9.2 0a4.6 4.6 0 1 0 -9.2 0M592.9 1105.6a4.6 4.6 0 1 0 9.2 0a4.6 4.6 0 1 0 -9.2 0M595.9 1105.6a4.6 4.6 0 1 0 9.2 0a4.6 4.6 0 1 0 -9.2 0M598.9 1105.6a4.6 4.6 0 1 0 9.2 0a4.6 4.6 0 1 0 -9.2 0M602.0 1105.6a4.6 4.6 0 1 0 9.2 0a4.6 4.6 0 1 0 -9.2 0M605.0 1105.6a4.6 4.6 0 1 0 9.2 0a4.6 4.6 0 1 0 -9.2 0M608.0 1105.6a4.6 4.6 0 1 0 9.2 0a4.6 4.6 0 1 0 -9.2 0M611.0 1105.6a4.6 4.6 0 1 0 9.2 0a4.6 4.6 0 1 0 -9.2 0M614.1 1105.6a4.6 4.6 0 1 0 9.2 0a4.6 4.6 0 1 0 -9.2 0M617.1 1105.6a4.6 4.6 0 1 0 9.2 0a4.6 4.6 0 1 0 -9.2 0M620.1 1105.6a4.6 4.6 0 1 0 9.2 0a4.6 4.6 0 1 0 -9.2 0M623.1 1105.6a4.6 4.6 0 1 0 9.2 0a4.6 4.6 0 1 0 -9.2 0M626.2 1105.6a4.6 4.6 0 1 0 9.2 0a4.6 4.6 0 1 0 -9.2 0M629.2 1105.6a4.6 4.6 0 1 0 9.2 0a4.6 4.6 0 1 0 -9.2 0M632.2 1105.6a4.6 4.6 0 1 0 9.2 0a4.6 4.6 0 1 0 -9.2 0M635.2 1105.6a4.6 4.6 0 1 0 9.2 0a4.6 4.6 0 1 0 -9.2 0M638.3 1105.6a4.6 4.6 0 1 0 9.2 0a4.6 4.6 0 1 0 -9.2 0M641.3 1105.6a4.6 4.6 0 1 0 9.2 0a4.6 4.6 0 1 0 -9.2 0M644.3 1105.6a4.6 4.6 0 1 0 9.2 0a4.6 4.6 0 1 0 -9.2 0M647.3 1105.6a4.6 4.6 0 1 0 9.2 0a4.6 4.6 0 1 0 -9.2 0M650.4 1106.3a4.6 4.6 0 1 0 9.2 0a4.6 4.6 0 1 0 -9.2 0M653.4 1106.3a4.6 4.6 0 1 0 9.2 0a4.6 4.6 0 1 0 -9.2 0M656.4 1106.3a4.6 4.6 0 1 0 9.2 0a4.6 4.6 0 1 0 -9.2 0M659.4 1106.3a4.6 4.6 0 1 0 9.2 0a4.6 4.6 0 1 0 -9.2 0M662.5 1106.3a4.6 4.6 0 1 0 9.2 0a4.6 4.6 0 1 0 -9.2 0M665.5 1106.3a4.6 4.6 0 1 0 9.2 0a4.6 4.6 0 1 0 -9.2 0M668.5 1106.3a4.6 4.6 0 1 0 9.2 0a4.6 4.6 0 1 0 -9.2 0M738.1 1111.8a4.6 4.6 0 1 0 9.2 0a4.6 4.6 0 1 0 -9.2 0M741.1 1111.3a4.6 4.6 0 1 0 9.2 0a4.6 4.6 0 1 0 -9.2 0M744.1 1110.7a4.6 4.6 0 1 0 9.2 0a4.6 4.6 0 1 0 -9.2 0M747.2 1111.1a4.6 4.6 0 1 0 9.2 0a4.6 4.6 0 1 0 -9.2 0M750.2 1111.4a4.6 4.6 0 1 0 9.2 0a4.6 4.6 0 1 0 -9.2 0M753.2 1111.4a4.6 4.6 0 1 0 9.2 0a4.6 4.6 0 1 0 -9.2 0M756.2 1111.4a4.6 4.6 0 1 0 9.2 0a4.6 4.6 0 1 0 -9.2 0M759.3 1111.4a4.6 4.6 0 1 0 9.2 0a4.6 4.6 0 1 0 -9.2 0M762.3 1111.4a4.6 4.6 0 1 0 9.2 0a4.6 4.6 0 1 0 -9.2 0M765.3 1111.4a4.6 4.6 0 1 0 9.2 0a4.6 4.6 0 1 0 -9.2 0M768.3 1111.3a4.6 4.6 0 1 0 9.2 0a4.6 4.6 0 1 0 -9.2 0M771.4 1111.3a4.6 4.6 0 1 0 9.2 0a4.6 4.6 0 1 0 -9.2 0M774.4 1111.3a4.6 4.6 0 1 0 9.2 0a4.6 4.6 0 1 0 -9.2 0M777.4 1111.3a4.6 4.6 0 1 0 9.2 0a4.6 4.6 0 1 0 -9.2 0M780.4 1111.3a4.6 4.6 0 1 0 9.2 0a4.6 4.6 0 1 0 -9.2 0M783.5 1111.3a4.6 4.6 0 1 0 9.2 0a4.6 4.6 0 1 0 -9.2 0M786.5 1110.6a4.6 4.6 0 1 0 9.2 0a4.6 4.6 0 1 0 -9.2 0M789.5 1110.6a4.6 4.6 0 1 0 9.2 0a4.6 4.6 0 1 0 -9.2 0M792.5 1110.6a4.6 4.6 0 1 0 9.2 0a4.6 4.6 0 1 0 -9.2 0M795.6 1110.6a4.6 4.6 0 1 0 9.2 0a4.6 4.6 0 1 0 -9.2 0M798.6 1110.6a4.6 4.6 0 1 0 9.2 0a4.6 4.6 0 1 0 -9.2 0M801.6 1110.6a4.6 4.6 0 1 0 9.2 0a4.6 4.6 0 1 0 -9.2 0M804.6 1110.6a4.6 4.6 0 1 0 9.2 0a4.6 4.6 0 1 0 -9.2 0M807.7 1110.6a4.6 4.6 0 1 0 9.2 0a4.6 4.6 0 1 0 -9.2 0M810.7 1110.2a4.6 4.6 0 1 0 9.2 0a4.6 4.6 0 1 0 -9.2 0M813.7 1109.3a4.6 4.6 0 1 0 9.2 0a4.6 4.6 0 1 0 -9.2 0M816.7 1109.3a4.6 4.6 0 1 0 9.2 0a4.6 4.6 0 1 0 -9.2 0M819.8 1109.3a4.6 4.6 0 1 0 9.2 0a4.6 4.6 0 1 0 -9.2 0M822.8 1109.3a4.6 4.6 0 1 0 9.2 0a4.6 4.6 0 1 0 -9.2 0M825.8 1109.3a4.6 4.6 0 1 0 9.2 0a4.6 4.6 0 1 0 -9.2 0M828.8 1109.3a4.6 4.6 0 1 0 9.2 0a4.6 4.6 0 1 0 -9.2 0M831.9 1109.3a4.6 4.6 0 1 0 9.2 0a4.6 4.6 0 1 0 -9.2 0M834.9 1109.3a4.6 4.6 0 1 0 9.2 0a4.6 4.6 0 1 0 -9.2 0M837.9 1109.3a4.6 4.6 0 1 0 9.2 0a4.6 4.6 0 1 0 -9.2 0M840.9 1109.3a4.6 4.6 0 1 0 9.2 0a4.6 4.6 0 1 0 -9.2 0M844.0 1109.3a4.6 4.6 0 1 0 9.2 0a4.6 4.6 0 1 0 -9.2 0M847.0 1109.3a4.6 4.6 0 1 0 9.2 0a4.6 4.6 0 1 0 -9.2 0M850.0 1109.3a4.6 4.6 0 1 0 9.2 0a4.6 4.6 0 1 0 -9.2 0M853.0 1109.3a4.6 4.6 0 1 0 9.2 0a4.6 4.6 0 1 0 -9.2 0M856.1 1109.3a4.6 4.6 0 1 0 9.2 0a4.6 4.6 0 1 0 -9.2 0M859.1 1109.3a4.6 4.6 0 1 0 9.2 0a4.6 4.6 0 1 0 -9.2 0M862.1 1108.4a4.6 4.6 0 1 0 9.2 0a4.6 4.6 0 1 0 -9.2 0M865.1 1108.4a4.6 4.6 0 1 0 9.2 0a4.6 4.6 0 1 0 -9.2 0M868.2 1108.4a4.6 4.6 0 1 0 9.2 0a4.6 4.6 0 1 0 -9.2 0M871.2 1108.4a4.6 4.6 0 1 0 9.2 0a4.6 4.6 0 1 0 -9.2 0M874.2 1108.4a4.6 4.6 0 1 0 9.2 0a4.6 4.6 0 1 0 -9.2 0M877.2 1108.4a4.6 4.6 0 1 0 9.2 0a4.6 4.6 0 1 0 -9.2 0M880.3 1108.4a4.6 4.6 0 1 0 9.2 0a4.6 4.6 0 1 0 -9.2 0M883.3 1108.4a4.6 4.6 0 1 0 9.2 0a4.6 4.6 0 1 0 -9.2 0M886.3 1108.4a4.6 4.6 0 1 0 9.2 0a4.6 4.6 0 1 0 -9.2 0M889.3 1108.4a4.6 4.6 0 1 0 9.2 0a4.6 4.6 0 1 0 -9.2 0M892.4 1108.4a4.6 4.6 0 1 0 9.2 0a4.6 4.6 0 1 0 -9.2 0M895.4 1108.4a4.6 4.6 0 1 0 9.2 0a4.6 4.6 0 1 0 -9.2 0M898.4 1108.4a4.6 4.6 0 1 0 9.2 0a4.6 4.6 0 1 0 -9.2 0M901.4 1108.3a4.6 4.6 0 1 0 9.2 0a4.6 4.6 0 1 0 -9.2 0M904.5 1108.3a4.6 4.6 0 1 0 9.2 0a4.6 4.6 0 1 0 -9.2 0M907.5 1108.3a4.6 4.6 0 1 0 9.2 0a4.6 4.6 0 1 0 -9.2 0M910.5 1108.3a4.6 4.6 0 1 0 9.2 0a4.6 4.6 0 1 0 -9.2 0M913.5 1108.3a4.6 4.6 0 1 0 9.2 0a4.6 4.6 0 1 0 -9.2 0M916.6 1108.3a4.6 4.6 0 1 0 9.2 0a4.6 4.6 0 1 0 -9.2 0M919.6 1108.3a4.6 4.6 0 1 0 9.2 0a4.6 4.6 0 1 0 -9.2 0M922.6 1108.3a4.6 4.6 0 1 0 9.2 0a4.6 4.6 0 1 0 -9.2 0M925.6 1108.3a4.6 4.6 0 1 0 9.2 0a4.6 4.6 0 1 0 -9.2 0M928.7 1108.3a4.6 4.6 0 1 0 9.2 0a4.6 4.6 0 1 0 -9.2 0M931.7 1108.3a4.6 4.6 0 1 0 9.2 0a4.6 4.6 0 1 0 -9.2 0M934.7 1108.3a4.6 4.6 0 1 0 9.2 0a4.6 4.6 0 1 0 -9.2 0M1055.7 1113.6a4.6 4.6 0 1 0 9.2 0a4.6 4.6 0 1 0 -9.2 0M1058.7 1113.7a4.6 4.6 0 1 0 9.2 0a4.6 4.6 0 1 0 -9.2 0M1061.8 1113.7a4.6 4.6 0 1 0 9.2 0a4.6 4.6 0 1 0 -9.2 0M1064.8 1113.8a4.6 4.6 0 1 0 9.2 0a4.6 4.6 0 1 0 -9.2 0M1067.8 1112.8a4.6 4.6 0 1 0 9.2 0a4.6 4.6 0 1 0 -9.2 0M1070.8 1112.8a4.6 4.6 0 1 0 9.2 0a4.6 4.6 0 1 0 -9.2 0M1073.9 1112.8a4.6 4.6 0 1 0 9.2 0a4.6 4.6 0 1 0 -9.2 0M1076.9 1112.8a4.6 4.6 0 1 0 9.2 0a4.6 4.6 0 1 0 -9.2 0M1079.9 1112.8a4.6 4.6 0 1 0 9.2 0a4.6 4.6 0 1 0 -9.2 0M1082.9 1112.8a4.6 4.6 0 1 0 9.2 0a4.6 4.6 0 1 0 -9.2 0M1086.0 1112.8a4.6 4.6 0 1 0 9.2 0a4.6 4.6 0 1 0 -9.2 0M1089.0 1112.8a4.6 4.6 0 1 0 9.2 0a4.6 4.6 0 1 0 -9.2 0M1092.0 1112.8a4.6 4.6 0 1 0 9.2 0a4.6 4.6 0 1 0 -9.2 0M1095.0 1112.8a4.6 4.6 0 1 0 9.2 0a4.6 4.6 0 1 0 -9.2 0M1098.1 1112.8a4.6 4.6 0 1 0 9.2 0a4.6 4.6 0 1 0 -9.2 0M1101.1 1112.8a4.6 4.6 0 1 0 9.2 0a4.6 4.6 0 1 0 -9.2 0M1104.1 1112.1a4.6 4.6 0 1 0 9.2 0a4.6 4.6 0 1 0 -9.2 0M1107.1 1111.8a4.6 4.6 0 1 0 9.2 0a4.6 4.6 0 1 0 -9.2 0M1110.2 1111.8a4.6 4.6 0 1 0 9.2 0a4.6 4.6 0 1 0 -9.2 0M1113.2 1111.8a4.6 4.6 0 1 0 9.2 0a4.6 4.6 0 1 0 -9.2 0M1116.2 1111.8a4.6 4.6 0 1 0 9.2 0a4.6 4.6 0 1 0 -9.2 0M1119.2 1111.8a4.6 4.6 0 1 0 9.2 0a4.6 4.6 0 1 0 -9.2 0M1122.3 1111.8a4.6 4.6 0 1 0 9.2 0a4.6 4.6 0 1 0 -9.2 0M1125.3 1111.8a4.6 4.6 0 1 0 9.2 0a4.6 4.6 0 1 0 -9.2 0M1128.3 1111.8a4.6 4.6 0 1 0 9.2 0a4.6 4.6 0 1 0 -9.2 0M1131.3 1111.8a4.6 4.6 0 1 0 9.2 0a4.6 4.6 0 1 0 -9.2 0M1134.4 1111.8a4.6 4.6 0 1 0 9.2 0a4.6 4.6 0 1 0 -9.2 0M1137.4 1111.8a4.6 4.6 0 1 0 9.2 0a4.6 4.6 0 1 0 -9.2 0M1140.4 1111.8a4.6 4.6 0 1 0 9.2 0a4.6 4.6 0 1 0 -9.2 0M1143.4 1110.8a4.6 4.6 0 1 0 9.2 0a4.6 4.6 0 1 0 -9.2 0M1146.5 1110.8a4.6 4.6 0 1 0 9.2 0a4.6 4.6 0 1 0 -9.2 0M1149.5 1110.8a4.6 4.6 0 1 0 9.2 0a4.6 4.6 0 1 0 -9.2 0M1152.5 1110.8a4.6 4.6 0 1 0 9.2 0a4.6 4.6 0 1 0 -9.2 0M1155.5 1110.8a4.6 4.6 0 1 0 9.2 0a4.6 4.6 0 1 0 -9.2 0M1158.6 1110.8a4.6 4.6 0 1 0 9.2 0a4.6 4.6 0 1 0 -9.2 0M1161.6 1110.8a4.6 4.6 0 1 0 9.2 0a4.6 4.6 0 1 0 -9.2 0M1164.6 1110.8a4.6 4.6 0 1 0 9.2 0a4.6 4.6 0 1 0 -9.2 0M1167.6 1110.8a4.6 4.6 0 1 0 9.2 0a4.6 4.6 0 1 0 -9.2 0M1170.7 1110.8a4.6 4.6 0 1 0 9.2 0a4.6 4.6 0 1 0 -9.2 0M1173.7 1110.8a4.6 4.6 0 1 0 9.2 0a4.6 4.6 0 1 0 -9.2 0M1176.7 1110.8a4.6 4.6 0 1 0 9.2 0a4.6 4.6 0 1 0 -9.2 0M1179.7 1110.8a4.6 4.6 0 1 0 9.2 0a4.6 4.6 0 1 0 -9.2 0M1182.8 1110.8a4.6 4.6 0 1 0 9.2 0a4.6 4.6 0 1 0 -9.2 0M1185.8 1110.8a4.6 4.6 0 1 0 9.2 0a4.6 4.6 0 1 0 -9.2 0M1188.8 1110.8a4.6 4.6 0 1 0 9.2 0a4.6 4.6 0 1 0 -9.2 0M1191.8 1110.8a4.6 4.6 0 1 0 9.2 0a4.6 4.6 0 1 0 -9.2 0M1194.9 1110.8a4.6 4.6 0 1 0 9.2 0a4.6 4.6 0 1 0 -9.2 0M1197.9 1110.8a4.6 4.6 0 1 0 9.2 0a4.6 4.6 0 1 0 -9.2 0M1200.9 1110.7a4.6 4.6 0 1 0 9.2 0a4.6 4.6 0 1 0 -9.2 0M1204.0 1110.4a4.6 4.6 0 1 0 9.2 0a4.6 4.6 0 1 0 -9.2 0M1207.0 1110.0a4.6 4.6 0 1 0 9.2 0a4.6 4.6 0 1 0 -9.2 0M1210.0 1110.3a4.6 4.6 0 1 0 9.2 0a4.6 4.6 0 1 0 -9.2 0M1213.0 1110.6a4.6 4.6 0 1 0 9.2 0a4.6 4.6 0 1 0 -9.2 0M1216.1 1111.2a4.6 4.6 0 1 0 9.2 0a4.6 4.6 0 1 0 -9.2 0M1219.1 1111.2a4.6 4.6 0 1 0 9.2 0a4.6 4.6 0 1 0 -9.2 0M1222.1 1111.2a4.6 4.6 0 1 0 9.2 0a4.6 4.6 0 1 0 -9.2 0M1225.1 1111.2a4.6 4.6 0 1 0 9.2 0a4.6 4.6 0 1 0 -9.2 0M1228.2 1111.2a4.6 4.6 0 1 0 9.2 0a4.6 4.6 0 1 0 -9.2 0M1231.2 1111.2a4.6 4.6 0 1 0 9.2 0a4.6 4.6 0 1 0 -9.2 0M1234.2 1111.2a4.6 4.6 0 1 0 9.2 0a4.6 4.6 0 1 0 -9.2 0M1237.2 1111.2a4.6 4.6 0 1 0 9.2 0a4.6 4.6 0 1 0 -9.2 0M1240.3 1111.2a4.6 4.6 0 1 0 9.2 0a4.6 4.6 0 1 0 -9.2 0M1243.3 1111.2a4.6 4.6 0 1 0 9.2 0a4.6 4.6 0 1 0 -9.2 0M1246.3 1111.2a4.6 4.6 0 1 0 9.2 0a4.6 4.6 0 1 0 -9.2 0M1249.3 1111.2a4.6 4.6 0 1 0 9.2 0a4.6 4.6 0 1 0 -9.2 0M1252.4 1111.2a4.6 4.6 0 1 0 9.2 0a4.6 4.6 0 1 0 -9.2 0M1255.4 1111.2a4.6 4.6 0 1 0 9.2 0a4.6 4.6 0 1 0 -9.2 0M1258.4 1111.2a4.6 4.6 0 1 0 9.2 0a4.6 4.6 0 1 0 -9.2 0M1261.4 1111.2a4.6 4.6 0 1 0 9.2 0a4.6 4.6 0 1 0 -9.2 0M1264.5 1111.2a4.6 4.6 0 1 0 9.2 0a4.6 4.6 0 1 0 -9.2 0M1267.5 1111.2a4.6 4.6 0 1 0 9.2 0a4.6 4.6 0 1 0 -9.2 0M1270.5 1111.2a4.6 4.6 0 1 0 9.2 0a4.6 4.6 0 1 0 -9.2 0M1273.5 1111.2a4.6 4.6 0 1 0 9.2 0a4.6 4.6 0 1 0 -9.2 0M1276.6 1111.2a4.6 4.6 0 1 0 9.2 0a4.6 4.6 0 1 0 -9.2 0M1279.6 1111.2a4.6 4.6 0 1 0 9.2 0a4.6 4.6 0 1 0 -9.2 0M1282.6 1111.2a4.6 4.6 0 1 0 9.2 0a4.6 4.6 0 1 0 -9.2 0M1285.6 1111.2a4.6 4.6 0 1 0 9.2 0a4.6 4.6 0 1 0 -9.2 0M1288.7 1111.2a4.6 4.6 0 1 0 9.2 0a4.6 4.6 0 1 0 -9.2 0M1291.7 1111.2a4.6 4.6 0 1 0 9.2 0a4.6 4.6 0 1 0 -9.2 0M1294.7 1111.2a4.6 4.6 0 1 0 9.2 0a4.6 4.6 0 1 0 -9.2 0M1297.7 1111.2a4.6 4.6 0 1 0 9.2 0a4.6 4.6 0 1 0 -9.2 0M1300.8 1111.2a4.6 4.6 0 1 0 9.2 0a4.6 4.6 0 1 0 -9.2 0M1303.8 1111.8a4.6 4.6 0 1 0 9.2 0a4.6 4.6 0 1 0 -9.2 0M1306.8 1112.8a4.6 4.6 0 1 0 9.2 0a4.6 4.6 0 1 0 -9.2 0M1309.8 1112.8a4.6 4.6 0 1 0 9.2 0a4.6 4.6 0 1 0 -9.2 0M1312.9 1112.8a4.6 4.6 0 1 0 9.2 0a4.6 4.6 0 1 0 -9.2 0M1315.9 1112.8a4.6 4.6 0 1 0 9.2 0a4.6 4.6 0 1 0 -9.2 0M1318.9 1112.8a4.6 4.6 0 1 0 9.2 0a4.6 4.6 0 1 0 -9.2 0M1321.9 1112.8a4.6 4.6 0 1 0 9.2 0a4.6 4.6 0 1 0 -9.2 0M1325.0 1112.8a4.6 4.6 0 1 0 9.2 0a4.6 4.6 0 1 0 -9.2 0M1328.0 1112.8a4.6 4.6 0 1 0 9.2 0a4.6 4.6 0 1 0 -9.2 0M1331.0 1112.8a4.6 4.6 0 1 0 9.2 0a4.6 4.6 0 1 0 -9.2 0M1334.0 1112.8a4.6 4.6 0 1 0 9.2 0a4.6 4.6 0 1 0 -9.2 0M1337.1 1112.8a4.6 4.6 0 1 0 9.2 0a4.6 4.6 0 1 0 -9.2 0M1340.1 1112.8a4.6 4.6 0 1 0 9.2 0a4.6 4.6 0 1 0 -9.2 0M1343.1 1112.8a4.6 4.6 0 1 0 9.2 0a4.6 4.6 0 1 0 -9.2 0M1346.1 1112.8a4.6 4.6 0 1 0 9.2 0a4.6 4.6 0 1 0 -9.2 0M1349.2 1112.8a4.6 4.6 0 1 0 9.2 0a4.6 4.6 0 1 0 -9.2 0M1352.2 1112.8a4.6 4.6 0 1 0 9.2 0a4.6 4.6 0 1 0 -9.2 0M1355.2 1112.8a4.6 4.6 0 1 0 9.2 0a4.6 4.6 0 1 0 -9.2 0M1358.2 1112.8a4.6 4.6 0 1 0 9.2 0a4.6 4.6 0 1 0 -9.2 0M1361.3 1112.8a4.6 4.6 0 1 0 9.2 0a4.6 4.6 0 1 0 -9.2 0M1364.3 1112.8a4.6 4.6 0 1 0 9.2 0a4.6 4.6 0 1 0 -9.2 0M1367.3 1112.8a4.6 4.6 0 1 0 9.2 0a4.6 4.6 0 1 0 -9.2 0M1370.3 1112.8a4.6 4.6 0 1 0 9.2 0a4.6 4.6 0 1 0 -9.2 0M1373.4 1112.8a4.6 4.6 0 1 0 9.2 0a4.6 4.6 0 1 0 -9.2 0M673.0 1103.4a4.6 4.6 0 1 0 9.2 0a4.6 4.6 0 1 0 -9.2 0M675.8 1095.2a4.6 4.6 0 1 0 9.2 0a4.6 4.6 0 1 0 -9.2 0M678.5 1027.1a4.6 4.6 0 1 0 9.2 0a4.6 4.6 0 1 0 -9.2 0M681.7 945.3a4.6 4.6 0 1 0 9.2 0a4.6 4.6 0 1 0 -9.2 0M684.8 912.1a4.6 4.6 0 1 0 9.2 0a4.6 4.6 0 1 0 -9.2 0M687.8 1075.1a4.6 4.6 0 1 0 9.2 0a4.6 4.6 0 1 0 -9.2 0M690.6 1087.3a4.6 4.6 0 1 0 9.2 0a4.6 4.6 0 1 0 -9.2 0M693.6 1024.1a4.6 4.6 0 1 0 9.2 0a4.6 4.6 0 1 0 -9.2 0M696.6 1086.4a4.6 4.6 0 1 0 9.2 0a4.6 4.6 0 1 0 -9.2 0M699.6 1086.4a4.6 4.6 0 1 0 9.2 0a4.6 4.6 0 1 0 -9.2 0M702.6 1096.3a4.6 4.6 0 1 0 9.2 0a4.6 4.6 0 1 0 -9.2 0M705.6 1096.3a4.6 4.6 0 1 0 9.2 0a4.6 4.6 0 1 0 -9.2 0M708.6 1096.1a4.6 4.6 0 1 0 9.2 0a4.6 4.6 0 1 0 -9.2 0M711.3 1103.2a4.6 4.6 0 1 0 9.2 0a4.6 4.6 0 1 0 -9.2 0M714.4 1105.2a4.6 4.6 0 1 0 9.2 0a4.6 4.6 0 1 0 -9.2 0M717.4 1107.0a4.6 4.6 0 1 0 9.2 0a4.6 4.6 0 1 0 -9.2 0M720.4 1109.2a4.6 4.6 0 1 0 9.2 0a4.6 4.6 0 1 0 -9.2 0M723.4 1109.7a4.6 4.6 0 1 0 9.2 0a4.6 4.6 0 1 0 -9.2 0M726.4 1109.7a4.6 4.6 0 1 0 9.2 0a4.6 4.6 0 1 0 -9.2 0M729.4 1110.1a4.6 4.6 0 1 0 9.2 0a4.6 4.6 0 1 0 -9.2 0M732.4 1110.8a4.6 4.6 0 1 0 9.2 0a4.6 4.6 0 1 0 -9.2 0M735.4 1111.8a4.6 4.6 0 1 0 9.2 0a4.6 4.6 0 1 0 -9.2 0M941.0 1108.6a4.6 4.6 0 1 0 9.2 0a4.6 4.6 0 1 0 -9.2 0M943.9 1108.3a4.6 4.6 0 1 0 9.2 0a4.6 4.6 0 1 0 -9.2 0M946.7 1107.5a4.6 4.6 0 1 0 9.2 0a4.6 4.6 0 1 0 -9.2 0M949.6 1106.8a4.6 4.6 0 1 0 9.2 0a4.6 4.6 0 1 0 -9.2 0M952.7 1105.8a4.6 4.6 0 1 0 9.2 0a4.6 4.6 0 1 0 -9.2 0M955.4 1104.0a4.6 4.6 0 1 0 9.2 0a4.6 4.6 0 1 0 -9.2 0M958.0 1102.5a4.6 4.6 0 1 0 9.2 0a4.6 4.6 0 1 0 -9.2 0M960.4 1102.3a4.6 4.6 0 1 0 9.2 0a4.6 4.6 0 1 0 -9.2 0M963.8 1085.3a4.6 4.6 0 1 0 9.2 0a4.6 4.6 0 1 0 -9.2 0M966.8 945.4a4.6 4.6 0 1 0 9.2 0a4.6 4.6 0 1 0 -9.2 0M969.6 893.3a4.6 4.6 0 1 0 9.2 0a4.6 4.6 0 1 0 -9.2 0M972.7 1068.2a4.6 4.6 0 1 0 9.2 0a4.6 4.6 0 1 0 -9.2 0M975.7 1037.1a4.6 4.6 0 1 0 9.2 0a4.6 4.6 0 1 0 -9.2 0M978.8 982.4a4.6 4.6 0 1 0 9.2 0a4.6 4.6 0 1 0 -9.2 0M981.8 1054.2a4.6 4.6 0 1 0 9.2 0a4.6 4.6 0 1 0 -9.2 0M984.9 1079.3a4.6 4.6 0 1 0 9.2 0a4.6 4.6 0 1 0 -9.2 0M987.9 1047.4a4.6 4.6 0 1 0 9.2 0a4.6 4.6 0 1 0 -9.2 0M990.8 1007.3a4.6 4.6 0 1 0 9.2 0a4.6 4.6 0 1 0 -9.2 0M993.9 1094.2a4.6 4.6 0 1 0 9.2 0a4.6 4.6 0 1 0 -9.2 0M998.4 1098.6a4.6 4.6 0 1 0 9.2 0a4.6 4.6 0 1 0 -9.2 0M1002.8 1102.3a4.6 4.6 0 1 0 9.2 0a4.6 4.6 0 1 0 -9.2 0M1005.8 1091.2a4.6 4.6 0 1 0 9.2 0a4.6 4.6 0 1 0 -9.2 0M1008.9 956.4a4.6 4.6 0 1 0 9.2 0a4.6 4.6 0 1 0 -9.2 0M1011.9 1054.2a4.6 4.6 0 1 0 9.2 0a4.6 4.6 0 1 0 -9.2 0M1014.9 1096.4a4.6 4.6 0 1 0 9.2 0a4.6 4.6 0 1 0 -9.2 0M1018.1 1107.5a4.6 4.6 0 1 0 9.2 0a4.6 4.6 0 1 0 -9.2 0M1020.9 1107.2a4.6 4.6 0 1 0 9.2 0a4.6 4.6 0 1 0 -9.2 0M1023.6 1106.8a4.6 4.6 0 1 0 9.2 0a4.6 4.6 0 1 0 -9.2 0M1026.9 1108.6a4.6 4.6 0 1 0 9.2 0a4.6 4.6 0 1 0 -9.2 0M1030.4 1110.0a4.6 4.6 0 1 0 9.2 0a4.6 4.6 0 1 0 -9.2 0M1033.9 1110.8a4.6 4.6 0 1 0 9.2 0a4.6 4.6 0 1 0 -9.2 0M1037.4 1111.4a4.6 4.6 0 1 0 9.2 0a4.6 4.6 0 1 0 -9.2 0M1040.9 1111.8a4.6 4.6 0 1 0 9.2 0a4.6 4.6 0 1 0 -9.2 0M1044.4 1112.2a4.6 4.6 0 1 0 9.2 0a4.6 4.6 0 1 0 -9.2 0M1047.9 1112.6a4.6 4.6 0 1 0 9.2 0a4.6 4.6 0 1 0 -9.2 0M1051.4 1113.2a4.6 4.6 0 1 0 9.2 0a4.6 4.6 0 1 0 -9.2 0M86.9 1106.6a4.6 4.6 0 1 0 9.2 0a4.6 4.6 0 1 0 -9.2 0M92.9 1106.9a4.6 4.6 0 1 0 9.2 0a4.6 4.6 0 1 0 -9.2 0" fill="#000"/>
<path d="M1262.4 1125.4V882.5" stroke="#ff0000" stroke-width="3" stroke-dasharray="10.2 4.6" fill="none"/>
<circle cx="1262.5" cy="1111.4" r="5.9" fill="#ff0000"/>
</g>
<rect x="89.5" y="882.5" width="1284.8" height="242.9" fill="none" stroke="#000" stroke-width="1.1"/>
<text x="164.3" y="1149.5" font-size="19.1" textLength="33.9" lengthAdjust="spacingAndGlyphs" text-anchor="middle">500</text>
<text x="315.6" y="1149.5" font-size="19.1" textLength="33.9" lengthAdjust="spacingAndGlyphs" text-anchor="middle">750</text>
<text x="466.8" y="1149.5" font-size="19.1" textLength="45.3" lengthAdjust="spacingAndGlyphs" text-anchor="middle">1000</text>
<text x="618.0" y="1149.5" font-size="19.1" textLength="45.3" lengthAdjust="spacingAndGlyphs" text-anchor="middle">1250</text>
<text x="769.3" y="1149.5" font-size="19.1" textLength="45.3" lengthAdjust="spacingAndGlyphs" text-anchor="middle">1500</text>
<text x="920.5" y="1149.5" font-size="19.1" textLength="45.3" lengthAdjust="spacingAndGlyphs" text-anchor="middle">1750</text>
<text x="1071.8" y="1149.5" font-size="19.1" textLength="45.3" lengthAdjust="spacingAndGlyphs" text-anchor="middle">2000</text>
<text x="1223.0" y="1149.5" font-size="19.1" textLength="45.3" lengthAdjust="spacingAndGlyphs" text-anchor="middle">2250</text>
<text x="1374.3" y="1149.5" font-size="19.1" textLength="45.3" lengthAdjust="spacingAndGlyphs" text-anchor="middle">2500</text>
<text x="77.7" y="1124.1" font-size="18.8" textLength="32.0" lengthAdjust="spacingAndGlyphs" text-anchor="end">0.0</text>
<text x="77.7" y="1082.9" font-size="18.8" textLength="32.0" lengthAdjust="spacingAndGlyphs" text-anchor="end">2.5</text>
<text x="77.7" y="1041.7" font-size="18.8" textLength="32.0" lengthAdjust="spacingAndGlyphs" text-anchor="end">5.0</text>
<text x="77.7" y="1000.5" font-size="18.8" textLength="32.0" lengthAdjust="spacingAndGlyphs" text-anchor="end">7.5</text>
<text x="77.7" y="959.3" font-size="18.8" textLength="40.5" lengthAdjust="spacingAndGlyphs" text-anchor="end">10.0</text>
<text x="77.7" y="918.1" font-size="18.8" textLength="40.5" lengthAdjust="spacingAndGlyphs" text-anchor="end">12.5</text>
<path d="M164.3 1125.4v5M315.6 1125.4v5M466.8 1125.4v5M618.0 1125.4v5M769.3 1125.4v5M920.5 1125.4v5M1071.8 1125.4v5M1223.0 1125.4v5M1374.3 1125.4v5M89.5 1115.5h-5M89.5 1074.3h-5M89.5 1033.1h-5M89.5 991.9h-5M89.5 950.7h-5M89.5 909.5h-5" stroke="#000" stroke-width="1.1" fill="none"/>
<text x="533.9" y="870.0" font-size="23.3" textLength="396.0" lengthAdjust="spacingAndGlyphs">Spectral Profile at the marked point</text>
<text x="636.3" y="1175.9" font-size="21.9" textLength="189.2" lengthAdjust="spacingAndGlyphs">Wavelength (nm)</text>
<text x="27.8" y="1071.3" font-size="22.9" textLength="126.9" lengthAdjust="spacingAndGlyphs" transform="rotate(-90 27.8 1071.3)">Reflectance</text>
<rect x="1395.5" y="856.5" width="345.7" height="294.6" rx="3" fill="rgba(255,255,255,0.8)" stroke="#cccccc" stroke-width="1.1"/>
<rect x="1402.5" y="865.7" width="33.5" height="12" fill="rgba(238,130,238,0.2)" stroke="rgba(238,130,238,0.2)" stroke-width="1"/>
<text x="1449.5" y="878.0" font-size="19.0" textLength="102.4" lengthAdjust="spacingAndGlyphs">visible-violet</text>
<rect x="1402.5" y="892.0" width="33.5" height="12" fill="rgba(0,0,255,0.2)" stroke="rgba(0,0,255,0.2)" stroke-width="1"/>
<text x="1449.5" y="904.3" font-size="19.0" textLength="92.6" lengthAdjust="spacingAndGlyphs">visible-blue</text>
<rect x="1402.5" y="918.3" width="33.5" height="12" fill="rgba(0,255,255,0.2)" stroke="rgba(0,255,255,0.2)" stroke-width="1"/>
<text x="1449.5" y="930.6" font-size="19.0" textLength="96.2" lengthAdjust="spacingAndGlyphs">visible-cyan</text>
<rect x="1402.5" y="944.5" width="33.5" height="12" fill="rgba(0,128,0,0.2)" stroke="rgba(0,128,0,0.2)" stroke-width="1"/>
<text x="1449.5" y="956.8" font-size="19.0" textLength="104.6" lengthAdjust="spacingAndGlyphs">visible-green</text>
<rect x="1402.5" y="970.8" width="33.5" height="12" fill="rgba(255,255,0,0.2)" stroke="rgba(255,255,0,0.2)" stroke-width="1"/>
<text x="1449.5" y="983.1" font-size="19.0" textLength="109.4" lengthAdjust="spacingAndGlyphs">visible-yellow</text>
<rect x="1402.5" y="997.1" width="33.5" height="12" fill="rgba(255,165,0,0.2)" stroke="rgba(255,165,0,0.2)" stroke-width="1"/>
<text x="1449.5" y="1009.4" font-size="19.0" textLength="115.2" lengthAdjust="spacingAndGlyphs">visible-orange</text>
<rect x="1402.5" y="1023.4" width="33.5" height="12" fill="rgba(255,0,0,0.2)" stroke="rgba(255,0,0,0.2)" stroke-width="1"/>
<text x="1449.5" y="1035.7" font-size="19.0" textLength="84.0" lengthAdjust="spacingAndGlyphs">visible-red</text>
<rect x="1402.5" y="1049.7" width="33.5" height="12" fill="rgba(128,128,128,0.22)" stroke="rgba(128,128,128,0.22)" stroke-width="1"/>
<text x="1449.5" y="1062.0" font-size="19.0" textLength="105.8" lengthAdjust="spacingAndGlyphs">near-infrared</text>
<text x="1449.5" y="1088.2" font-size="19.0" textLength="155.8" lengthAdjust="spacingAndGlyphs">shortwave-infrared</text>
<rect x="1402.5" y="1102.2" width="33.5" height="12" fill="rgba(0,0,255,0.1)" stroke="rgba(0,0,255,0.1)" stroke-width="1"/>
<text x="1449.5" y="1114.5" font-size="19.0" textLength="164.6" lengthAdjust="spacingAndGlyphs">water vapor regions</text>
<path d="M1402.3 1134.2H1435.7" stroke="#ff0000" stroke-width="3" stroke-dasharray="9.5 4.5" fill="none"/>
<text x="1449.5" y="1140.8" font-size="19.0" textLength="284.5" lengthAdjust="spacingAndGlyphs">Selected wavelength: 2315.00 nm</text>
</svg>
</body></html>
